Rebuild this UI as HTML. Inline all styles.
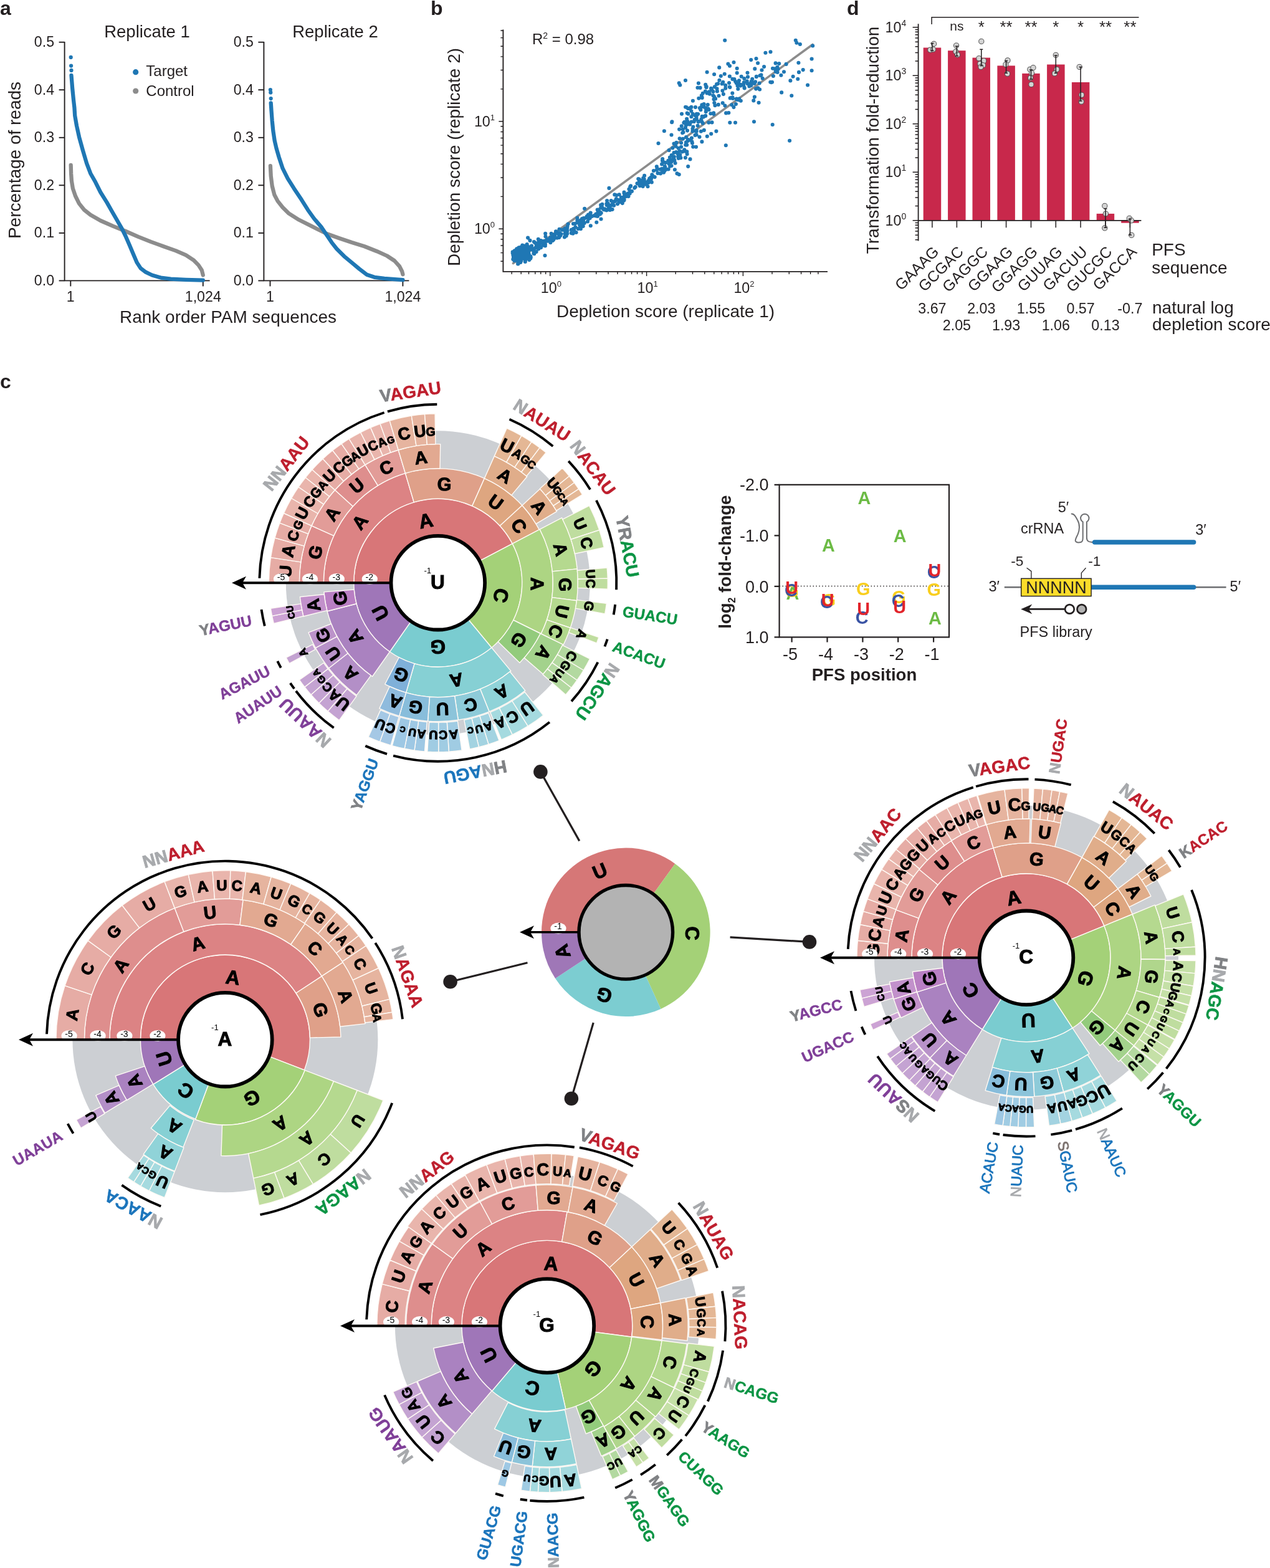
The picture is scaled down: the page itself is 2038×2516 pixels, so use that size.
<!DOCTYPE html>
<html lang="en"><head><meta charset="utf-8"><title>Figure</title>
<style>
html,body{margin:0;padding:0;background:#fff;}
body{width:2038px;height:2516px;overflow:hidden;}
svg{display:block;font-family:'Liberation Sans', sans-serif;}
</style></head><body>
<svg width="2038" height="2516" viewBox="0 0 2038 2516" fill="#231f20">

<g id="panel-a">
<text x="0.0" y="23.5" font-size="32" font-weight="bold">a</text>
<path d="M103.6 67.0V450.4H336.6" fill="none" stroke="#231f20" stroke-width="1.9"/>
<line x1="94.6" y1="450.4" x2="103.6" y2="450.4" stroke="#231f20" stroke-width="1.9"/>
<text x="87.1" y="457.9" font-size="23.2" text-anchor="end">0.0</text>
<line x1="94.6" y1="373.9" x2="103.6" y2="373.9" stroke="#231f20" stroke-width="1.9"/>
<text x="87.1" y="381.4" font-size="23.2" text-anchor="end">0.1</text>
<line x1="94.6" y1="297.3" x2="103.6" y2="297.3" stroke="#231f20" stroke-width="1.9"/>
<text x="87.1" y="304.8" font-size="23.2" text-anchor="end">0.2</text>
<line x1="94.6" y1="220.8" x2="103.6" y2="220.8" stroke="#231f20" stroke-width="1.9"/>
<text x="87.1" y="228.3" font-size="23.2" text-anchor="end">0.3</text>
<line x1="94.6" y1="144.2" x2="103.6" y2="144.2" stroke="#231f20" stroke-width="1.9"/>
<text x="87.1" y="151.7" font-size="23.2" text-anchor="end">0.4</text>
<line x1="94.6" y1="67.7" x2="103.6" y2="67.7" stroke="#231f20" stroke-width="1.9"/>
<text x="87.1" y="75.2" font-size="23.2" text-anchor="end">0.5</text>
<line x1="113.3" y1="450.4" x2="113.3" y2="459.4" stroke="#231f20" stroke-width="1.9"/>
<text x="113.3" y="483.9" font-size="23.2" text-anchor="middle">1</text>
<line x1="325.8" y1="450.4" x2="325.8" y2="459.4" stroke="#231f20" stroke-width="1.9"/>
<text x="325.8" y="483.9" font-size="23.2" text-anchor="middle">1,024</text>
<text x="236.0" y="59.5" font-size="27.5" text-anchor="middle">Replicate 1</text>
<path d="M423.4 67.0V450.4H656.4" fill="none" stroke="#231f20" stroke-width="1.9"/>
<line x1="414.4" y1="450.4" x2="423.4" y2="450.4" stroke="#231f20" stroke-width="1.9"/>
<text x="406.9" y="457.9" font-size="23.2" text-anchor="end">0.0</text>
<line x1="414.4" y1="373.9" x2="423.4" y2="373.9" stroke="#231f20" stroke-width="1.9"/>
<text x="406.9" y="381.4" font-size="23.2" text-anchor="end">0.1</text>
<line x1="414.4" y1="297.3" x2="423.4" y2="297.3" stroke="#231f20" stroke-width="1.9"/>
<text x="406.9" y="304.8" font-size="23.2" text-anchor="end">0.2</text>
<line x1="414.4" y1="220.8" x2="423.4" y2="220.8" stroke="#231f20" stroke-width="1.9"/>
<text x="406.9" y="228.3" font-size="23.2" text-anchor="end">0.3</text>
<line x1="414.4" y1="144.2" x2="423.4" y2="144.2" stroke="#231f20" stroke-width="1.9"/>
<text x="406.9" y="151.7" font-size="23.2" text-anchor="end">0.4</text>
<line x1="414.4" y1="67.7" x2="423.4" y2="67.7" stroke="#231f20" stroke-width="1.9"/>
<text x="406.9" y="75.2" font-size="23.2" text-anchor="end">0.5</text>
<line x1="433.5" y1="450.4" x2="433.5" y2="459.4" stroke="#231f20" stroke-width="1.9"/>
<text x="433.5" y="483.9" font-size="23.2" text-anchor="middle">1</text>
<line x1="646.4" y1="450.4" x2="646.4" y2="459.4" stroke="#231f20" stroke-width="1.9"/>
<text x="646.4" y="483.9" font-size="23.2" text-anchor="middle">1,024</text>
<text x="538.0" y="59.5" font-size="27.5" text-anchor="middle">Replicate 2</text>
<text x="366.0" y="518.0" font-size="28" text-anchor="middle">Rank order PAM sequences</text>
<text font-size="28" text-anchor="middle" transform="translate(32.5 257.0) rotate(-90.0)">Percentage of reads</text>
<path d="M113.7 264.9L114.1 278.2L114.9 290.3L116.9 302.4L121.0 314.5L127.0 326.6L135.1 336.7L145.2 344.8L161.3 354.0L181.5 362.9L201.6 371.0L221.8 379.8L241.9 387.9L262.1 395.2L282.3 402.4L298.4 409.3L310.5 417.3L318.5 425.4L323.8 433.5L325.8 441.5" fill="none" stroke="#8c8c8c" stroke-width="6.3" stroke-linecap="round" stroke-linejoin="round"/>
<path d="M114.5 121.0L116.1 141.1L118.1 161.3L119.4 172.6L120.2 185.5L123.0 201.6L127.0 219.8L133.1 241.9L139.1 262.1L145.2 278.2L153.2 292.3L161.3 308.5L171.4 324.6L179.4 338.7L187.5 352.8L195.6 366.9L201.6 379.0L207.7 393.1L213.7 407.3L219.8 421.4L225.8 430.6L233.9 436.7L244.0 441.5L258.1 445.6L274.2 447.6L298.4 448.8L325.8 449.6" fill="none" stroke="#1f77b4" stroke-width="6.3" stroke-linecap="round" stroke-linejoin="round"/>
<path d="M433.9 266.1L434.7 282.3L436.7 298.4L440.3 312.5L445.6 322.6L453.6 332.7L463.7 342.7L479.8 352.8L500.0 362.9L524.2 375.0L544.4 382.3L564.5 389.1L584.7 395.2L604.8 403.2L621.0 410.5L633.1 418.5L641.1 427.4L645.2 435.5L646.4 440.3" fill="none" stroke="#8c8c8c" stroke-width="6.3" stroke-linecap="round" stroke-linejoin="round"/>
<path d="M434.7 165.3L435.5 177.4L436.7 193.5L438.3 209.7L440.7 225.8L443.5 237.9L447.6 252.0L453.6 270.2L461.7 286.3L471.8 302.4L483.9 320.6L494.0 336.7L504.0 350.8L516.1 364.9L524.2 377.0L532.3 389.1L540.3 399.2L552.4 411.3L564.5 421.4L576.6 431.5L588.7 440.7L600.8 444.8L616.9 446.8L646.4 449.2" fill="none" stroke="#1f77b4" stroke-width="6.3" stroke-linecap="round" stroke-linejoin="round"/>
<circle cx="113.7" cy="91.9" r="3.1" fill="#1f77b4"/>
<circle cx="114.1" cy="105.6" r="3.1" fill="#1f77b4"/>
<circle cx="114.5" cy="112.9" r="3.1" fill="#1f77b4"/>
<circle cx="433.9" cy="144.0" r="3.1" fill="#1f77b4"/>
<circle cx="434.3" cy="148.4" r="3.1" fill="#1f77b4"/>
<circle cx="434.7" cy="158.1" r="3.1" fill="#1f77b4"/>
<circle cx="217.7" cy="115.7" r="4.6" fill="#1f77b4"/>
<circle cx="217.7" cy="146.0" r="4.6" fill="#8c8c8c"/>
<text x="234.3" y="122.2" font-size="24">Target</text>
<text x="234.3" y="153.6" font-size="24">Control</text>
</g>
<g id="panel-b">
<text x="691.0" y="23.5" font-size="32" font-weight="bold">b</text>
<path d="M807.4 47.6V435.9H1328" fill="none" stroke="#231f20" stroke-width="1.9"/>
<path d="M821.2 435.9v4M836.2 435.9v4M807.4 419.2h-4M848.5 435.9v4M807.4 405.6h-4M858.8 435.9v4M807.4 394.0h-4M867.8 435.9v4M807.4 384.0h-4M875.7 435.9v4M807.4 375.2h-4M882.8 435.9v7M807.4 367.3h-7M929.4 435.9v4M807.4 315.4h-4M956.7 435.9v4M807.4 285.0h-4M976.0 435.9v4M807.4 263.4h-4M991.0 435.9v4M807.4 246.7h-4M1003.3 435.9v4M807.4 233.1h-4M1013.6 435.9v4M807.4 221.5h-4M1022.6 435.9v4M807.4 211.5h-4M1030.5 435.9v4M807.4 202.7h-4M1037.6 435.9v7M807.4 194.8h-7M1084.2 435.9v4M807.4 142.9h-4M1111.5 435.9v4M807.4 112.5h-4M1130.8 435.9v4M807.4 90.9h-4M1145.8 435.9v4M807.4 74.2h-4M1158.1 435.9v4M807.4 60.6h-4M1168.4 435.9v4M807.4 49.0h-4M1177.4 435.9v4M1185.3 435.9v4M1192.4 435.9v7M1239.0 435.9v4M1266.3 435.9v4M1285.6 435.9v4M1300.6 435.9v4M1312.9 435.9v4" fill="none" stroke="#231f20" stroke-width="1.4"/>
<text x="867.8" y="470.4" font-size="23.3">10<tspan font-size="13" dy="-10">0</tspan></text>
<text x="1022.6" y="470.4" font-size="23.3">10<tspan font-size="13" dy="-10">1</tspan></text>
<text x="1177.4" y="470.4" font-size="23.3">10<tspan font-size="13" dy="-10">2</tspan></text>
<text x="760.9" y="375.3" font-size="23.3">10<tspan font-size="13" dy="-10">0</tspan></text>
<text x="760.9" y="202.8" font-size="23.3">10<tspan font-size="13" dy="-10">1</tspan></text>
<text x="1068.0" y="509.0" font-size="28" text-anchor="middle">Depletion score (replicate 1)</text>
<text font-size="28" text-anchor="middle" transform="translate(738.0 252.0) rotate(-90.0)">Depletion score (replicate 2)</text>
<text x="854" y="70.5" font-size="24">R<tspan font-size="14" dy="-9">2</tspan><tspan dy="9"> = 0.98</tspan></text>
<line x1="823.5" y1="422.5" x2="1304.0" y2="71.5" stroke="#8c8c8c" stroke-width="3.6" stroke-linecap="round"/>
<path d="M822.7 404.3h0M826.3 406.3h0M823.4 409.2h0M837.3 411.2h0M825.4 418.2h0M831.4 423.5h0M830.5 408.4h0M824.4 414.4h0M827.7 413.6h0M826.1 403.6h0M827.3 409.0h0M830.4 406.2h0M843.5 416.1h0M833.2 407.3h0M833.8 417.6h0M830.1 415.1h0M836.0 407.3h0M829.1 417.6h0M835.4 405.2h0M831.5 411.5h0M826.4 408.0h0M836.4 410.7h0M831.5 419.2h0M823.9 411.0h0M826.3 414.2h0M836.0 412.3h0M830.7 409.4h0M834.8 403.0h0M825.3 406.9h0M843.0 418.0h0M830.0 411.3h0M829.1 411.8h0M824.0 413.0h0M830.7 406.2h0M831.4 400.8h0M836.6 408.4h0M835.5 409.9h0M823.3 416.1h0M831.6 421.2h0M831.0 408.3h0M827.1 417.6h0M835.7 406.8h0M832.3 408.9h0M836.0 411.7h0M832.4 415.3h0M829.4 415.5h0M826.7 413.7h0M828.2 415.3h0M834.7 412.3h0M840.2 414.7h0M831.0 407.8h0M831.2 421.7h0M833.7 410.3h0M827.4 403.0h0M829.9 414.1h0M827.5 412.5h0M829.2 408.8h0M834.1 401.8h0M836.8 411.9h0M835.5 413.6h0M830.4 404.9h0M837.1 414.6h0M839.1 413.8h0M827.2 413.2h0M830.2 412.9h0M838.5 414.5h0M833.5 410.2h0M823.3 406.2h0M830.4 416.2h0M834.3 409.7h0M831.9 406.0h0M834.8 403.0h0M824.2 407.2h0M837.1 411.7h0M831.8 408.9h0M831.3 417.1h0M835.4 412.9h0M825.5 411.1h0M825.5 408.6h0M831.1 406.1h0M835.0 405.0h0M825.7 416.1h0M830.0 406.4h0M836.1 410.9h0M836.3 418.4h0M828.7 413.8h0M828.7 403.9h0M831.8 416.3h0M835.7 409.8h0M830.2 417.7h0M835.5 409.9h0M826.2 412.4h0M830.7 411.5h0M835.0 410.5h0M834.6 407.5h0M823.3 407.4h0M822.7 406.2h0M837.2 413.7h0M836.3 409.9h0M829.0 405.3h0M831.1 423.4h0M829.2 399.2h0M831.8 420.0h0M832.6 415.3h0M830.0 412.6h0M825.3 416.0h0M836.9 409.5h0M836.0 409.7h0M827.1 412.0h0M836.0 414.7h0M838.7 409.7h0M832.3 407.4h0M825.8 402.2h0M831.7 408.0h0M836.0 411.1h0M838.6 413.8h0M834.6 410.6h0M830.0 410.5h0M832.2 402.3h0M829.8 404.2h0M837.5 413.8h0M835.3 420.9h0M826.9 411.2h0M829.6 417.3h0M830.6 409.6h0M833.3 412.3h0M836.3 411.5h0M825.6 413.3h0M827.7 411.5h0M837.6 411.9h0M830.8 413.3h0M829.0 408.0h0M833.1 411.7h0M828.3 407.8h0M827.5 402.7h0M824.7 415.2h0M835.3 405.0h0M843.5 406.7h0M837.8 409.4h0M834.0 408.5h0M830.4 400.2h0M824.8 409.3h0M828.7 415.0h0M837.1 409.9h0M829.2 412.7h0M833.9 409.7h0M829.9 418.2h0M829.0 409.2h0M831.5 413.6h0M837.5 409.0h0M839.3 412.6h0M846.8 398.8h0M841.1 396.7h0M831.9 404.9h0M835.7 396.6h0M843.2 405.1h0M848.6 415.1h0M842.1 400.6h0M843.2 396.5h0M847.0 413.8h0M841.7 413.7h0M845.8 405.2h0M848.8 408.4h0M844.8 403.6h0M848.5 406.7h0M844.9 409.1h0M842.5 400.7h0M846.2 399.5h0M841.3 397.3h0M845.0 412.4h0M841.1 406.0h0M831.7 400.7h0M839.4 403.7h0M838.7 403.6h0M841.0 411.7h0M845.6 410.9h0M844.0 395.9h0M832.3 399.4h0M837.9 409.7h0M845.7 406.3h0M851.3 414.7h0M838.2 397.2h0M842.9 401.7h0M845.6 400.5h0M842.2 409.1h0M841.8 410.6h0M843.0 412.6h0M842.8 420.0h0M838.6 411.7h0M844.2 408.1h0M845.7 412.3h0M846.5 414.2h0M848.4 408.2h0M843.1 404.4h0M846.5 407.3h0M843.6 398.7h0M841.7 394.5h0M849.3 417.1h0M846.9 402.3h0M846.3 404.3h0M843.2 402.4h0M839.5 397.7h0M848.1 403.3h0M851.5 411.3h0M839.3 410.4h0M840.5 402.7h0M844.7 405.6h0M841.1 396.0h0M839.7 400.8h0M837.4 406.0h0M842.9 412.8h0M843.5 404.1h0M844.9 402.4h0M832.6 397.2h0M835.9 396.6h0M847.0 396.5h0M837.9 408.0h0M834.1 400.8h0M846.9 398.7h0M840.8 407.1h0M838.8 402.1h0M846.1 401.7h0M839.0 404.7h0M834.9 405.3h0M851.8 413.0h0M841.4 406.4h0M838.3 393.5h0M849.7 400.9h0M840.9 400.5h0M844.7 406.0h0M863.8 383.8h0M867.3 396.1h0M870.9 389.8h0M858.3 389.2h0M868.0 386.1h0M845.7 392.0h0M856.4 406.5h0M874.9 394.4h0M850.2 400.3h0M859.0 398.0h0M860.5 395.9h0M860.6 404.1h0M857.0 388.1h0M867.5 396.6h0M864.3 388.2h0M868.0 397.2h0M869.3 386.9h0M865.6 394.6h0M864.2 399.4h0M873.2 386.7h0M853.1 394.5h0M875.0 392.1h0M847.1 395.6h0M857.0 403.5h0M863.8 395.0h0M853.8 400.5h0M852.1 397.9h0M856.9 399.2h0M852.1 399.8h0M861.9 397.3h0M857.3 407.3h0M850.5 385.9h0M861.7 395.0h0M871.3 391.5h0M860.1 390.9h0M871.4 387.7h0M847.4 395.8h0M865.7 391.0h0M855.7 400.8h0M856.1 402.6h0M885.5 385.5h0M886.7 385.9h0M872.6 393.7h0M889.0 382.9h0M888.3 384.6h0M883.4 389.3h0M888.9 376.6h0M880.8 386.3h0M889.6 380.7h0M887.0 385.9h0M878.8 384.8h0M875.5 379.6h0M878.2 385.0h0M875.2 374.7h0M886.5 380.5h0M878.0 385.1h0M882.4 382.7h0M888.9 380.5h0M884.5 380.9h0M883.1 381.6h0M877.9 384.1h0M875.1 387.3h0M884.6 374.8h0M878.7 386.7h0M897.2 381.1h0M910.4 370.3h0M910.1 366.5h0M896.8 376.6h0M905.9 380.4h0M897.6 367.8h0M908.8 371.1h0M898.1 373.9h0M893.6 372.7h0M906.6 366.5h0M890.7 376.4h0M909.1 372.7h0M900.6 375.5h0M909.8 373.1h0M910.6 363.5h0M906.7 375.0h0M911.6 359.5h0M916.8 368.8h0M906.8 370.7h0M892.0 371.2h0M899.2 378.2h0M908.7 378.4h0M894.0 381.7h0M902.2 368.9h0M916.8 374.1h0M910.2 374.9h0M923.4 364.6h0M930.0 359.9h0M930.3 359.3h0M924.6 373.0h0M933.8 353.5h0M934.0 351.0h0M937.8 357.9h0M930.2 361.3h0M933.2 359.6h0M920.0 359.0h0M935.7 363.0h0M921.3 369.3h0M926.4 353.8h0M930.6 358.4h0M931.9 367.2h0M936.6 350.1h0M931.0 363.0h0M926.4 349.7h0M927.8 367.1h0M936.1 354.4h0M936.1 352.8h0M920.2 367.1h0M928.3 357.7h0M931.7 353.5h0M923.0 358.7h0M919.4 374.8h0M956.9 346.6h0M962.9 340.4h0M954.6 346.1h0M962.9 343.8h0M964.7 341.8h0M948.1 347.2h0M961.1 342.2h0M948.4 346.5h0M943.0 355.5h0M957.3 356.8h0M953.9 345.8h0M962.9 341.7h0M959.9 336.7h0M947.8 362.2h0M943.9 348.4h0M962.6 341.5h0M958.7 336.6h0M959.7 340.0h0M959.0 347.0h0M944.8 351.1h0M958.9 342.5h0M941.8 347.1h0M944.0 344.6h0M956.3 343.6h0M960.0 338.2h0M964.5 351.5h0M947.7 341.5h0M939.8 349.7h0M946.7 349.9h0M946.6 349.3h0M945.7 346.2h0M962.2 340.6h0M950.1 346.9h0M960.6 336.5h0M973.8 329.2h0M977.3 331.7h0M975.2 336.3h0M976.7 334.0h0M985.1 329.8h0M966.4 327.7h0M980.9 329.4h0M977.7 331.5h0M978.8 336.9h0M974.1 322.0h0M968.5 336.1h0M973.4 327.1h0M969.5 335.5h0M980.7 322.1h0M982.8 327.5h0M973.3 337.4h0M975.8 326.9h0M982.6 336.1h0M968.7 335.2h0M978.9 334.2h0M964.2 333.4h0M969.4 336.5h0M970.5 335.4h0M964.1 329.1h0M968.6 336.1h0M966.4 333.0h0M995.5 320.9h0M1003.4 315.5h0M992.9 321.0h0M986.3 312.4h0M993.7 312.3h0M1001.2 321.7h0M1001.7 320.6h0M1000.5 321.5h0M1001.5 310.3h0M1001.5 308.6h0M990.5 320.6h0M998.9 319.4h0M988.8 319.0h0M998.8 326.1h0M1005.4 315.0h0M985.5 323.8h0M993.5 324.4h0M989.4 313.3h0M1001.6 315.2h0M991.0 327.3h0M996.8 316.7h0M987.2 322.2h0M1008.5 315.1h0M1019.7 300.1h0M1013.9 306.9h0M1007.9 310.3h0M1009.4 303.6h0M1006.7 311.2h0M1018.3 301.6h0M1011.2 307.1h0M1011.2 299.8h0M1010.8 307.8h0M1010.7 310.6h0M1012.1 298.3h0M1025.6 294.8h0M1026.8 298.3h0M1039.5 299.3h0M1027.7 294.7h0M1031.8 292.3h0M1031.8 290.9h0M1032.4 296.3h0M1036.7 294.7h0M1031.6 297.9h0M1035.5 295.6h0M1032.2 285.8h0M1024.8 294.1h0M1025.8 295.9h0M1030.0 289.8h0M1030.8 294.4h0M1031.7 299.1h0M1027.7 294.5h0M1025.7 287.6h0M1024.3 287.1h0M1033.7 287.5h0M1030.9 290.7h0M1039.1 293.1h0M1041.3 290.8h0M1034.0 290.6h0M1042.7 289.3h0M1027.0 295.0h0M1022.5 294.3h0M1025.8 289.8h0M1030.4 289.8h0M1040.3 293.3h0M1031.3 297.5h0M1033.1 290.3h0M1040.5 290.0h0M1032.3 286.7h0M1033.0 291.1h0M1035.2 292.1h0M1050.7 284.1h0M1044.9 287.3h0M1042.2 286.6h0M1048.7 283.4h0M1045.8 292.4h0M1044.1 285.8h0M1054.5 270.4h0M1044.3 284.7h0M1045.1 285.9h0M1053.8 272.7h0M1048.9 274.0h0M1059.9 278.4h0M1055.5 277.9h0M1034.1 281.9h0M1065.0 276.8h0M1046.3 280.2h0M1077.2 260.1h0M1073.4 262.8h0M1059.4 271.7h0M1062.4 270.9h0M1065.3 260.4h0M1065.6 273.5h0M1062.1 263.4h0M1077.5 266.0h0M1063.2 255.1h0M1064.4 271.4h0M1077.2 256.9h0M1062.5 271.0h0M1075.1 266.8h0M1067.3 268.2h0M1066.9 267.1h0M1063.5 275.8h0M1065.1 272.6h0M1082.3 257.8h0M1063.0 257.7h0M1072.6 271.5h0M1067.8 261.1h0M1082.9 272.2h0M1069.3 271.7h0M1066.0 272.9h0M1066.4 274.3h0M1072.3 257.8h0M1066.5 272.3h0M1053.8 267.2h0M1087.5 246.6h0M1092.5 253.2h0M1107.5 255.4h0M1081.1 251.3h0M1099.9 253.1h0M1077.6 249.1h0M1088.2 251.3h0M1085.1 244.1h0M1090.7 242.4h0M1081.0 253.2h0M1079.4 237.5h0M1082.3 256.9h0M1081.8 251.5h0M1081.5 245.0h0M1088.8 254.0h0M1088.6 237.7h0M1083.6 261.8h0M1095.0 243.5h0M1091.3 248.6h0M1092.2 253.4h0M1073.6 241.1h0M1074.9 252.6h0M1103.5 226.3h0M1110.4 227.3h0M1093.1 229.2h0M1095.8 222.7h0M1090.6 222.3h0M1084.5 234.7h0M1112.2 235.6h0M1085.4 228.9h0M1109.9 221.6h0M1101.1 220.1h0M1110.9 229.6h0M1126.4 227.4h0M1101.0 228.4h0M1117.0 235.8h0M1065.9 210.2h0M1102.6 247.3h0M1098.3 240.2h0M1102.2 232.6h0M1093.1 235.8h0M1100.2 232.6h0M1099.7 242.7h0M1077.5 216.5h0M1107.2 224.6h0M1102.3 243.4h0M1103.7 223.9h0M1081.5 230.6h0M1112.3 203.6h0M1117.8 190.8h0M1109.5 195.5h0M1107.1 199.6h0M1100.0 204.7h0M1090.1 207.6h0M1117.6 216.2h0M1111.5 206.7h0M1102.1 190.8h0M1122.5 219.8h0M1103.3 194.9h0M1117.6 209.1h0M1111.4 210.6h0M1078.1 196.2h0M1103.0 209.6h0M1104.1 197.3h0M1115.5 216.9h0M1117.7 210.8h0M1098.4 195.7h0M1095.2 213.3h0M1116.4 210.5h0M1104.5 199.3h0M1124.9 210.7h0M1095.8 207.6h0M1119.7 201.7h0M1129.8 208.9h0M1096.5 212.3h0M1103.5 198.4h0M1113.8 195.1h0M1097.4 197.0h0M1100.7 200.9h0M1141.2 214.7h0M1094.0 182.7h0M1093.7 202.3h0M1102.7 181.6h0M1133.1 176.8h0M1111.8 182.9h0M1117.9 182.9h0M1104.4 182.7h0M1125.8 171.3h0M1124.4 176.3h0M1142.5 196.4h0M1129.4 171.6h0M1104.0 174.1h0M1115.4 191.7h0M1132.0 185.9h0M1126.4 195.5h0M1117.6 186.9h0M1126.7 186.9h0M1107.3 173.3h0M1145.4 183.1h0M1127.9 197.7h0M1100.1 171.8h0M1126.4 168.4h0M1120.6 195.6h0M1132.8 179.2h0M1120.5 194.9h0M1111.9 161.7h0M1109.4 187.2h0M1137.3 196.8h0M1101.3 172.0h0M1140.4 182.2h0M1129.1 187.6h0M1115.6 185.3h0M1107.1 173.9h0M1107.3 174.5h0M1114.7 192.1h0M1109.4 171.9h0M1125.3 191.6h0M1109.3 178.3h0M1122.8 173.2h0M1120.1 183.1h0M1132.2 185.9h0M1116.0 172.1h0M1134.5 149.4h0M1123.6 140.9h0M1136.2 174.2h0M1135.8 168.0h0M1142.2 144.1h0M1169.3 181.0h0M1144.4 147.1h0M1148.1 158.4h0M1129.5 168.3h0M1120.9 133.6h0M1165.1 181.4h0M1144.4 153.2h0M1133.7 139.0h0M1153.5 153.7h0M1132.2 135.7h0M1127.8 149.8h0M1126.7 156.9h0M1145.2 181.3h0M1138.8 150.8h0M1125.8 153.4h0M1146.3 165.0h0M1119.5 140.7h0M1137.5 176.1h0M1121.3 157.8h0M1152.8 167.9h0M1133.1 139.4h0M1129.6 167.1h0M1145.5 159.3h0M1126.3 155.5h0M1131.9 146.6h0M1141.1 141.9h0M1147.4 169.3h0M1146.0 155.1h0M1137.9 147.4h0M1132.7 173.4h0M1133.5 140.2h0M1177.4 172.1h0M1158.6 134.5h0M1175.3 149.6h0M1182.2 159.6h0M1160.2 131.8h0M1163.4 169.6h0M1181.9 158.5h0M1160.9 151.1h0M1176.0 158.0h0M1174.3 168.2h0M1162.7 118.7h0M1170.0 133.1h0M1170.7 139.6h0M1146.8 139.4h0M1159.4 145.5h0M1164.2 141.7h0M1146.1 119.3h0M1159.7 165.3h0M1156.8 122.0h0M1154.4 128.8h0M1171.4 140.1h0M1170.9 122.5h0M1152.1 134.3h0M1175.5 156.2h0M1164.2 136.9h0M1188.8 161.8h0M1180.9 167.0h0M1150.5 142.2h0M1175.5 126.9h0M1150.9 146.4h0M1134.6 115.8h0M1172.5 157.0h0M1171.7 157.4h0M1150.1 135.1h0M1194.4 140.6h0M1186.0 129.3h0M1177.5 100.0h0M1194.7 141.4h0M1178.4 127.0h0M1209.3 161.4h0M1199.5 134.3h0M1182.7 117.0h0M1182.7 109.7h0M1168.4 102.5h0M1186.2 158.6h0M1202.6 134.5h0M1194.3 126.1h0M1188.7 135.9h0M1184.7 160.2h0M1202.4 138.4h0M1185.3 134.1h0M1198.7 130.2h0M1189.7 122.8h0M1193.2 136.4h0M1184.3 142.7h0M1188.3 137.6h0M1180.0 130.5h0M1193.8 132.2h0M1183.5 137.6h0M1181.6 133.3h0M1221.5 120.4h0M1223.7 125.7h0M1216.4 141.2h0M1217.6 164.7h0M1219.1 143.5h0M1222.5 112.5h0M1213.8 123.3h0M1216.1 101.3h0M1199.5 116.8h0M1205.4 137.1h0M1210.9 155.6h0M1226.1 107.1h0M1200.0 123.4h0M1213.1 142.6h0M1219.6 121.3h0M1213.8 122.7h0M1210.6 133.9h0M1207.2 126.8h0M1212.1 131.3h0M1211.3 110.4h0M1213.5 94.0h0M1205.7 130.9h0M1206.8 131.8h0M1218.6 133.5h0M1244.7 113.6h0M1250.2 102.1h0M1248.6 111.0h0M1253.4 120.8h0M1247.6 116.0h0M1237.8 132.3h0M1236.3 131.8h0M1244.6 101.4h0M1240.9 122.0h0M1239.0 131.7h0M1243.5 110.3h0M1244.9 115.0h0M1247.5 107.8h0M1240.0 109.7h0M1288.7 112.1h0M1282.0 115.9h0M1272.6 122.8h0M1258.0 115.3h0M1280.3 126.7h0M1268.4 129.4h0M1261.6 102.9h0M1281.4 100.7h0M1163.2 64.8h0M1276.8 64.8h0M1278.4 68.7h0M1283.9 71.0h0M1304.2 73.5h0M1228.4 84.8h0M1236.5 83.2h0M1302.6 94.5h0M1302.6 113.2h0M1296.1 136.5h0M1267.1 225.8h0M1164.8 233.2h0M1239.7 200.0h0M1210.0 195.2h0M1180.0 196.8h0M1171.3 196.8h0M977.4 301.9h0M938.1 334.8h0M874.5 410.0h0M847.1 381.6h0M1056.5 230.0h0M1089.7 133.2h0M1100.0 129.0h0M1091.3 136.5h0M1205.2 96.1h0M1154.2 108.4h0M1171.0 105.8h0M1270.3 153.5h0M1254.2 148.4h0M1104.2 267.1h0M1086.5 278.4h0M1089.7 280.0h0M1078.4 195.2h0M1149.4 210.6h0M1134.8 218.7h0" fill="none" stroke="#1f77b4" stroke-width="6.1" stroke-linecap="round"/>
</g>
<g id="panel-d">
<text x="1359.0" y="23.5" font-size="32" font-weight="bold">d</text>
<rect x="1481.7" y="76.5" width="28.5" height="277.3" fill="#c8284b"/>
<rect x="1521.1" y="81.2" width="28.5" height="272.6" fill="#c8284b"/>
<rect x="1560.5" y="92.6" width="28.5" height="261.3" fill="#c8284b"/>
<rect x="1600.4" y="105.4" width="28.5" height="248.4" fill="#c8284b"/>
<rect x="1640.2" y="117.9" width="28.5" height="235.9" fill="#c8284b"/>
<rect x="1680.1" y="103.5" width="28.5" height="250.3" fill="#c8284b"/>
<rect x="1719.9" y="132.0" width="28.5" height="221.8" fill="#c8284b"/>
<rect x="1759.7" y="342.9" width="28.5" height="10.9" fill="#c8284b"/>
<rect x="1799.2" y="353.8" width="28.5" height="3.9" fill="#c8284b"/>
<line x1="1473.6" y1="38.3" x2="1473.6" y2="386.6" stroke="#231f20" stroke-width="1.8"/>
<line x1="1473.6" y1="353.8" x2="1831.4" y2="353.8" stroke="#231f20" stroke-width="1.8"/>
<path d="M1473.6 384.7h-5M1473.6 377.2h-5M1473.6 371.0h-5M1473.6 365.8h-5M1473.6 361.3h-5M1473.6 357.4h-5M1473.6 353.8h-9M1473.6 330.5h-5M1473.6 316.9h-5M1473.6 307.2h-5M1473.6 299.7h-5M1473.6 293.5h-5M1473.6 288.3h-5M1473.6 283.8h-5M1473.6 279.9h-5M1473.6 276.3h-9M1473.6 253.0h-5M1473.6 239.4h-5M1473.6 229.7h-5M1473.6 222.2h-5M1473.6 216.0h-5M1473.6 210.8h-5M1473.6 206.3h-5M1473.6 202.4h-5M1473.6 198.8h-9M1473.6 175.5h-5M1473.6 161.9h-5M1473.6 152.2h-5M1473.6 144.7h-5M1473.6 138.5h-5M1473.6 133.3h-5M1473.6 128.8h-5M1473.6 124.9h-5M1473.6 121.3h-9M1473.6 98.0h-5M1473.6 84.4h-5M1473.6 74.7h-5M1473.6 67.2h-5M1473.6 61.0h-5M1473.6 55.8h-5M1473.6 51.3h-5M1473.6 47.4h-5M1473.6 43.8h-9M1495.9 353.8v11.5M1535.4 353.8v11.5M1574.8 353.8v11.5M1614.6 353.8v11.5M1654.5 353.8v11.5M1694.3 353.8v11.5M1734.1 353.8v11.5M1774.0 353.8v11.5M1813.4 353.8v11.5" fill="none" stroke="#231f20" stroke-width="1.5"/>
<text x="1420.5" y="361.8" font-size="23.3">10<tspan font-size="14" dy="-10">0</tspan></text>
<text x="1420.5" y="284.3" font-size="23.3">10<tspan font-size="14" dy="-10">1</tspan></text>
<text x="1420.5" y="206.8" font-size="23.3">10<tspan font-size="14" dy="-10">2</tspan></text>
<text x="1420.5" y="129.3" font-size="23.3">10<tspan font-size="14" dy="-10">3</tspan></text>
<text x="1420.5" y="51.8" font-size="23.3">10<tspan font-size="14" dy="-10">4</tspan></text>
<circle cx="1492.8" cy="80.1" r="4.1" fill="#d4d4d4" stroke="#4d4d4d" stroke-width="1"/>
<circle cx="1498.6" cy="70.3" r="4.1" fill="#d4d4d4" stroke="#4d4d4d" stroke-width="1"/>
<circle cx="1497.5" cy="79.3" r="4.1" fill="#d4d4d4" stroke="#4d4d4d" stroke-width="1"/>
<path d="M1495.9 69.5V81.2M1493.4 69.5h5M1493.4 81.2h5" fill="none" stroke="#231f20" stroke-width="1.5"/>
<circle cx="1534.6" cy="73.0" r="4.1" fill="#d4d4d4" stroke="#4d4d4d" stroke-width="1"/>
<circle cx="1533.8" cy="82.8" r="4.1" fill="#d4d4d4" stroke="#4d4d4d" stroke-width="1"/>
<circle cx="1536.5" cy="87.9" r="4.1" fill="#d4d4d4" stroke="#4d4d4d" stroke-width="1"/>
<path d="M1535.4 74.2V89.8M1532.9 74.2h5M1532.9 89.8h5" fill="none" stroke="#231f20" stroke-width="1.5"/>
<circle cx="1574.8" cy="66.4" r="4.1" fill="#d4d4d4" stroke="#4d4d4d" stroke-width="1"/>
<circle cx="1570.9" cy="93.7" r="4.1" fill="#d4d4d4" stroke="#4d4d4d" stroke-width="1"/>
<circle cx="1578.7" cy="97.6" r="4.1" fill="#d4d4d4" stroke="#4d4d4d" stroke-width="1"/>
<circle cx="1572.8" cy="102.3" r="4.1" fill="#d4d4d4" stroke="#4d4d4d" stroke-width="1"/>
<circle cx="1577.5" cy="104.7" r="4.1" fill="#d4d4d4" stroke="#4d4d4d" stroke-width="1"/>
<circle cx="1574.0" cy="107.4" r="4.1" fill="#d4d4d4" stroke="#4d4d4d" stroke-width="1"/>
<path d="M1574.8 79.3V105.4M1572.3 79.3h5M1572.3 105.4h5" fill="none" stroke="#231f20" stroke-width="1.5"/>
<circle cx="1617.0" cy="96.9" r="4.1" fill="#d4d4d4" stroke="#4d4d4d" stroke-width="1"/>
<circle cx="1613.9" cy="103.5" r="4.1" fill="#d4d4d4" stroke="#4d4d4d" stroke-width="1"/>
<circle cx="1616.6" cy="118.3" r="4.1" fill="#d4d4d4" stroke="#4d4d4d" stroke-width="1"/>
<path d="M1614.6 97.6V117.2M1612.1 97.6h5M1612.1 117.2h5" fill="none" stroke="#231f20" stroke-width="1.5"/>
<circle cx="1652.9" cy="111.3" r="4.1" fill="#d4d4d4" stroke="#4d4d4d" stroke-width="1"/>
<circle cx="1658.0" cy="108.6" r="4.1" fill="#d4d4d4" stroke="#4d4d4d" stroke-width="1"/>
<circle cx="1655.6" cy="117.2" r="4.1" fill="#d4d4d4" stroke="#4d4d4d" stroke-width="1"/>
<circle cx="1653.7" cy="125.0" r="4.1" fill="#d4d4d4" stroke="#4d4d4d" stroke-width="1"/>
<circle cx="1654.9" cy="135.5" r="4.1" fill="#d4d4d4" stroke="#4d4d4d" stroke-width="1"/>
<path d="M1654.5 112.1V126.9M1652.0 112.1h5M1652.0 126.9h5" fill="none" stroke="#231f20" stroke-width="1.5"/>
<circle cx="1694.3" cy="88.3" r="4.1" fill="#d4d4d4" stroke="#4d4d4d" stroke-width="1"/>
<circle cx="1695.9" cy="111.3" r="4.1" fill="#d4d4d4" stroke="#4d4d4d" stroke-width="1"/>
<circle cx="1692.4" cy="117.9" r="4.1" fill="#d4d4d4" stroke="#4d4d4d" stroke-width="1"/>
<path d="M1694.3 89.0V117.2M1691.8 89.0h5M1691.8 117.2h5" fill="none" stroke="#231f20" stroke-width="1.5"/>
<circle cx="1732.2" cy="107.4" r="4.1" fill="#d4d4d4" stroke="#4d4d4d" stroke-width="1"/>
<circle cx="1735.7" cy="152.3" r="4.1" fill="#d4d4d4" stroke="#4d4d4d" stroke-width="1"/>
<circle cx="1735.3" cy="163.2" r="4.1" fill="#d4d4d4" stroke="#4d4d4d" stroke-width="1"/>
<path d="M1734.1 107.4V162.1M1731.6 107.4h5M1731.6 162.1h5" fill="none" stroke="#231f20" stroke-width="1.5"/>
<circle cx="1772.8" cy="330.4" r="4.1" fill="#d4d4d4" stroke="#4d4d4d" stroke-width="1"/>
<circle cx="1774.4" cy="342.9" r="4.1" fill="#d4d4d4" stroke="#4d4d4d" stroke-width="1"/>
<circle cx="1772.8" cy="365.9" r="4.1" fill="#d4d4d4" stroke="#4d4d4d" stroke-width="1"/>
<path d="M1774.0 335.1V365.2M1771.5 335.1h5M1771.5 365.2h5" fill="none" stroke="#231f20" stroke-width="1.5"/>
<circle cx="1812.3" cy="350.3" r="4.1" fill="#d4d4d4" stroke="#4d4d4d" stroke-width="1"/>
<circle cx="1815.4" cy="353.8" r="4.1" fill="#d4d4d4" stroke="#4d4d4d" stroke-width="1"/>
<circle cx="1815.8" cy="377.3" r="4.1" fill="#d4d4d4" stroke="#4d4d4d" stroke-width="1"/>
<path d="M1813.4 351.5V376.9M1810.9 351.5h5M1810.9 376.9h5" fill="none" stroke="#231f20" stroke-width="1.5"/>
<path d="M1495.1 39.1V27.7H1827.5" fill="none" stroke="#231f20" stroke-width="1.5"/>
<text x="1535.4" y="49.2" font-size="21" text-anchor="middle">ns</text>
<text x="1574.8" y="51.9" font-size="26" text-anchor="middle">*</text>
<text x="1614.6" y="51.9" font-size="26" text-anchor="middle">**</text>
<text x="1654.5" y="51.9" font-size="26" text-anchor="middle">**</text>
<text x="1694.3" y="51.9" font-size="26" text-anchor="middle">*</text>
<text x="1734.1" y="51.9" font-size="26" text-anchor="middle">*</text>
<text x="1774.0" y="51.9" font-size="26" text-anchor="middle">**</text>
<text x="1813.4" y="51.9" font-size="26" text-anchor="middle">**</text>
<text font-size="24.6" text-anchor="end" transform="translate(1508.0 405.4) rotate(-45.0)">GAAAG</text>
<text font-size="24.6" text-anchor="end" transform="translate(1547.5 405.4) rotate(-45.0)">GCGAC</text>
<text font-size="24.6" text-anchor="end" transform="translate(1586.9 405.4) rotate(-45.0)">GAGGC</text>
<text font-size="24.6" text-anchor="end" transform="translate(1626.7 405.4) rotate(-45.0)">GGAAG</text>
<text font-size="24.6" text-anchor="end" transform="translate(1666.6 405.4) rotate(-45.0)">GGAGG</text>
<text font-size="24.6" text-anchor="end" transform="translate(1706.4 405.4) rotate(-45.0)">GUUAG</text>
<text font-size="24.6" text-anchor="end" transform="translate(1746.3 405.4) rotate(-45.0)">GACUU</text>
<text font-size="24.6" text-anchor="end" transform="translate(1786.1 405.4) rotate(-45.0)">GUCGC</text>
<text font-size="24.6" text-anchor="end" transform="translate(1825.5 405.4) rotate(-45.0)">GACCA</text>
<text x="1848.2" y="410.1" font-size="28">PFS</text>
<text x="1848.2" y="439.4" font-size="28">sequence</text>
<text x="1849.0" y="503.0" font-size="28">natural log</text>
<text x="1849.0" y="530.0" font-size="28">depletion score</text>
<text x="1495.9" y="503.0" font-size="23.3" text-anchor="middle">3.67</text>
<text x="1535.4" y="530.0" font-size="23.3" text-anchor="middle">2.05</text>
<text x="1574.8" y="503.0" font-size="23.3" text-anchor="middle">2.03</text>
<text x="1614.6" y="530.0" font-size="23.3" text-anchor="middle">1.93</text>
<text x="1654.5" y="503.0" font-size="23.3" text-anchor="middle">1.55</text>
<text x="1694.3" y="530.0" font-size="23.3" text-anchor="middle">1.06</text>
<text x="1734.1" y="503.0" font-size="23.3" text-anchor="middle">0.57</text>
<text x="1774.0" y="530.0" font-size="23.3" text-anchor="middle">0.13</text>
<text x="1813.4" y="503.0" font-size="23.3" text-anchor="middle">-0.7</text>
<text font-size="28" text-anchor="middle" transform="translate(1409.5 225.0) rotate(-90.0)">Transformation fold-reduction</text>
</g>
<g id="panel-inset">
<line x1="1250.6" y1="940.6" x2="1523.0" y2="940.6" stroke="#231f20" stroke-width="1.5" stroke-dasharray="1.5 3.4"/>
<text x="1271.9" y="962.3" font-size="28.8" text-anchor="middle" font-weight="bold" fill="#6cbb45">A</text>
<text x="1270.6" y="957.5" font-size="28.8" text-anchor="middle" font-weight="bold" fill="#f9ce1d">G</text>
<text x="1269.4" y="956.8" font-size="28.8" text-anchor="middle" font-weight="bold" fill="#3953a4">C</text>
<text x="1270.6" y="952.6" font-size="28.8" text-anchor="middle" font-weight="bold" fill="#e2242b">U</text>
<text x="1329.4" y="884.9" font-size="28.8" text-anchor="middle" font-weight="bold" fill="#6cbb45">A</text>
<text x="1329.9" y="972.7" font-size="28.8" text-anchor="middle" font-weight="bold" fill="#f9ce1d">G</text>
<text x="1326.3" y="975.6" font-size="28.8" text-anchor="middle" font-weight="bold" fill="#3953a4">C</text>
<text x="1328.2" y="972.7" font-size="28.8" text-anchor="middle" font-weight="bold" fill="#e2242b">U</text>
<text x="1386.8" y="808.7" font-size="28.8" text-anchor="middle" font-weight="bold" fill="#6cbb45">A</text>
<text x="1385.1" y="955.1" font-size="28.8" text-anchor="middle" font-weight="bold" fill="#f9ce1d">G</text>
<text x="1383.1" y="1001.0" font-size="28.8" text-anchor="middle" font-weight="bold" fill="#3953a4">C</text>
<text x="1385.6" y="986.5" font-size="28.8" text-anchor="middle" font-weight="bold" fill="#e2242b">U</text>
<text x="1444.1" y="870.4" font-size="28.8" text-anchor="middle" font-weight="bold" fill="#6cbb45">A</text>
<text x="1442.4" y="968.4" font-size="28.8" text-anchor="middle" font-weight="bold" fill="#f9ce1d">G</text>
<text x="1441.2" y="974.4" font-size="28.8" text-anchor="middle" font-weight="bold" fill="#3953a4">C</text>
<text x="1443.6" y="984.1" font-size="28.8" text-anchor="middle" font-weight="bold" fill="#e2242b">U</text>
<text x="1500.5" y="1002.2" font-size="28.8" text-anchor="middle" font-weight="bold" fill="#6cbb45">A</text>
<text x="1498.8" y="956.3" font-size="28.8" text-anchor="middle" font-weight="bold" fill="#f9ce1d">G</text>
<text x="1498.1" y="928.4" font-size="28.8" text-anchor="middle" font-weight="bold" fill="#3953a4">C</text>
<text x="1499.8" y="924.8" font-size="28.8" text-anchor="middle" font-weight="bold" fill="#e2242b">U</text>
<rect x="1250.6" y="777.8" width="272.4" height="244.6" fill="none" stroke="#231f20" stroke-width="2.2"/>
<text x="1233.6" y="787.4" font-size="27" text-anchor="end">-2.0</text>
<text x="1233.6" y="869.0" font-size="27" text-anchor="end">-1.0</text>
<text x="1233.6" y="950.5" font-size="27" text-anchor="end">0.0</text>
<text x="1233.6" y="1032.0" font-size="27" text-anchor="end">1.0</text>
<text x="1268.1" y="1058.5" font-size="27" text-anchor="middle">-5</text>
<text x="1325.0" y="1058.5" font-size="27" text-anchor="middle">-4</text>
<text x="1381.9" y="1058.5" font-size="27" text-anchor="middle">-3</text>
<text x="1438.7" y="1058.5" font-size="27" text-anchor="middle">-2</text>
<text x="1495.6" y="1058.5" font-size="27" text-anchor="middle">-1</text>
<path d="M1250.6 777.8h-8M1250.6 859.4h-8M1250.6 940.9h-8M1250.6 1022.4h-8M1270.6 1022.4v8M1327.5 1022.4v8M1384.4 1022.4v8M1441.2 1022.4v8M1498.1 1022.4v8" fill="none" stroke="#231f20" stroke-width="2.2"/>
<text x="1387.0" y="1092.3" font-size="27.6" text-anchor="middle" font-weight="bold">PFS position</text>
<text transform="translate(1172.7 901.7) rotate(-90)" font-size="27.6" font-weight="bold" text-anchor="middle">log<tspan font-size="16" dy="7">2</tspan><tspan dy="-7"> fold-change</tspan></text>
</g>
<g id="panel-schem">
<path d="M1719.6 824.5C1725.0 824.5 1726.4 830.4 1729.1 834.5C1733.1 841.2 1732.6 850.7 1729.6 857.4C1727.7 861.4 1725.0 865.5 1725.8 868.2C1726.9 870.9 1731.8 870.9 1735.0 869.8C1737.1 869.0 1737.7 866.8 1737.7 862.8V837.4A6.7 6.7 0 1 1 1743.9 837.4V862.8C1743.9 868.2 1746.6 870.1 1756.0 870.1" fill="none" stroke="#6d6e71" stroke-width="2" stroke-linecap="round" stroke-linejoin="round"/>
<line x1="1756.6" y1="870.1" x2="1915.6" y2="870.1" stroke="#1f77b4" stroke-width="7.5" stroke-linecap="round"/>
<text x="1697.8" y="821.8" font-size="23.5">5′</text>
<text x="1918.3" y="858.2" font-size="23.5">3′</text>
<text x="1637.9" y="855.5" font-size="23.5">crRNA</text>
<line x1="1611.8" y1="942.3" x2="1967.6" y2="942.3" stroke="#6d6e71" stroke-width="2.4"/>
<line x1="1752.2" y1="942.3" x2="1915.6" y2="942.3" stroke="#1f77b4" stroke-width="7.5" stroke-linecap="round"/>
<rect x="1638.7" y="928.3" width="112.4" height="28.3" fill="#fcdc2a" stroke="#231f20" stroke-width="1.4"/>
<text x="1695.1" y="951.8" font-size="27" text-anchor="middle">NNNNN</text>
<text x="1586.4" y="949.1" font-size="23.5">3′</text>
<text x="1973.6" y="949.1" font-size="23.5">5′</text>
<text x="1622.3" y="908.1" font-size="22.7">-5</text>
<text x="1746.3" y="908.1" font-size="22.7">-1</text>
<path d="M1647.6 911.3L1654.9 916.7V928.3M1742.5 911.3L1735.3 919.4V928.3" fill="none" stroke="#231f20" stroke-width="1.3"/>
<line x1="1650.9" y1="977.4" x2="1708.8" y2="977.4" stroke="#231f20" stroke-width="2.7"/>
<path d="M1638.2 977.4L1656.3 969.5L1650.9 977.4L1656.3 985.2Z" fill="#231f20"/>
<circle cx="1716.4" cy="977.4" r="7.3" fill="#fff" stroke="#231f20" stroke-width="2.7"/>
<circle cx="1735.8" cy="977.4" r="7.3" fill="#b3b3b3" stroke="#231f20" stroke-width="2.7"/>
<text x="1636.6" y="1022.4" font-size="23.5">PFS library</text>
</g>
<text x="0.0" y="622.7" font-size="32" font-weight="bold">c</text>
<g id="connectors">
<line x1="867.4" y1="1238.4" x2="929.8" y2="1349.4" stroke="#231f20" stroke-width="3.2"/>
<circle cx="867.4" cy="1238.4" r="11.3" fill="#231f20"/>
<line x1="1299.0" y1="1511.4" x2="1171.6" y2="1503.8" stroke="#231f20" stroke-width="3.2"/>
<circle cx="1299.0" cy="1511.4" r="11.3" fill="#231f20"/>
<line x1="722.6" y1="1575.2" x2="846.5" y2="1544.8" stroke="#231f20" stroke-width="3.2"/>
<circle cx="722.6" cy="1575.2" r="11.3" fill="#231f20"/>
<line x1="916.9" y1="1762.7" x2="952.2" y2="1641.0" stroke="#231f20" stroke-width="3.2"/>
<circle cx="916.9" cy="1762.7" r="11.3" fill="#231f20"/>
</g>
<g id="sun-m">
<path d="M934.3 1495.8L869.0 1495.8A135.3 135.3 0 0 1 1083.3 1385.9L1045.1 1439.0A70.0 70.0 0 0 0 934.3 1495.8Z" fill="#d67777"/>
<path d="M1045.1 1439.0L1083.3 1385.9A135.3 135.3 0 0 1 1060.4 1618.9L1033.3 1559.5A70.0 70.0 0 0 0 1045.1 1439.0Z" fill="#a4d177"/>
<path d="M1033.3 1559.5L1060.4 1618.9A135.3 135.3 0 0 1 891.1 1569.9L945.7 1534.1A70.0 70.0 0 0 0 1033.3 1559.5Z" fill="#7ccdd1"/>
<path d="M945.7 1534.1L891.1 1569.9A135.3 135.3 0 0 1 869.0 1495.8L934.3 1495.8A70.0 70.0 0 0 0 945.7 1534.1Z" fill="#9f77b7"/>
<g font-weight="bold" text-anchor="middle" fill="#000" stroke="#000" stroke-width="1.0" stroke-linejoin="round">
<text transform="translate(962.5 1397.3) rotate(-23.0)" y="11.1" font-size="31">U</text>
<text transform="translate(1111.3 1497.7) rotate(91.0)" y="11.1" font-size="31">C</text>
<text transform="translate(969.5 1597.0) rotate(199.0)" y="11.1" font-size="31">G</text>
<text transform="translate(902.0 1527.1) rotate(253.0)" y="11.1" font-size="31">A</text>
</g>
<ellipse cx="896.0" cy="1489.5" rx="12.6" ry="9" fill="#fff"/>
<text x="895.5" y="1491.2" font-size="14" text-anchor="middle" fill="#000">-1</text>
<path d="M929.3 1495.8H848.0" stroke="#000" stroke-width="3.4" fill="none"/>
<path d="M834.0 1495.8l23 -10.5l-6 10.5l6 10.5z" fill="#000"/>
<circle cx="1004.3" cy="1495.8" r="75.3" fill="#b3b3b3" stroke="#000" stroke-width="5.4"/>
</g>
<g id="sun-u">
<circle cx="702.8" cy="935.2" r="244" fill="#cccfd3"/>
<path d="M627.5 935.2L567.8 935.2A135.0 135.0 0 0 1 822.3 872.4L769.5 900.2A75.3 75.3 0 0 0 627.5 935.2Z" fill="#d87678" stroke="#fffaf5" stroke-width="1.4" stroke-linejoin="round"/>
<path d="M769.5 900.2L822.3 872.4A135.0 135.0 0 0 1 788.9 1039.2L750.8 993.2A75.3 75.3 0 0 0 769.5 900.2Z" fill="#a4d178" stroke="#fffaf5" stroke-width="1.4" stroke-linejoin="round"/>
<path d="M750.8 993.2L788.9 1039.2A135.0 135.0 0 0 1 625.4 1045.8L659.6 996.9A75.3 75.3 0 0 0 750.8 993.2Z" fill="#7accd0" stroke="#fffaf5" stroke-width="1.4" stroke-linejoin="round"/>
<path d="M659.6 996.9L625.4 1045.8A135.0 135.0 0 0 1 567.8 935.2L627.5 935.2A75.3 75.3 0 0 0 659.6 996.9Z" fill="#9f76b8" stroke="#fffaf5" stroke-width="1.4" stroke-linejoin="round"/>
<path d="M567.8 935.2L519.3 935.2A183.5 183.5 0 0 1 650.4 759.3L664.2 805.8A135.0 135.0 0 0 0 567.8 935.2Z" fill="#dc8384" stroke="#fffaf5" stroke-width="1.4" stroke-linejoin="round"/>
<path d="M664.2 805.8L650.4 759.3A183.5 183.5 0 0 1 777.4 767.6L757.7 811.9A135.0 135.0 0 0 0 664.2 805.8Z" fill="#dfa089" stroke="#fffaf5" stroke-width="1.4" stroke-linejoin="round"/>
<path d="M757.7 811.9L777.4 767.6A183.5 183.5 0 0 1 837.9 811.0L802.2 843.8A135.0 135.0 0 0 0 757.7 811.9Z" fill="#dea680" stroke="#fffaf5" stroke-width="1.4" stroke-linejoin="round"/>
<path d="M802.2 843.8L837.9 811.0A183.5 183.5 0 0 1 865.3 849.9L822.3 872.4A135.0 135.0 0 0 0 802.2 843.8Z" fill="#dea680" stroke="#fffaf5" stroke-width="1.4" stroke-linejoin="round"/>
<path d="M519.3 935.2L480.3 935.2A222.5 222.5 0 0 1 500.0 843.6L535.6 859.7A183.5 183.5 0 0 0 519.3 935.2Z" fill="#de8e8d" stroke="#fffaf5" stroke-width="1.4" stroke-linejoin="round"/>
<path d="M535.6 859.7L500.0 843.6A222.5 222.5 0 0 1 537.5 786.3L566.4 812.4A183.5 183.5 0 0 0 535.6 859.7Z" fill="#e29c98" stroke="#fffaf5" stroke-width="1.4" stroke-linejoin="round"/>
<path d="M566.4 812.4L537.5 786.3A222.5 222.5 0 0 1 585.9 745.9L606.4 779.1A183.5 183.5 0 0 0 566.4 812.4Z" fill="#de8e8d" stroke="#fffaf5" stroke-width="1.4" stroke-linejoin="round"/>
<path d="M606.4 779.1L585.9 745.9A222.5 222.5 0 0 1 639.2 722.0L650.4 759.3A183.5 183.5 0 0 0 606.4 779.1Z" fill="#e29c98" stroke="#fffaf5" stroke-width="1.4" stroke-linejoin="round"/>
<path d="M650.4 759.3L639.2 722.0A222.5 222.5 0 0 1 706.7 712.7L706.0 751.7A183.5 183.5 0 0 0 650.4 759.3Z" fill="#e2a991" stroke="#fffaf5" stroke-width="1.4" stroke-linejoin="round"/>
<path d="M777.4 767.6L793.3 731.9A222.5 222.5 0 0 1 845.8 764.8L820.8 794.6A183.5 183.5 0 0 0 777.4 767.6Z" fill="#e0ad8a" stroke="#fffaf5" stroke-width="1.4" stroke-linejoin="round"/>
<path d="M837.9 811.0L866.6 784.6A222.5 222.5 0 0 1 893.5 820.6L860.1 840.7A183.5 183.5 0 0 0 837.9 811.0Z" fill="#e0ad8a" stroke="#fffaf5" stroke-width="1.4" stroke-linejoin="round"/>
<path d="M480.3 935.2L431.3 935.2A271.5 271.5 0 0 1 434.4 894.6L482.8 901.9A222.5 222.5 0 0 0 480.3 935.2Z" fill="#e6aca5" stroke="#fffaf5" stroke-width="1.4" stroke-linejoin="round"/>
<path d="M482.8 901.9L434.4 894.6A271.5 271.5 0 0 1 441.0 863.1L488.3 876.1A222.5 222.5 0 0 0 482.8 901.9Z" fill="#e6aca5" stroke="#fffaf5" stroke-width="1.4" stroke-linejoin="round"/>
<path d="M488.3 876.1L441.0 863.1A271.5 271.5 0 0 1 448.8 839.2L494.7 856.6A222.5 222.5 0 0 0 488.3 876.1Z" fill="#e6aca5" stroke="#fffaf5" stroke-width="1.4" stroke-linejoin="round"/>
<path d="M494.7 856.6L448.8 839.2A271.5 271.5 0 0 1 455.4 823.5L500.0 843.6A222.5 222.5 0 0 0 494.7 856.6Z" fill="#e6aca5" stroke="#fffaf5" stroke-width="1.4" stroke-linejoin="round"/>
<path d="M500.0 843.6L455.4 823.5A271.5 271.5 0 0 1 467.7 799.5L510.1 824.0A222.5 222.5 0 0 0 500.0 843.6Z" fill="#e9b5ac" stroke="#fffaf5" stroke-width="1.4" stroke-linejoin="round"/>
<path d="M510.1 824.0L467.7 799.5A271.5 271.5 0 0 1 479.0 781.4L519.4 809.2A222.5 222.5 0 0 0 510.1 824.0Z" fill="#e9b5ac" stroke="#fffaf5" stroke-width="1.4" stroke-linejoin="round"/>
<path d="M519.4 809.2L479.0 781.4A271.5 271.5 0 0 1 490.3 766.2L528.7 796.7A222.5 222.5 0 0 0 519.4 809.2Z" fill="#e9b5ac" stroke="#fffaf5" stroke-width="1.4" stroke-linejoin="round"/>
<path d="M528.7 796.7L490.3 766.2A271.5 271.5 0 0 1 501.0 753.5L537.5 786.3A222.5 222.5 0 0 0 528.7 796.7Z" fill="#e9b5ac" stroke="#fffaf5" stroke-width="1.4" stroke-linejoin="round"/>
<path d="M537.5 786.3L501.0 753.5A271.5 271.5 0 0 1 518.1 736.2L551.4 772.1A222.5 222.5 0 0 0 537.5 786.3Z" fill="#e6aca5" stroke="#fffaf5" stroke-width="1.4" stroke-linejoin="round"/>
<path d="M551.4 772.1L518.1 736.2A271.5 271.5 0 0 1 533.7 722.8L564.2 761.1A222.5 222.5 0 0 0 551.4 772.1Z" fill="#e6aca5" stroke="#fffaf5" stroke-width="1.4" stroke-linejoin="round"/>
<path d="M564.2 761.1L533.7 722.8A271.5 271.5 0 0 1 548.0 712.2L575.9 752.4A222.5 222.5 0 0 0 564.2 761.1Z" fill="#e6aca5" stroke="#fffaf5" stroke-width="1.4" stroke-linejoin="round"/>
<path d="M575.9 752.4L548.0 712.2A271.5 271.5 0 0 1 560.1 704.2L585.9 745.9A222.5 222.5 0 0 0 575.9 752.4Z" fill="#e6aca5" stroke="#fffaf5" stroke-width="1.4" stroke-linejoin="round"/>
<path d="M585.9 745.9L560.1 704.2A271.5 271.5 0 0 1 578.6 693.8L601.0 737.4A222.5 222.5 0 0 0 585.9 745.9Z" fill="#e9b5ac" stroke="#fffaf5" stroke-width="1.4" stroke-linejoin="round"/>
<path d="M601.0 737.4L578.6 693.8A271.5 271.5 0 0 1 594.7 686.1L614.2 731.1A222.5 222.5 0 0 0 601.0 737.4Z" fill="#e9b5ac" stroke="#fffaf5" stroke-width="1.4" stroke-linejoin="round"/>
<path d="M614.2 731.1L594.7 686.1A271.5 271.5 0 0 1 610.0 680.0L626.8 726.1A222.5 222.5 0 0 0 614.2 731.1Z" fill="#e9b5ac" stroke="#fffaf5" stroke-width="1.4" stroke-linejoin="round"/>
<path d="M626.8 726.1L610.0 680.0A271.5 271.5 0 0 1 625.2 675.0L639.2 722.0A222.5 222.5 0 0 0 626.8 726.1Z" fill="#e9b5ac" stroke="#fffaf5" stroke-width="1.4" stroke-linejoin="round"/>
<path d="M639.2 722.0L625.2 675.0A271.5 271.5 0 0 1 660.3 667.0L668.0 715.4A222.5 222.5 0 0 0 639.2 722.0Z" fill="#e6b49f" stroke="#fffaf5" stroke-width="1.4" stroke-linejoin="round"/>
<path d="M668.0 715.4L660.3 667.0A271.5 271.5 0 0 1 681.5 664.5L685.3 713.4A222.5 222.5 0 0 0 668.0 715.4Z" fill="#e6b49f" stroke="#fffaf5" stroke-width="1.4" stroke-linejoin="round"/>
<path d="M685.3 713.4L681.5 664.5A271.5 271.5 0 0 1 698.1 663.7L698.9 712.7A222.5 222.5 0 0 0 685.3 713.4Z" fill="#e6b49f" stroke="#fffaf5" stroke-width="1.4" stroke-linejoin="round"/>
<path d="M793.3 731.9L813.2 687.2A271.5 271.5 0 0 1 836.9 699.1L812.7 741.7A222.5 222.5 0 0 0 793.3 731.9Z" fill="#e4b795" stroke="#fffaf5" stroke-width="1.4" stroke-linejoin="round"/>
<path d="M812.7 741.7L836.9 699.1A271.5 271.5 0 0 1 853.0 709.1L825.9 749.9A222.5 222.5 0 0 0 812.7 741.7Z" fill="#e4b795" stroke="#fffaf5" stroke-width="1.4" stroke-linejoin="round"/>
<path d="M825.9 749.9L853.0 709.1A271.5 271.5 0 0 1 866.2 718.4L836.7 757.5A222.5 222.5 0 0 0 825.9 749.9Z" fill="#e4b795" stroke="#fffaf5" stroke-width="1.4" stroke-linejoin="round"/>
<path d="M836.7 757.5L866.2 718.4A271.5 271.5 0 0 1 876.2 726.3L844.9 764.0A222.5 222.5 0 0 0 836.7 757.5Z" fill="#e4b795" stroke="#fffaf5" stroke-width="1.4" stroke-linejoin="round"/>
<path d="M866.3 784.3L902.3 751.1A271.5 271.5 0 0 1 913.5 764.0L875.5 794.9A222.5 222.5 0 0 0 866.3 784.3Z" fill="#e4b795" stroke="#fffaf5" stroke-width="1.4" stroke-linejoin="round"/>
<path d="M875.5 794.9L913.5 764.0A271.5 271.5 0 0 1 921.6 774.5L882.1 803.5A222.5 222.5 0 0 0 875.5 794.9Z" fill="#e4b795" stroke="#fffaf5" stroke-width="1.4" stroke-linejoin="round"/>
<path d="M882.1 803.5L921.6 774.5A271.5 271.5 0 0 1 928.7 784.6L887.9 811.7A222.5 222.5 0 0 0 882.1 803.5Z" fill="#e4b795" stroke="#fffaf5" stroke-width="1.4" stroke-linejoin="round"/>
<path d="M887.9 811.7L928.7 784.6A271.5 271.5 0 0 1 934.5 793.7L892.7 819.3A222.5 222.5 0 0 0 887.9 811.7Z" fill="#e4b795" stroke="#fffaf5" stroke-width="1.4" stroke-linejoin="round"/>
<path d="M822.3 872.4L866.2 849.4A184.5 184.5 0 0 1 868.2 1016.9L823.8 995.0A135.0 135.0 0 0 0 822.3 872.4Z" fill="#add583" stroke="#fffaf5" stroke-width="1.4" stroke-linejoin="round"/>
<path d="M823.8 995.0L867.3 1016.5A183.5 183.5 0 0 1 833.9 1063.6L799.3 1029.7A135.0 135.0 0 0 0 823.8 995.0Z" fill="#93cb7c" stroke="#fffaf5" stroke-width="1.4" stroke-linejoin="round"/>
<path d="M866.2 849.4L901.6 830.8A224.5 224.5 0 0 1 926.2 912.9L886.4 916.9A184.5 184.5 0 0 0 866.2 849.4Z" fill="#b5d98f" stroke="#fffaf5" stroke-width="1.4" stroke-linejoin="round"/>
<path d="M886.4 916.9L926.2 912.9A224.5 224.5 0 0 1 925.5 963.7L885.8 958.6A184.5 184.5 0 0 0 886.4 916.9Z" fill="#b0d68c" stroke="#fffaf5" stroke-width="1.4" stroke-linejoin="round"/>
<path d="M885.8 958.6L925.5 963.7A224.5 224.5 0 0 1 915.3 1007.5L877.5 994.7A184.5 184.5 0 0 0 885.8 958.6Z" fill="#b5d98f" stroke="#fffaf5" stroke-width="1.4" stroke-linejoin="round"/>
<path d="M877.5 994.7L915.3 1007.5A224.5 224.5 0 0 1 904.1 1034.7L868.2 1016.9A184.5 184.5 0 0 0 877.5 994.7Z" fill="#b0d68c" stroke="#fffaf5" stroke-width="1.4" stroke-linejoin="round"/>
<path d="M867.3 1016.5L903.2 1034.2A223.5 223.5 0 0 1 871.5 1081.8L841.3 1055.6A183.5 183.5 0 0 0 867.3 1016.5Z" fill="#a3d28c" stroke="#fffaf5" stroke-width="1.4" stroke-linejoin="round"/>
<path d="M902.8 833.3L945.6 811.5A272.5 272.5 0 0 1 961.8 850.5L916.2 865.5A224.5 224.5 0 0 0 902.8 833.3Z" fill="#bfdd9f" stroke="#fffaf5" stroke-width="1.4" stroke-linejoin="round"/>
<path d="M916.2 865.5L961.8 850.5A272.5 272.5 0 0 1 969.3 878.5L922.4 888.5A224.5 224.5 0 0 0 916.2 865.5Z" fill="#bfdd9f" stroke="#fffaf5" stroke-width="1.4" stroke-linejoin="round"/>
<path d="M926.4 915.2L974.2 911.0A272.5 272.5 0 0 1 975.2 928.1L927.2 929.3A224.5 224.5 0 0 0 926.4 915.2Z" fill="#bfdd9f" stroke="#fffaf5" stroke-width="1.4" stroke-linejoin="round"/>
<path d="M927.2 929.3L975.2 928.1A272.5 272.5 0 0 1 975.1 945.2L927.1 943.4A224.5 224.5 0 0 0 927.2 929.3Z" fill="#bfdd9f" stroke="#fffaf5" stroke-width="1.4" stroke-linejoin="round"/>
<path d="M925.6 962.6L973.3 968.4A272.5 272.5 0 0 1 970.7 984.9L923.5 976.1A224.5 224.5 0 0 0 925.6 962.6Z" fill="#bfdd9f" stroke="#fffaf5" stroke-width="1.4" stroke-linejoin="round"/>
<path d="M915.4 1007.2L960.9 1022.6A272.5 272.5 0 0 1 957.5 1032.0L912.7 1014.9A224.5 224.5 0 0 0 915.4 1007.2Z" fill="#bfdd9f" stroke="#fffaf5" stroke-width="1.4" stroke-linejoin="round"/>
<path d="M902.6 1035.3L946.5 1057.2A272.5 272.5 0 0 1 936.4 1075.5L894.4 1050.3A223.5 223.5 0 0 0 902.6 1035.3Z" fill="#b3d9a0" stroke="#fffaf5" stroke-width="1.4" stroke-linejoin="round"/>
<path d="M894.4 1050.3L936.4 1075.5A272.5 272.5 0 0 1 926.0 1091.5L885.9 1063.4A223.5 223.5 0 0 0 894.4 1050.3Z" fill="#b3d9a0" stroke="#fffaf5" stroke-width="1.4" stroke-linejoin="round"/>
<path d="M885.9 1063.4L926.0 1091.5A272.5 272.5 0 0 1 916.9 1103.7L878.4 1073.4A223.5 223.5 0 0 0 885.9 1063.4Z" fill="#b3d9a0" stroke="#fffaf5" stroke-width="1.4" stroke-linejoin="round"/>
<path d="M878.4 1073.4L916.9 1103.7A272.5 272.5 0 0 1 907.8 1114.7L871.0 1082.4A223.5 223.5 0 0 0 878.4 1073.4Z" fill="#b3d9a0" stroke="#fffaf5" stroke-width="1.4" stroke-linejoin="round"/>
<path d="M788.9 1039.2L819.8 1076.6A183.5 183.5 0 0 1 651.6 1111.4L665.1 1064.8A135.0 135.0 0 0 0 788.9 1039.2Z" fill="#86d0d4" stroke="#fffaf5" stroke-width="1.4" stroke-linejoin="round"/>
<path d="M665.1 1064.8L651.6 1111.4A183.5 183.5 0 0 1 617.8 1097.8L640.3 1054.8A135.0 135.0 0 0 0 665.1 1064.8Z" fill="#7fb0d9" stroke="#fffaf5" stroke-width="1.4" stroke-linejoin="round"/>
<path d="M818.3 1077.8L842.8 1108.1A222.5 222.5 0 0 1 785.1 1141.9L770.6 1105.7A183.5 183.5 0 0 0 818.3 1077.8Z" fill="#90d3d8" stroke="#fffaf5" stroke-width="1.4" stroke-linejoin="round"/>
<path d="M770.6 1105.7L785.1 1141.9A222.5 222.5 0 0 1 735.3 1155.3L729.6 1116.7A183.5 183.5 0 0 0 770.6 1105.7Z" fill="#8ecbd9" stroke="#fffaf5" stroke-width="1.4" stroke-linejoin="round"/>
<path d="M729.6 1116.7L735.3 1155.3A222.5 222.5 0 0 1 686.5 1157.1L689.4 1118.2A183.5 183.5 0 0 0 729.6 1116.7Z" fill="#8cc4da" stroke="#fffaf5" stroke-width="1.4" stroke-linejoin="round"/>
<path d="M689.4 1118.2L686.5 1157.1A222.5 222.5 0 0 1 640.7 1148.9L651.6 1111.4A183.5 183.5 0 0 0 689.4 1118.2Z" fill="#88bddb" stroke="#fffaf5" stroke-width="1.4" stroke-linejoin="round"/>
<path d="M651.6 1111.4L640.7 1148.9A222.5 222.5 0 0 1 608.8 1136.9L625.2 1101.5A183.5 183.5 0 0 0 651.6 1111.4Z" fill="#8fbbdd" stroke="#fffaf5" stroke-width="1.4" stroke-linejoin="round"/>
<path d="M842.2 1110.5L871.8 1147.7A271.5 271.5 0 0 1 847.1 1165.2L821.8 1125.0A224.0 224.0 0 0 0 842.2 1110.5Z" fill="#a5dadf" stroke="#fffaf5" stroke-width="1.4" stroke-linejoin="round"/>
<path d="M821.8 1125.0L847.1 1165.2A271.5 271.5 0 0 1 822.2 1179.0L801.3 1136.4A224.0 224.0 0 0 0 821.8 1125.0Z" fill="#a5dadf" stroke="#fffaf5" stroke-width="1.4" stroke-linejoin="round"/>
<path d="M801.3 1136.4L822.2 1179.0A271.5 271.5 0 0 1 804.5 1186.9L786.7 1142.9A224.0 224.0 0 0 0 801.3 1136.4Z" fill="#a5dadf" stroke="#fffaf5" stroke-width="1.4" stroke-linejoin="round"/>
<path d="M783.8 1144.0L801.0 1188.3A271.5 271.5 0 0 1 784.0 1194.3L769.8 1148.9A224.0 224.0 0 0 0 783.8 1144.0Z" fill="#a3d3e1" stroke="#fffaf5" stroke-width="1.4" stroke-linejoin="round"/>
<path d="M769.8 1148.9L784.0 1194.3A271.5 271.5 0 0 1 768.5 1198.6L757.0 1152.5A224.0 224.0 0 0 0 769.8 1148.9Z" fill="#a3d3e1" stroke="#fffaf5" stroke-width="1.4" stroke-linejoin="round"/>
<path d="M757.0 1152.5L768.5 1198.6A271.5 271.5 0 0 1 753.7 1201.9L744.8 1155.2A224.0 224.0 0 0 0 757.0 1152.5Z" fill="#a3d3e1" stroke="#fffaf5" stroke-width="1.4" stroke-linejoin="round"/>
<path d="M734.4 1157.0L741.1 1204.0A271.5 271.5 0 0 1 720.3 1206.1L717.3 1158.7A224.0 224.0 0 0 0 734.4 1157.0Z" fill="#a0cce3" stroke="#fffaf5" stroke-width="1.4" stroke-linejoin="round"/>
<path d="M717.3 1158.7L720.3 1206.1A271.5 271.5 0 0 1 703.7 1206.7L703.6 1159.2A224.0 224.0 0 0 0 717.3 1158.7Z" fill="#a0cce3" stroke="#fffaf5" stroke-width="1.4" stroke-linejoin="round"/>
<path d="M703.6 1159.2L703.7 1206.7A271.5 271.5 0 0 1 685.8 1206.2L688.7 1158.8A224.0 224.0 0 0 0 703.6 1159.2Z" fill="#a0cce3" stroke="#fffaf5" stroke-width="1.4" stroke-linejoin="round"/>
<path d="M685.2 1158.5L681.5 1205.9A271.5 271.5 0 0 1 665.0 1204.1L671.6 1157.0A224.0 224.0 0 0 0 685.2 1158.5Z" fill="#9ec8e4" stroke="#fffaf5" stroke-width="1.4" stroke-linejoin="round"/>
<path d="M671.6 1157.0L665.0 1204.1A271.5 271.5 0 0 1 649.1 1201.3L658.5 1154.8A224.0 224.0 0 0 0 671.6 1157.0Z" fill="#9ec8e4" stroke="#fffaf5" stroke-width="1.4" stroke-linejoin="round"/>
<path d="M658.5 1154.8L649.1 1201.3A271.5 271.5 0 0 1 629.3 1196.6L642.2 1150.8A224.0 224.0 0 0 0 658.5 1154.8Z" fill="#9ec8e4" stroke="#fffaf5" stroke-width="1.4" stroke-linejoin="round"/>
<path d="M640.3 1150.3L627.1 1195.9A271.5 271.5 0 0 1 609.5 1190.2L625.8 1145.6A224.0 224.0 0 0 0 640.3 1150.3Z" fill="#a5c8e5" stroke="#fffaf5" stroke-width="1.4" stroke-linejoin="round"/>
<path d="M625.8 1145.6L609.5 1190.2A271.5 271.5 0 0 1 591.1 1182.6L610.6 1139.4A224.0 224.0 0 0 0 625.8 1145.6Z" fill="#a5c8e5" stroke="#fffaf5" stroke-width="1.4" stroke-linejoin="round"/>
<path d="M625.4 1045.8L597.5 1085.5A183.5 183.5 0 0 1 525.1 980.8L572.0 968.8A135.0 135.0 0 0 0 625.4 1045.8Z" fill="#aa82c0" stroke="#fffaf5" stroke-width="1.4" stroke-linejoin="round"/>
<path d="M572.0 968.8L525.1 980.8A183.5 183.5 0 0 1 519.9 949.9L568.2 946.0A135.0 135.0 0 0 0 572.0 968.8Z" fill="#b97fc3" stroke="#fffaf5" stroke-width="1.4" stroke-linejoin="round"/>
<path d="M595.2 1083.8L572.3 1115.4A222.5 222.5 0 0 1 527.5 1072.2L558.2 1048.2A183.5 183.5 0 0 0 595.2 1083.8Z" fill="#b38fc7" stroke="#fffaf5" stroke-width="1.4" stroke-linejoin="round"/>
<path d="M558.2 1048.2L527.5 1072.2A222.5 222.5 0 0 1 506.3 1039.7L540.8 1021.3A183.5 183.5 0 0 0 558.2 1048.2Z" fill="#b892c9" stroke="#fffaf5" stroke-width="1.4" stroke-linejoin="round"/>
<path d="M540.8 1021.3L506.3 1039.7A222.5 222.5 0 0 1 495.1 1014.9L531.5 1001.0A183.5 183.5 0 0 0 540.8 1021.3Z" fill="#bc93ca" stroke="#fffaf5" stroke-width="1.4" stroke-linejoin="round"/>
<path d="M524.8 979.6L486.9 989.0A222.5 222.5 0 0 1 481.4 957.7L520.2 953.7A183.5 183.5 0 0 0 524.8 979.6Z" fill="#c291cb" stroke="#fffaf5" stroke-width="1.4" stroke-linejoin="round"/>
<path d="M572.1 1117.1L544.4 1155.7A271.5 271.5 0 0 1 526.1 1141.3L557.0 1105.3A224.0 224.0 0 0 0 572.1 1117.1Z" fill="#c4a3d2" stroke="#fffaf5" stroke-width="1.4" stroke-linejoin="round"/>
<path d="M557.0 1105.3L526.1 1141.3A271.5 271.5 0 0 1 511.8 1128.2L545.2 1094.4A224.0 224.0 0 0 0 557.0 1105.3Z" fill="#c4a3d2" stroke="#fffaf5" stroke-width="1.4" stroke-linejoin="round"/>
<path d="M545.2 1094.4L511.8 1128.2A271.5 271.5 0 0 1 499.1 1114.7L534.8 1083.3A224.0 224.0 0 0 0 545.2 1094.4Z" fill="#c4a3d2" stroke="#fffaf5" stroke-width="1.4" stroke-linejoin="round"/>
<path d="M534.8 1083.3L499.1 1114.7A271.5 271.5 0 0 1 488.9 1102.4L526.3 1073.1A224.0 224.0 0 0 0 534.8 1083.3Z" fill="#c4a3d2" stroke="#fffaf5" stroke-width="1.4" stroke-linejoin="round"/>
<path d="M526.3 1073.1L488.9 1102.4A271.5 271.5 0 0 1 480.4 1090.9L519.3 1063.7A224.0 224.0 0 0 0 526.3 1073.1Z" fill="#c4a3d2" stroke="#fffaf5" stroke-width="1.4" stroke-linejoin="round"/>
<path d="M505.9 1042.1L464.2 1064.7A271.5 271.5 0 0 1 459.2 1055.1L501.8 1034.1A224.0 224.0 0 0 0 505.9 1042.1Z" fill="#c4a3d2" stroke="#fffaf5" stroke-width="1.4" stroke-linejoin="round"/>
<path d="M486.8 988.7L439.3 1000.4A271.5 271.5 0 0 1 436.6 988.4L484.6 978.8A222.5 222.5 0 0 0 486.8 988.7Z" fill="#cca3d4" stroke="#fffaf5" stroke-width="1.4" stroke-linejoin="round"/>
<path d="M484.6 978.8L436.6 988.4A271.5 271.5 0 0 1 434.4 976.3L482.9 968.9A222.5 222.5 0 0 0 484.6 978.8Z" fill="#cca3d4" stroke="#fffaf5" stroke-width="1.4" stroke-linejoin="round"/>
<g font-weight="bold" text-anchor="middle" fill="#000" stroke="#000" stroke-width="1.0" stroke-linejoin="round">
<text transform="translate(683.3 835.1) rotate(-11.0)" y="11.3" font-size="31.5">A</text>
<text transform="translate(804.3 955.6) rotate(101.4)" y="11.3" font-size="31.5">C</text>
<text transform="translate(702.8 1038.2) rotate(180.0)" y="11.3" font-size="31.5">G</text>
<text transform="translate(610.1 983.5) rotate(242.5)" y="11.3" font-size="31.5">U</text>
<text transform="translate(577.3 837.2) rotate(-52.0)" y="10.6" font-size="29.5">A</text>
<text transform="translate(713.1 776.3) rotate(3.7)" y="10.6" font-size="29.5">G</text>
<text transform="translate(795.7 805.9) rotate(35.7)" y="10.6" font-size="29.5">U</text>
<text transform="translate(833.0 843.5) rotate(54.9)" y="10.6" font-size="29.5">C</text>
<text transform="translate(505.8 886.1) rotate(-76.0)" y="10.2" font-size="28.5">G</text>
<text transform="translate(532.8 824.2) rotate(-56.9)" y="10.2" font-size="28.5">A</text>
<text transform="translate(572.7 779.4) rotate(-39.9)" y="10.2" font-size="28.5">U</text>
<text transform="translate(619.7 750.0) rotate(-24.2)" y="10.2" font-size="28.5">C</text>
<text transform="translate(675.2 734.1) rotate(-7.8)" y="10.2" font-size="28.5">A</text>
<text transform="translate(810.4 763.0) rotate(32.0)" y="10.2" font-size="28.5">A</text>
<text transform="translate(865.3 813.6) rotate(53.2)" y="10.2" font-size="28.5">A</text>
<text transform="translate(457.6 916.8) rotate(-85.7)" y="9.8" font-size="27.5">U</text>
<text transform="translate(462.3 884.1) rotate(-78.0)" y="9.8" font-size="27.5">A</text>
<text transform="translate(470.4 859.5) rotate(-72.0)" y="8.4" font-size="23.5">C</text>
<text transform="translate(478.4 842.3) rotate(-67.5)" y="6.8" font-size="19.1">G</text>
<text transform="translate(484.7 823.3) rotate(-62.9)" y="9.1" font-size="25.5">U</text>
<text transform="translate(496.1 804.8) rotate(-57.8)" y="8.4" font-size="23.5">C</text>
<text transform="translate(506.8 790.2) rotate(-53.5)" y="7.8" font-size="21.9">G</text>
<text transform="translate(517.5 778.3) rotate(-49.8)" y="6.8" font-size="19.1">A</text>
<text transform="translate(528.4 763.4) rotate(-45.4)" y="8.8" font-size="24.5">U</text>
<text transform="translate(543.5 749.9) rotate(-40.7)" y="8.4" font-size="23.5">C</text>
<text transform="translate(557.3 739.5) rotate(-36.6)" y="7.8" font-size="21.9">G</text>
<text transform="translate(569.6 731.9) rotate(-33.2)" y="7.0" font-size="19.6">A</text>
<text transform="translate(582.6 722.4) rotate(-29.5)" y="8.4" font-size="23.5">U</text>
<text transform="translate(598.4 714.8) rotate(-25.3)" y="7.8" font-size="21.9">C</text>
<text transform="translate(612.9 709.4) rotate(-21.7)" y="7.0" font-size="19.6">A</text>
<text transform="translate(627.0 705.9) rotate(-18.3)" y="5.5" font-size="15.5">G</text>
<text transform="translate(648.3 695.5) rotate(-12.8)" y="9.8" font-size="27.5">C</text>
<text transform="translate(673.9 691.4) rotate(-6.8)" y="9.5" font-size="26.5">U</text>
<text transform="translate(691.1 692.5) rotate(-2.8)" y="7.0" font-size="19.6">G</text>
<text transform="translate(813.8 715.4) rotate(26.8)" y="10.2" font-size="28.6">U</text>
<text transform="translate(830.4 727.8) rotate(31.6)" y="7.5" font-size="20.9">A</text>
<text transform="translate(843.0 737.2) rotate(35.3)" y="6.6" font-size="18.5">G</text>
<text transform="translate(853.1 745.2) rotate(38.3)" y="6.3" font-size="17.5">C</text>
<text transform="translate(887.2 775.4) rotate(49.1)" y="8.0" font-size="22.4">U</text>
<text transform="translate(894.5 787.0) rotate(52.3)" y="6.3" font-size="17.5">G</text>
<text transform="translate(900.7 796.7) rotate(55.0)" y="5.5" font-size="15.5">C</text>
<text transform="translate(906.1 805.4) rotate(57.4)" y="5.2" font-size="14.4">A</text>
<text transform="translate(862.5 936.9) rotate(90.6)" y="10.6" font-size="29.5">A</text>
<text transform="translate(832.7 1027.3) rotate(125.4)" y="10.6" font-size="29.5">G</text>
<text transform="translate(900.1 881.6) rotate(74.8)" y="10.2" font-size="28.5">A</text>
<text transform="translate(907.3 938.1) rotate(90.8)" y="10.2" font-size="28.5">G</text>
<text transform="translate(902.0 981.4) rotate(103.1)" y="10.2" font-size="28.5">U</text>
<text transform="translate(891.9 1013.1) rotate(112.4)" y="10.2" font-size="28.5">C</text>
<text transform="translate(872.2 1048.0) rotate(123.7)" y="10.2" font-size="28.5">A</text>
<text transform="translate(931.0 840.4) rotate(67.4)" y="9.1" font-size="25.5">U</text>
<text transform="translate(941.5 871.0) rotate(74.9)" y="9.1" font-size="25.5">C</text>
<text transform="translate(947.8 921.1) rotate(86.7)" y="7.4" font-size="20.6">U</text>
<text transform="translate(948.2 936.5) rotate(90.3)" y="7.4" font-size="20.6">C</text>
<text transform="translate(945.3 972.5) rotate(98.8)" y="7.4" font-size="20.6">G</text>
<text transform="translate(933.7 1018.1) rotate(109.8)" y="7.4" font-size="20.6">A</text>
<text transform="translate(917.2 1053.1) rotate(118.8)" y="7.7" font-size="21.4">C</text>
<text transform="translate(907.4 1068.1) rotate(123.0)" y="7.0" font-size="19.6">G</text>
<text transform="translate(898.1 1080.2) rotate(126.6)" y="6.3" font-size="17.5">U</text>
<text transform="translate(889.7 1090.4) rotate(129.7)" y="5.9" font-size="16.5">A</text>
<text transform="translate(732.6 1091.6) rotate(169.2)" y="10.6" font-size="29.5">A</text>
<text transform="translate(643.4 1083.0) rotate(201.9)" y="10.6" font-size="29.5">G</text>
<text transform="translate(805.4 1110.4) rotate(149.7)" y="10.2" font-size="28.5">A</text>
<text transform="translate(755.5 1131.2) rotate(165.0)" y="10.2" font-size="28.5">C</text>
<text transform="translate(710.2 1138.1) rotate(177.9)" y="10.2" font-size="28.5">U</text>
<text transform="translate(666.9 1135.0) rotate(190.2)" y="10.2" font-size="28.5">G</text>
<text transform="translate(634.0 1126.2) rotate(199.8)" y="10.2" font-size="28.5">A</text>
<text transform="translate(845.7 1137.1) rotate(144.7)" y="9.8" font-size="27.5">U</text>
<text transform="translate(822.7 1150.7) rotate(150.9)" y="9.1" font-size="25.5">C</text>
<text transform="translate(803.0 1159.8) rotate(155.9)" y="8.4" font-size="23.5">A</text>
<text transform="translate(783.6 1165.8) rotate(160.7)" y="6.8" font-size="19.1">A</text>
<text transform="translate(768.7 1169.7) rotate(164.3)" y="6.1" font-size="17.0">U</text>
<text transform="translate(754.9 1172.0) rotate(167.6)" y="5.0" font-size="13.9">C</text>
<text transform="translate(728.0 1178.8) rotate(174.1)" y="7.4" font-size="20.6">A</text>
<text transform="translate(711.1 1179.6) rotate(178.1)" y="7.0" font-size="19.6">C</text>
<text transform="translate(695.5 1179.6) rotate(181.7)" y="7.0" font-size="19.6">U</text>
<text transform="translate(676.2 1178.3) rotate(186.2)" y="7.0" font-size="19.6">A</text>
<text transform="translate(661.7 1175.5) rotate(189.7)" y="6.3" font-size="17.5">U</text>
<text transform="translate(646.1 1170.4) rotate(193.5)" y="4.4" font-size="12.4">C</text>
<text transform="translate(626.3 1168.5) rotate(198.1)" y="8.0" font-size="22.4">C</text>
<text transform="translate(610.0 1162.5) rotate(202.2)" y="8.0" font-size="22.4">U</text>
<text transform="translate(569.5 1022.4) rotate(236.8)" y="10.6" font-size="29.5">A</text>
<text transform="translate(545.5 960.1) rotate(261.0)" y="10.6" font-size="29.5">G</text>
<text transform="translate(561.9 1081.3) rotate(223.9)" y="10.2" font-size="28.5">A</text>
<text transform="translate(534.5 1048.7) rotate(236.0)" y="10.2" font-size="28.5">U</text>
<text transform="translate(518.2 1019.7) rotate(245.4)" y="10.2" font-size="28.5">G</text>
<text transform="translate(503.0 971.1) rotate(259.8)" y="10.2" font-size="28.5">A</text>
<text transform="translate(550.2 1129.4) rotate(218.1)" y="9.5" font-size="26.5">U</text>
<text transform="translate(536.2 1116.1) rotate(222.6)" y="8.4" font-size="23.5">A</text>
<text transform="translate(525.0 1103.0) rotate(226.6)" y="7.0" font-size="19.6">C</text>
<text transform="translate(515.7 1090.6) rotate(230.3)" y="5.7" font-size="16.0">G</text>
<text transform="translate(507.6 1079.6) rotate(233.5)" y="5.3" font-size="14.9">A</text>
<text transform="translate(486.3 1047.2) rotate(242.6)" y="6.3" font-size="17.5">A</text>
<text transform="translate(467.3 987.8) rotate(257.4)" y="5.3" font-size="14.9">C</text>
<text transform="translate(465.1 977.1) rotate(260.0)" y="5.3" font-size="14.9">U</text>
</g>
<path d="M416.4 927.7A286.5 286.5 0 0 1 616.6 662.0" fill="none" stroke="#000" stroke-width="3.9"/>
<path d="M621.9 660.4A286.5 286.5 0 0 1 701.3 648.7" fill="none" stroke="#000" stroke-width="3.9"/>
<path d="M817.5 672.7A286.5 286.5 0 0 1 887.3 716.1" fill="none" stroke="#000" stroke-width="3.9"/>
<path d="M912.3 739.8A286.5 286.5 0 0 1 947.1 785.5" fill="none" stroke="#000" stroke-width="3.9"/>
<path d="M956.9 802.9A286.5 286.5 0 0 1 989.1 946.2" fill="none" stroke="#000" stroke-width="3.9"/>
<path d="M987.2 970.1A286.5 286.5 0 0 1 984.7 986.4" fill="none" stroke="#000" stroke-width="3.9"/>
<path d="M974.7 1025.6A286.5 286.5 0 0 1 970.4 1037.4" fill="none" stroke="#000" stroke-width="3.9"/>
<path d="M959.4 1062.6A286.5 286.5 0 0 1 917.0 1125.4" fill="none" stroke="#000" stroke-width="3.9"/>
<path d="M881.9 1158.8A286.5 286.5 0 0 1 631.1 1212.6" fill="none" stroke="#000" stroke-width="3.9"/>
<path d="M621.0 1209.8A286.5 286.5 0 0 1 586.3 1196.9" fill="none" stroke="#000" stroke-width="3.9"/>
<path d="M535.6 1167.9A286.5 286.5 0 0 1 474.9 1108.8" fill="none" stroke="#000" stroke-width="3.9"/>
<path d="M472.2 1105.2A286.5 286.5 0 0 1 465.8 1096.2" fill="none" stroke="#000" stroke-width="3.9"/>
<path d="M450.8 1071.5A286.5 286.5 0 0 1 445.3 1060.8" fill="none" stroke="#000" stroke-width="3.9"/>
<path d="M424.8 1004.5A286.5 286.5 0 0 1 419.5 978.0" fill="none" stroke="#000" stroke-width="3.9"/>
<text transform="translate(467.0 749.7) rotate(-51.8)" font-size="28" font-weight="bold" text-anchor="middle" stroke-width="0.45"><tspan fill="#a7a9ac" stroke="#a7a9ac" stroke-width="0.9">N</tspan><tspan fill="#a7a9ac" stroke="#a7a9ac" stroke-width="0.9">N</tspan><tspan fill="#be1e2d" stroke="#be1e2d">AAU</tspan></text>
<text transform="translate(660.0 638.3) rotate(-8.2)" font-size="28" font-weight="bold" text-anchor="middle" stroke-width="0.45"><tspan fill="#808285" stroke="#808285" stroke-width="0.9">V</tspan><tspan fill="#be1e2d" stroke="#be1e2d">AGAU</tspan></text>
<text transform="translate(864.4 682.5) rotate(32.6)" font-size="28" font-weight="bold" text-anchor="middle" stroke-width="0.45"><tspan fill="#a7a9ac" stroke="#a7a9ac" stroke-width="0.9">N</tspan><tspan fill="#be1e2d" stroke="#be1e2d">AUAU</tspan></text>
<text transform="translate(943.6 756.3) rotate(53.4)" font-size="28" font-weight="bold" text-anchor="middle" stroke-width="0.45"><tspan fill="#a7a9ac" stroke="#a7a9ac" stroke-width="0.9">N</tspan><tspan fill="#be1e2d" stroke="#be1e2d">ACAU</tspan></text>
<text transform="translate(997.5 879.0) rotate(79.2)" font-size="28" font-weight="bold" text-anchor="middle" stroke-width="0.45"><tspan fill="#808285" stroke="#808285" stroke-width="0.9">Y</tspan><tspan fill="#808285" stroke="#808285" stroke-width="0.9">R</tspan><tspan fill="#0b9444" stroke="#0b9444">ACU</tspan></text>
<text transform="translate(950.6 1104.3) rotate(124.3)" font-size="28" font-weight="bold" text-anchor="middle" stroke-width="0.45"><tspan fill="#a7a9ac" stroke="#a7a9ac" stroke-width="0.9">N</tspan><tspan fill="#0b9444" stroke="#0b9444">AGCU</tspan></text>
<text transform="translate(760.6 1229.6) rotate(168.9)" font-size="28" font-weight="bold" text-anchor="middle" stroke-width="0.45"><tspan fill="#808285" stroke="#808285" stroke-width="0.9">H</tspan><tspan fill="#a7a9ac" stroke="#a7a9ac" stroke-width="0.9">N</tspan><tspan fill="#1b75bc" stroke="#1b75bc">AGU</tspan></text>
<text transform="translate(496.3 1152.8) rotate(223.5)" font-size="28" font-weight="bold" text-anchor="middle" stroke-width="0.45"><tspan fill="#a7a9ac" stroke="#a7a9ac" stroke-width="0.9">N</tspan><tspan fill="#7f3f98" stroke="#7f3f98">AAUU</tspan></text>
<text transform="translate(999.3 980.6) rotate(368.7)" y="8.7" font-size="24.2" font-weight="bold" text-anchor="start" stroke-width="0.45"><tspan fill="#0b9444" stroke="#0b9444">GUACU</tspan></text>
<text transform="translate(984.3 1036.0) rotate(379.7)" y="8.7" font-size="24.2" font-weight="bold" text-anchor="start" stroke-width="0.45"><tspan fill="#0b9444" stroke="#0b9444">ACACU</tspan></text>
<text transform="translate(599.9 1218.0) rotate(290.0)" y="8.7" font-size="24.2" font-weight="bold" text-anchor="end" stroke-width="0.45"><tspan fill="#808285" stroke="#808285" stroke-width="0.9">Y</tspan><tspan fill="#1b75bc" stroke="#1b75bc">AGGU</tspan></text>
<text transform="translate(449.9 1105.8) rotate(326.0)" y="8.7" font-size="24.2" font-weight="bold" text-anchor="end" stroke-width="0.45"><tspan fill="#7f3f98" stroke="#7f3f98">AUAUU</tspan></text>
<text transform="translate(431.5 1074.6) rotate(332.8)" y="8.7" font-size="24.2" font-weight="bold" text-anchor="end" stroke-width="0.45"><tspan fill="#7f3f98" stroke="#7f3f98">AGAUU</tspan></text>
<text transform="translate(403.7 995.0) rotate(348.7)" y="8.7" font-size="24.2" font-weight="bold" text-anchor="end" stroke-width="0.45"><tspan fill="#808285" stroke="#808285" stroke-width="0.9">Y</tspan><tspan fill="#7f3f98" stroke="#7f3f98">AGUU</tspan></text>
<ellipse cx="593.3" cy="928.9" rx="12.6" ry="9" fill="#fff"/>
<text x="592.8" y="930.6" font-size="14" text-anchor="middle" fill="#000">-2</text>
<ellipse cx="540.3" cy="928.9" rx="12.6" ry="9" fill="#fff"/>
<text x="539.8" y="930.6" font-size="14" text-anchor="middle" fill="#000">-3</text>
<ellipse cx="497.5" cy="928.9" rx="12.6" ry="9" fill="#fff"/>
<text x="497.0" y="930.6" font-size="14" text-anchor="middle" fill="#000">-4</text>
<ellipse cx="451.5" cy="928.9" rx="12.6" ry="9" fill="#fff"/>
<text x="451.0" y="930.6" font-size="14" text-anchor="middle" fill="#000">-5</text>
<path d="M627.5 935.2H386.0" stroke="#000" stroke-width="4" fill="none"/>
<path d="M372.0 935.2l23 -10.5l-6 10.5l6 10.5z" fill="#000"/>
<circle cx="702.8" cy="935.2" r="75.3" fill="#fff" stroke="#000" stroke-width="5.8"/>
<text x="702.3" y="944.8" font-size="31.5" font-weight="bold" text-anchor="middle" fill="#000" stroke="#000" stroke-width="1.0">U</text>
<text x="686.3" y="920.4" font-size="13" text-anchor="middle" fill="#000">-1</text>
</g>
<g id="sun-c">
<circle cx="1647.0" cy="1536.8" r="244" fill="#cccfd3"/>
<path d="M1571.7 1536.8L1512.0 1536.8A135.0 135.0 0 0 1 1771.9 1485.6L1716.7 1508.2A75.3 75.3 0 0 0 1571.7 1536.8Z" fill="#d87678" stroke="#fffaf5" stroke-width="1.4" stroke-linejoin="round"/>
<path d="M1716.7 1508.2L1771.9 1485.6A135.0 135.0 0 0 1 1721.1 1649.6L1688.3 1599.7A75.3 75.3 0 0 0 1716.7 1508.2Z" fill="#a4d178" stroke="#fffaf5" stroke-width="1.4" stroke-linejoin="round"/>
<path d="M1688.3 1599.7L1721.1 1649.6A135.0 135.0 0 0 1 1576.3 1651.8L1607.5 1600.9A75.3 75.3 0 0 0 1688.3 1599.7Z" fill="#7accd0" stroke="#fffaf5" stroke-width="1.4" stroke-linejoin="round"/>
<path d="M1607.5 1600.9L1576.3 1651.8A135.0 135.0 0 0 1 1512.0 1536.8L1571.7 1536.8A75.3 75.3 0 0 0 1607.5 1600.9Z" fill="#9f76b8" stroke="#fffaf5" stroke-width="1.4" stroke-linejoin="round"/>
<path d="M1512.0 1536.8L1463.0 1536.8A184.0 184.0 0 0 1 1594.1 1360.6L1608.2 1407.5A135.0 135.0 0 0 0 1512.0 1536.8Z" fill="#dc8384" stroke="#fffaf5" stroke-width="1.4" stroke-linejoin="round"/>
<path d="M1608.2 1407.5L1594.1 1360.6A184.0 184.0 0 0 1 1736.2 1375.9L1712.4 1418.7A135.0 135.0 0 0 0 1608.2 1407.5Z" fill="#dfa089" stroke="#fffaf5" stroke-width="1.4" stroke-linejoin="round"/>
<path d="M1712.4 1418.7L1736.2 1375.9A184.0 184.0 0 0 1 1794.1 1426.3L1755.0 1455.7A135.0 135.0 0 0 0 1712.4 1418.7Z" fill="#dea680" stroke="#fffaf5" stroke-width="1.4" stroke-linejoin="round"/>
<path d="M1755.0 1455.7L1794.1 1426.3A184.0 184.0 0 0 1 1817.2 1467.0L1771.9 1485.6A135.0 135.0 0 0 0 1755.0 1455.7Z" fill="#dea680" stroke="#fffaf5" stroke-width="1.4" stroke-linejoin="round"/>
<path d="M1463.0 1536.8L1424.0 1536.8A223.0 223.0 0 0 1 1437.7 1459.8L1474.3 1473.3A184.0 184.0 0 0 0 1463.0 1536.8Z" fill="#de8e8d" stroke="#fffaf5" stroke-width="1.4" stroke-linejoin="round"/>
<path d="M1474.3 1473.3L1437.7 1459.8A223.0 223.0 0 0 1 1474.9 1395.0L1505.0 1419.8A184.0 184.0 0 0 0 1474.3 1473.3Z" fill="#e29c98" stroke="#fffaf5" stroke-width="1.4" stroke-linejoin="round"/>
<path d="M1505.0 1419.8L1474.9 1395.0A223.0 223.0 0 0 1 1526.5 1349.1L1547.6 1382.0A184.0 184.0 0 0 0 1505.0 1419.8Z" fill="#de8e8d" stroke="#fffaf5" stroke-width="1.4" stroke-linejoin="round"/>
<path d="M1547.6 1382.0L1526.5 1349.1A223.0 223.0 0 0 1 1582.9 1323.2L1594.1 1360.6A184.0 184.0 0 0 0 1547.6 1382.0Z" fill="#e29c98" stroke="#fffaf5" stroke-width="1.4" stroke-linejoin="round"/>
<path d="M1594.1 1360.6L1582.9 1323.2A223.0 223.0 0 0 1 1653.2 1313.9L1652.1 1352.9A184.0 184.0 0 0 0 1594.1 1360.6Z" fill="#e2a991" stroke="#fffaf5" stroke-width="1.4" stroke-linejoin="round"/>
<path d="M1654.1 1352.9L1655.6 1314.0A223.0 223.0 0 0 1 1702.5 1320.8L1692.8 1358.6A184.0 184.0 0 0 0 1654.1 1352.9Z" fill="#e2a991" stroke="#fffaf5" stroke-width="1.4" stroke-linejoin="round"/>
<path d="M1736.2 1375.9L1755.1 1341.8A223.0 223.0 0 0 1 1807.4 1381.9L1779.4 1409.0A184.0 184.0 0 0 0 1736.2 1375.9Z" fill="#e0ad8a" stroke="#fffaf5" stroke-width="1.4" stroke-linejoin="round"/>
<path d="M1793.9 1426.1L1825.1 1402.6A223.0 223.0 0 0 1 1846.9 1438.0L1812.0 1455.3A184.0 184.0 0 0 0 1793.9 1426.1Z" fill="#e0ad8a" stroke="#fffaf5" stroke-width="1.4" stroke-linejoin="round"/>
<path d="M1424.0 1536.8L1375.0 1536.8A272.0 272.0 0 0 1 1376.4 1509.3L1425.1 1514.3A223.0 223.0 0 0 0 1424.0 1536.8Z" fill="#e6aca5" stroke="#fffaf5" stroke-width="1.4" stroke-linejoin="round"/>
<path d="M1425.1 1514.3L1376.4 1509.3A272.0 272.0 0 0 1 1380.3 1483.5L1428.3 1493.1A223.0 223.0 0 0 0 1425.1 1514.3Z" fill="#e6aca5" stroke="#fffaf5" stroke-width="1.4" stroke-linejoin="round"/>
<path d="M1428.3 1493.1L1380.3 1483.5A272.0 272.0 0 0 1 1385.4 1462.3L1432.5 1475.7A223.0 223.0 0 0 0 1428.3 1493.1Z" fill="#e6aca5" stroke="#fffaf5" stroke-width="1.4" stroke-linejoin="round"/>
<path d="M1432.5 1475.7L1385.4 1462.3A272.0 272.0 0 0 1 1391.9 1442.4L1437.9 1459.4A223.0 223.0 0 0 0 1432.5 1475.7Z" fill="#e6aca5" stroke="#fffaf5" stroke-width="1.4" stroke-linejoin="round"/>
<path d="M1437.9 1459.4L1391.9 1442.4A272.0 272.0 0 0 1 1402.3 1418.0L1446.4 1439.4A223.0 223.0 0 0 0 1437.9 1459.4Z" fill="#e9b5ac" stroke="#fffaf5" stroke-width="1.4" stroke-linejoin="round"/>
<path d="M1446.4 1439.4L1402.3 1418.0A272.0 272.0 0 0 1 1414.8 1395.1L1456.7 1420.6A223.0 223.0 0 0 0 1446.4 1439.4Z" fill="#e9b5ac" stroke="#fffaf5" stroke-width="1.4" stroke-linejoin="round"/>
<path d="M1456.7 1420.6L1414.8 1395.1A272.0 272.0 0 0 1 1426.1 1378.1L1465.9 1406.7A223.0 223.0 0 0 0 1456.7 1420.6Z" fill="#e9b5ac" stroke="#fffaf5" stroke-width="1.4" stroke-linejoin="round"/>
<path d="M1465.9 1406.7L1426.1 1378.1A272.0 272.0 0 0 1 1438.0 1362.7L1475.7 1394.1A223.0 223.0 0 0 0 1465.9 1406.7Z" fill="#e9b5ac" stroke="#fffaf5" stroke-width="1.4" stroke-linejoin="round"/>
<path d="M1475.7 1394.1L1438.0 1362.7A272.0 272.0 0 0 1 1453.3 1345.8L1488.2 1380.2A223.0 223.0 0 0 0 1475.7 1394.1Z" fill="#e6aca5" stroke="#fffaf5" stroke-width="1.4" stroke-linejoin="round"/>
<path d="M1488.2 1380.2L1453.3 1345.8A272.0 272.0 0 0 1 1471.8 1328.7L1503.4 1366.2A223.0 223.0 0 0 0 1488.2 1380.2Z" fill="#e6aca5" stroke="#fffaf5" stroke-width="1.4" stroke-linejoin="round"/>
<path d="M1503.4 1366.2L1471.8 1328.7A272.0 272.0 0 0 1 1486.7 1317.0L1515.6 1356.6A223.0 223.0 0 0 0 1503.4 1366.2Z" fill="#e6aca5" stroke="#fffaf5" stroke-width="1.4" stroke-linejoin="round"/>
<path d="M1515.6 1356.6L1486.7 1317.0A272.0 272.0 0 0 1 1500.9 1307.4L1527.2 1348.7A223.0 223.0 0 0 0 1515.6 1356.6Z" fill="#e6aca5" stroke="#fffaf5" stroke-width="1.4" stroke-linejoin="round"/>
<path d="M1527.2 1348.7L1500.9 1307.4A272.0 272.0 0 0 1 1519.7 1296.4L1542.7 1339.7A223.0 223.0 0 0 0 1527.2 1348.7Z" fill="#e9b5ac" stroke="#fffaf5" stroke-width="1.4" stroke-linejoin="round"/>
<path d="M1542.7 1339.7L1519.7 1296.4A272.0 272.0 0 0 1 1537.2 1287.9L1557.0 1332.8A223.0 223.0 0 0 0 1542.7 1339.7Z" fill="#e9b5ac" stroke="#fffaf5" stroke-width="1.4" stroke-linejoin="round"/>
<path d="M1557.0 1332.8L1537.2 1287.9A272.0 272.0 0 0 1 1553.5 1281.4L1570.4 1327.4A223.0 223.0 0 0 0 1557.0 1332.8Z" fill="#e9b5ac" stroke="#fffaf5" stroke-width="1.4" stroke-linejoin="round"/>
<path d="M1570.4 1327.4L1553.5 1281.4A272.0 272.0 0 0 1 1567.5 1276.7L1581.8 1323.5A223.0 223.0 0 0 0 1570.4 1327.4Z" fill="#e9b5ac" stroke="#fffaf5" stroke-width="1.4" stroke-linejoin="round"/>
<path d="M1582.9 1323.2L1568.8 1276.3A272.0 272.0 0 0 1 1612.0 1267.1L1618.3 1315.7A223.0 223.0 0 0 0 1582.9 1323.2Z" fill="#e6b49f" stroke="#fffaf5" stroke-width="1.4" stroke-linejoin="round"/>
<path d="M1618.3 1315.7L1612.0 1267.1A272.0 272.0 0 0 1 1639.9 1264.9L1641.2 1313.9A223.0 223.0 0 0 0 1618.3 1315.7Z" fill="#e6b49f" stroke="#fffaf5" stroke-width="1.4" stroke-linejoin="round"/>
<path d="M1641.2 1313.9L1639.9 1264.9A272.0 272.0 0 0 1 1651.7 1264.8L1650.9 1313.8A223.0 223.0 0 0 0 1641.2 1313.9Z" fill="#e6b49f" stroke="#fffaf5" stroke-width="1.4" stroke-linejoin="round"/>
<path d="M1656.7 1314.0L1658.9 1265.1A272.0 272.0 0 0 1 1673.5 1266.1L1668.8 1314.9A223.0 223.0 0 0 0 1656.7 1314.0Z" fill="#e6b49f" stroke="#fffaf5" stroke-width="1.4" stroke-linejoin="round"/>
<path d="M1668.8 1314.9L1673.5 1266.1A272.0 272.0 0 0 1 1688.1 1267.9L1680.7 1316.4A223.0 223.0 0 0 0 1668.8 1314.9Z" fill="#e6b49f" stroke="#fffaf5" stroke-width="1.4" stroke-linejoin="round"/>
<path d="M1680.7 1316.4L1688.1 1267.9A272.0 272.0 0 0 1 1700.8 1270.2L1691.1 1318.2A223.0 223.0 0 0 0 1680.7 1316.4Z" fill="#e6b49f" stroke="#fffaf5" stroke-width="1.4" stroke-linejoin="round"/>
<path d="M1691.1 1318.2L1700.8 1270.2A272.0 272.0 0 0 1 1713.7 1273.1L1701.7 1320.6A223.0 223.0 0 0 0 1691.1 1318.2Z" fill="#e6b49f" stroke="#fffaf5" stroke-width="1.4" stroke-linejoin="round"/>
<path d="M1755.8 1342.1L1779.7 1299.4A272.0 272.0 0 0 1 1800.3 1312.1L1772.7 1352.6A223.0 223.0 0 0 0 1755.8 1342.1Z" fill="#e4b795" stroke="#fffaf5" stroke-width="1.4" stroke-linejoin="round"/>
<path d="M1772.7 1352.6L1800.3 1312.1A272.0 272.0 0 0 1 1815.2 1323.0L1784.9 1361.6A223.0 223.0 0 0 0 1772.7 1352.6Z" fill="#e4b795" stroke="#fffaf5" stroke-width="1.4" stroke-linejoin="round"/>
<path d="M1784.9 1361.6L1815.2 1323.0A272.0 272.0 0 0 1 1829.7 1335.3L1796.8 1371.6A223.0 223.0 0 0 0 1784.9 1361.6Z" fill="#e4b795" stroke="#fffaf5" stroke-width="1.4" stroke-linejoin="round"/>
<path d="M1796.8 1371.6L1829.7 1335.3A272.0 272.0 0 0 1 1840.7 1345.8L1805.8 1380.2A223.0 223.0 0 0 0 1796.8 1371.6Z" fill="#e4b795" stroke="#fffaf5" stroke-width="1.4" stroke-linejoin="round"/>
<path d="M1825.1 1402.6L1864.2 1373.1A272.0 272.0 0 0 1 1872.8 1385.1L1832.1 1412.4A223.0 223.0 0 0 0 1825.1 1402.6Z" fill="#e4b795" stroke="#fffaf5" stroke-width="1.4" stroke-linejoin="round"/>
<path d="M1832.1 1412.4L1872.8 1385.1A272.0 272.0 0 0 1 1880.6 1397.5L1838.5 1422.6A223.0 223.0 0 0 0 1832.1 1412.4Z" fill="#e4b795" stroke="#fffaf5" stroke-width="1.4" stroke-linejoin="round"/>
<path d="M1771.9 1485.6L1817.2 1467.0A184.0 184.0 0 0 1 1789.4 1653.3L1751.5 1622.3A135.0 135.0 0 0 0 1771.9 1485.6Z" fill="#add583" stroke="#fffaf5" stroke-width="1.4" stroke-linejoin="round"/>
<path d="M1751.5 1622.3L1789.4 1653.3A184.0 184.0 0 0 1 1765.3 1677.8L1733.8 1640.2A135.0 135.0 0 0 0 1751.5 1622.3Z" fill="#93cb7c" stroke="#fffaf5" stroke-width="1.4" stroke-linejoin="round"/>
<path d="M1817.2 1467.0L1853.3 1452.2A223.0 223.0 0 0 1 1870.0 1539.5L1831.0 1539.0A184.0 184.0 0 0 0 1817.2 1467.0Z" fill="#b5d98f" stroke="#fffaf5" stroke-width="1.4" stroke-linejoin="round"/>
<path d="M1831.0 1539.0L1870.0 1539.5A223.0 223.0 0 0 1 1860.7 1600.5L1823.3 1589.4A184.0 184.0 0 0 0 1831.0 1539.0Z" fill="#b0d68c" stroke="#fffaf5" stroke-width="1.4" stroke-linejoin="round"/>
<path d="M1823.3 1589.4L1860.7 1600.5A223.0 223.0 0 0 1 1842.0 1644.9L1807.9 1626.0A184.0 184.0 0 0 0 1823.3 1589.4Z" fill="#b5d98f" stroke="#fffaf5" stroke-width="1.4" stroke-linejoin="round"/>
<path d="M1807.9 1626.0L1842.0 1644.9A223.0 223.0 0 0 1 1819.6 1678.0L1789.4 1653.3A184.0 184.0 0 0 0 1807.9 1626.0Z" fill="#b0d68c" stroke="#fffaf5" stroke-width="1.4" stroke-linejoin="round"/>
<path d="M1789.4 1653.3L1819.6 1678.0A223.0 223.0 0 0 1 1795.1 1703.6L1769.2 1674.4A184.0 184.0 0 0 0 1789.4 1653.3Z" fill="#a3d28c" stroke="#fffaf5" stroke-width="1.4" stroke-linejoin="round"/>
<path d="M1853.8 1453.3L1899.2 1434.9A272.0 272.0 0 0 1 1913.0 1479.8L1865.0 1490.1A223.0 223.0 0 0 0 1853.8 1453.3Z" fill="#bfdd9f" stroke="#fffaf5" stroke-width="1.4" stroke-linejoin="round"/>
<path d="M1865.0 1490.1L1913.0 1479.8A272.0 272.0 0 0 1 1918.4 1519.2L1869.5 1522.4A223.0 223.0 0 0 0 1865.0 1490.1Z" fill="#bfdd9f" stroke="#fffaf5" stroke-width="1.4" stroke-linejoin="round"/>
<path d="M1869.5 1522.4L1918.4 1519.2A272.0 272.0 0 0 1 1919.0 1533.0L1870.0 1533.7A223.0 223.0 0 0 0 1869.5 1522.4Z" fill="#bfdd9f" stroke="#fffaf5" stroke-width="1.4" stroke-linejoin="round"/>
<path d="M1870.0 1540.7L1919.0 1541.5A272.0 272.0 0 0 1 1917.8 1561.9L1869.0 1557.4A223.0 223.0 0 0 0 1870.0 1540.7Z" fill="#c5e0a7" stroke="#fffaf5" stroke-width="1.4" stroke-linejoin="round"/>
<path d="M1869.0 1557.4L1917.8 1561.9A272.0 272.0 0 0 1 1915.2 1582.2L1866.9 1574.0A223.0 223.0 0 0 0 1869.0 1557.4Z" fill="#c5e0a7" stroke="#fffaf5" stroke-width="1.4" stroke-linejoin="round"/>
<path d="M1866.9 1574.0L1915.2 1582.2A272.0 272.0 0 0 1 1912.0 1598.0L1864.3 1587.0A223.0 223.0 0 0 0 1866.9 1574.0Z" fill="#c5e0a7" stroke="#fffaf5" stroke-width="1.4" stroke-linejoin="round"/>
<path d="M1864.3 1587.0L1912.0 1598.0A272.0 272.0 0 0 1 1908.2 1612.7L1861.1 1599.0A223.0 223.0 0 0 0 1864.3 1587.0Z" fill="#c5e0a7" stroke="#fffaf5" stroke-width="1.4" stroke-linejoin="round"/>
<path d="M1860.9 1599.8L1907.9 1613.6A272.0 272.0 0 0 1 1903.6 1627.1L1857.3 1610.9A223.0 223.0 0 0 0 1860.9 1599.8Z" fill="#bfdd9f" stroke="#fffaf5" stroke-width="1.4" stroke-linejoin="round"/>
<path d="M1857.3 1610.9L1903.6 1627.1A272.0 272.0 0 0 1 1898.3 1640.9L1853.0 1622.1A223.0 223.0 0 0 0 1857.3 1610.9Z" fill="#bfdd9f" stroke="#fffaf5" stroke-width="1.4" stroke-linejoin="round"/>
<path d="M1853.0 1622.1L1898.3 1640.9A272.0 272.0 0 0 1 1892.3 1654.3L1848.1 1633.2A223.0 223.0 0 0 0 1853.0 1622.1Z" fill="#bfdd9f" stroke="#fffaf5" stroke-width="1.4" stroke-linejoin="round"/>
<path d="M1848.1 1633.2L1892.3 1654.3A272.0 272.0 0 0 1 1885.4 1667.8L1842.4 1644.2A223.0 223.0 0 0 0 1848.1 1633.2Z" fill="#bfdd9f" stroke="#fffaf5" stroke-width="1.4" stroke-linejoin="round"/>
<path d="M1842.0 1644.9L1884.9 1668.7A272.0 272.0 0 0 1 1876.5 1682.8L1835.1 1656.5A223.0 223.0 0 0 0 1842.0 1644.9Z" fill="#c5e0a7" stroke="#fffaf5" stroke-width="1.4" stroke-linejoin="round"/>
<path d="M1835.1 1656.5L1876.5 1682.8A272.0 272.0 0 0 1 1867.5 1696.0L1827.8 1667.4A223.0 223.0 0 0 0 1835.1 1656.5Z" fill="#c5e0a7" stroke="#fffaf5" stroke-width="1.4" stroke-linejoin="round"/>
<path d="M1827.8 1667.4L1867.5 1696.0A272.0 272.0 0 0 1 1857.8 1708.7L1819.8 1677.7A223.0 223.0 0 0 0 1827.8 1667.4Z" fill="#c5e0a7" stroke="#fffaf5" stroke-width="1.4" stroke-linejoin="round"/>
<path d="M1819.1 1678.6L1856.9 1709.8A272.0 272.0 0 0 1 1844.5 1723.9L1808.9 1690.2A223.0 223.0 0 0 0 1819.1 1678.6Z" fill="#b3d9a0" stroke="#fffaf5" stroke-width="1.4" stroke-linejoin="round"/>
<path d="M1808.9 1690.2L1844.5 1723.9A272.0 272.0 0 0 1 1831.1 1737.0L1797.9 1700.9A223.0 223.0 0 0 0 1808.9 1690.2Z" fill="#b3d9a0" stroke="#fffaf5" stroke-width="1.4" stroke-linejoin="round"/>
<path d="M1721.1 1649.6L1748.0 1690.6A184.0 184.0 0 0 1 1592.3 1712.5L1606.9 1665.7A135.0 135.0 0 0 0 1721.1 1649.6Z" fill="#86d0d4" stroke="#fffaf5" stroke-width="1.4" stroke-linejoin="round"/>
<path d="M1745.3 1692.3L1766.2 1725.3A223.0 223.0 0 0 1 1706.6 1751.7L1696.2 1714.1A184.0 184.0 0 0 0 1745.3 1692.3Z" fill="#90d3d8" stroke="#fffaf5" stroke-width="1.4" stroke-linejoin="round"/>
<path d="M1696.2 1714.1L1706.6 1751.7A223.0 223.0 0 0 1 1659.8 1759.4L1657.6 1720.5A184.0 184.0 0 0 0 1696.2 1714.1Z" fill="#8ecbd9" stroke="#fffaf5" stroke-width="1.4" stroke-linejoin="round"/>
<path d="M1657.6 1720.5L1659.8 1759.4A223.0 223.0 0 0 1 1615.2 1757.5L1620.8 1718.9A184.0 184.0 0 0 0 1657.6 1720.5Z" fill="#8cc4da" stroke="#fffaf5" stroke-width="1.4" stroke-linejoin="round"/>
<path d="M1620.8 1718.9L1615.2 1757.5A223.0 223.0 0 0 1 1581.1 1749.8L1592.6 1712.6A184.0 184.0 0 0 0 1620.8 1718.9Z" fill="#88bddb" stroke="#fffaf5" stroke-width="1.4" stroke-linejoin="round"/>
<path d="M1767.0 1726.6L1792.3 1766.7A272.0 272.0 0 0 1 1773.9 1777.4L1751.7 1735.4A224.5 224.5 0 0 0 1767.0 1726.6Z" fill="#a5dadf" stroke="#fffaf5" stroke-width="1.4" stroke-linejoin="round"/>
<path d="M1751.7 1735.4L1773.9 1777.4A272.0 272.0 0 0 1 1753.3 1787.2L1734.7 1743.5A224.5 224.5 0 0 0 1751.7 1735.4Z" fill="#a5dadf" stroke="#fffaf5" stroke-width="1.4" stroke-linejoin="round"/>
<path d="M1734.7 1743.5L1753.3 1787.2A272.0 272.0 0 0 1 1736.9 1793.5L1721.2 1748.7A224.5 224.5 0 0 0 1734.7 1743.5Z" fill="#a5dadf" stroke="#fffaf5" stroke-width="1.4" stroke-linejoin="round"/>
<path d="M1721.2 1748.7L1736.9 1793.5A272.0 272.0 0 0 1 1720.1 1798.8L1707.4 1753.0A224.5 224.5 0 0 0 1721.2 1748.7Z" fill="#a5dadf" stroke="#fffaf5" stroke-width="1.4" stroke-linejoin="round"/>
<path d="M1707.4 1753.0L1720.1 1798.8A272.0 272.0 0 0 1 1701.9 1803.2L1692.3 1756.7A224.5 224.5 0 0 0 1707.4 1753.0Z" fill="#a3d3e1" stroke="#fffaf5" stroke-width="1.4" stroke-linejoin="round"/>
<path d="M1692.3 1756.7L1701.9 1803.2A272.0 272.0 0 0 1 1683.4 1806.3L1677.1 1759.3A224.5 224.5 0 0 0 1692.3 1756.7Z" fill="#a3d3e1" stroke="#fffaf5" stroke-width="1.4" stroke-linejoin="round"/>
<path d="M1657.6 1761.1L1659.8 1808.5A272.0 272.0 0 0 1 1646.5 1808.8L1646.6 1761.3A224.5 224.5 0 0 0 1657.6 1761.1Z" fill="#a0cce3" stroke="#fffaf5" stroke-width="1.4" stroke-linejoin="round"/>
<path d="M1646.6 1761.3L1646.5 1808.8A272.0 272.0 0 0 1 1633.7 1808.5L1636.0 1761.0A224.5 224.5 0 0 0 1646.6 1761.3Z" fill="#a0cce3" stroke="#fffaf5" stroke-width="1.4" stroke-linejoin="round"/>
<path d="M1636.0 1761.0L1633.7 1808.5A272.0 272.0 0 0 1 1620.9 1807.5L1625.5 1760.3A224.5 224.5 0 0 0 1636.0 1761.0Z" fill="#a0cce3" stroke="#fffaf5" stroke-width="1.4" stroke-linejoin="round"/>
<path d="M1625.5 1760.3L1620.9 1807.5A272.0 272.0 0 0 1 1609.1 1806.2L1615.8 1759.1A224.5 224.5 0 0 0 1625.5 1760.3Z" fill="#a0cce3" stroke="#fffaf5" stroke-width="1.4" stroke-linejoin="round"/>
<path d="M1615.8 1759.1L1609.1 1806.2A272.0 272.0 0 0 1 1595.6 1803.9L1604.5 1757.2A224.5 224.5 0 0 0 1615.8 1759.1Z" fill="#9ec8e4" stroke="#fffaf5" stroke-width="1.4" stroke-linejoin="round"/>
<path d="M1576.3 1651.8L1550.6 1693.5A184.0 184.0 0 0 1 1471.4 1591.8L1518.2 1577.2A135.0 135.0 0 0 0 1576.3 1651.8Z" fill="#aa82c0" stroke="#fffaf5" stroke-width="1.4" stroke-linejoin="round"/>
<path d="M1518.2 1577.2L1471.4 1591.8A184.0 184.0 0 0 1 1464.4 1559.2L1513.0 1553.3A135.0 135.0 0 0 0 1518.2 1577.2Z" fill="#b97fc3" stroke="#fffaf5" stroke-width="1.4" stroke-linejoin="round"/>
<path d="M1550.6 1693.5L1530.2 1726.7A223.0 223.0 0 0 1 1492.4 1697.5L1519.4 1669.4A184.0 184.0 0 0 0 1550.6 1693.5Z" fill="#b38fc7" stroke="#fffaf5" stroke-width="1.4" stroke-linejoin="round"/>
<path d="M1519.4 1669.4L1492.4 1697.5A223.0 223.0 0 0 1 1463.2 1663.1L1495.4 1641.0A184.0 184.0 0 0 0 1519.4 1669.4Z" fill="#b892c9" stroke="#fffaf5" stroke-width="1.4" stroke-linejoin="round"/>
<path d="M1481.1 1616.3L1445.9 1633.2A223.0 223.0 0 0 1 1434.1 1603.1L1471.3 1591.5A184.0 184.0 0 0 0 1481.1 1616.3Z" fill="#c291cb" stroke="#fffaf5" stroke-width="1.4" stroke-linejoin="round"/>
<path d="M1471.3 1591.5L1434.1 1603.1A223.0 223.0 0 0 1 1427.4 1575.5L1465.8 1568.8A184.0 184.0 0 0 0 1471.3 1591.5Z" fill="#c291cb" stroke="#fffaf5" stroke-width="1.4" stroke-linejoin="round"/>
<path d="M1530.0 1727.8L1504.9 1768.7A272.0 272.0 0 0 1 1491.8 1760.2L1519.2 1720.8A224.0 224.0 0 0 0 1530.0 1727.8Z" fill="#c4a3d2" stroke="#fffaf5" stroke-width="1.4" stroke-linejoin="round"/>
<path d="M1519.2 1720.8L1491.8 1760.2A272.0 272.0 0 0 1 1480.4 1751.8L1509.8 1713.9A224.0 224.0 0 0 0 1519.2 1720.8Z" fill="#c4a3d2" stroke="#fffaf5" stroke-width="1.4" stroke-linejoin="round"/>
<path d="M1509.8 1713.9L1480.4 1751.8A272.0 272.0 0 0 1 1468.7 1742.2L1500.2 1706.0A224.0 224.0 0 0 0 1509.8 1713.9Z" fill="#c4a3d2" stroke="#fffaf5" stroke-width="1.4" stroke-linejoin="round"/>
<path d="M1500.2 1706.0L1468.7 1742.2A272.0 272.0 0 0 1 1459.3 1733.6L1492.4 1698.9A224.0 224.0 0 0 0 1500.2 1706.0Z" fill="#c4a3d2" stroke="#fffaf5" stroke-width="1.4" stroke-linejoin="round"/>
<path d="M1492.4 1698.9L1459.3 1733.6A272.0 272.0 0 0 1 1448.0 1722.2L1483.1 1689.5A224.0 224.0 0 0 0 1492.4 1698.9Z" fill="#c4a3d2" stroke="#fffaf5" stroke-width="1.4" stroke-linejoin="round"/>
<path d="M1483.1 1689.5L1448.0 1722.2A272.0 272.0 0 0 1 1438.0 1710.8L1474.8 1680.1A224.0 224.0 0 0 0 1483.1 1689.5Z" fill="#c4a3d2" stroke="#fffaf5" stroke-width="1.4" stroke-linejoin="round"/>
<path d="M1474.8 1680.1L1438.0 1710.8A272.0 272.0 0 0 1 1428.6 1698.9L1467.1 1670.3A224.0 224.0 0 0 0 1474.8 1680.1Z" fill="#c4a3d2" stroke="#fffaf5" stroke-width="1.4" stroke-linejoin="round"/>
<path d="M1467.1 1670.3L1428.6 1698.9A272.0 272.0 0 0 1 1422.8 1690.9L1462.4 1663.7A224.0 224.0 0 0 0 1467.1 1670.3Z" fill="#c4a3d2" stroke="#fffaf5" stroke-width="1.4" stroke-linejoin="round"/>
<path d="M1444.3 1632.2L1400.9 1652.6A272.0 272.0 0 0 1 1396.6 1643.1L1440.8 1624.3A224.0 224.0 0 0 0 1444.3 1632.2Z" fill="#cca3d4" stroke="#fffaf5" stroke-width="1.4" stroke-linejoin="round"/>
<path d="M1433.5 1601.3L1386.6 1615.4A272.0 272.0 0 0 1 1382.9 1601.9L1430.5 1590.2A223.0 223.0 0 0 0 1433.5 1601.3Z" fill="#cca3d4" stroke="#fffaf5" stroke-width="1.4" stroke-linejoin="round"/>
<path d="M1430.5 1590.2L1382.9 1601.9A272.0 272.0 0 0 1 1379.9 1588.2L1428.0 1579.0A223.0 223.0 0 0 0 1430.5 1590.2Z" fill="#cca3d4" stroke="#fffaf5" stroke-width="1.4" stroke-linejoin="round"/>
<g font-weight="bold" text-anchor="middle" fill="#000" stroke="#000" stroke-width="1.0" stroke-linejoin="round">
<text transform="translate(1626.4 1440.0) rotate(-12.0)" y="11.3" font-size="31.5">A</text>
<text transform="translate(1742.3 1570.3) rotate(109.4)" y="11.3" font-size="31.5">G</text>
<text transform="translate(1650.2 1637.8) rotate(178.2)" y="11.3" font-size="31.5">U</text>
<text transform="translate(1557.3 1589.4) rotate(239.6)" y="11.3" font-size="31.5">C</text>
<text transform="translate(1521.3 1438.6) rotate(-52.0)" y="10.6" font-size="29.5">A</text>
<text transform="translate(1663.4 1378.1) rotate(5.9)" y="10.6" font-size="29.5">G</text>
<text transform="translate(1751.7 1416.5) rotate(41.1)" y="10.6" font-size="29.5">U</text>
<text transform="translate(1785.7 1458.0) rotate(60.4)" y="10.6" font-size="29.5">C</text>
<text transform="translate(1446.7 1501.1) rotate(-79.9)" y="10.2" font-size="28.5">A</text>
<text transform="translate(1470.5 1435.5) rotate(-60.1)" y="10.2" font-size="28.5">G</text>
<text transform="translate(1511.9 1384.6) rotate(-41.6)" y="10.2" font-size="28.5">U</text>
<text transform="translate(1562.0 1351.9) rotate(-24.7)" y="10.2" font-size="28.5">C</text>
<text transform="translate(1620.3 1335.1) rotate(-7.6)" y="10.2" font-size="28.5">A</text>
<text transform="translate(1676.4 1335.4) rotate(8.3)" y="10.2" font-size="28.5">U</text>
<text transform="translate(1770.9 1375.4) rotate(37.5)" y="10.2" font-size="28.5">A</text>
<text transform="translate(1820.2 1430.0) rotate(58.3)" y="10.2" font-size="28.5">A</text>
<text transform="translate(1401.0 1524.3) rotate(-87.1)" y="9.8" font-size="27.5">G</text>
<text transform="translate(1403.4 1500.2) rotate(-81.5)" y="9.8" font-size="27.5">C</text>
<text transform="translate(1409.0 1479.2) rotate(-76.4)" y="8.4" font-size="23.5">A</text>
<text transform="translate(1414.9 1460.9) rotate(-71.9)" y="7.7" font-size="21.4">U</text>
<text transform="translate(1420.7 1440.3) rotate(-66.9)" y="9.5" font-size="26.5">U</text>
<text transform="translate(1431.4 1419.0) rotate(-61.4)" y="9.1" font-size="25.5">C</text>
<text transform="translate(1442.9 1401.4) rotate(-56.5)" y="8.4" font-size="23.5">A</text>
<text transform="translate(1453.3 1386.9) rotate(-52.2)" y="8.4" font-size="23.5">G</text>
<text transform="translate(1465.3 1372.0) rotate(-47.8)" y="8.8" font-size="24.5">G</text>
<text transform="translate(1480.5 1356.7) rotate(-42.8)" y="8.8" font-size="24.5">U</text>
<text transform="translate(1496.5 1344.8) rotate(-38.1)" y="7.5" font-size="20.9">A</text>
<text transform="translate(1510.0 1335.9) rotate(-34.3)" y="6.7" font-size="18.7">C</text>
<text transform="translate(1523.8 1325.1) rotate(-30.2)" y="8.4" font-size="23.5">C</text>
<text transform="translate(1540.4 1316.7) rotate(-25.8)" y="8.0" font-size="22.4">U</text>
<text transform="translate(1555.7 1310.1) rotate(-21.9)" y="7.9" font-size="22.0">A</text>
<text transform="translate(1569.6 1306.2) rotate(-18.5)" y="6.7" font-size="18.7">G</text>
<text transform="translate(1595.5 1295.5) rotate(-12.1)" y="10.2" font-size="28.6">U</text>
<text transform="translate(1627.9 1290.8) rotate(-4.5)" y="10.2" font-size="28.6">C</text>
<text transform="translate(1645.9 1293.2) rotate(-0.2)" y="7.1" font-size="19.8">G</text>
<text transform="translate(1664.1 1294.6) rotate(4.0)" y="6.3" font-size="17.6">U</text>
<text transform="translate(1677.2 1295.9) rotate(7.1)" y="6.3" font-size="17.6">G</text>
<text transform="translate(1689.4 1297.7) rotate(10.0)" y="6.3" font-size="17.6">A</text>
<text transform="translate(1700.8 1300.0) rotate(12.8)" y="6.3" font-size="17.6">C</text>
<text transform="translate(1776.1 1328.2) rotate(31.8)" y="8.8" font-size="24.5">U</text>
<text transform="translate(1791.5 1339.7) rotate(36.2)" y="7.9" font-size="22.0">G</text>
<text transform="translate(1804.5 1350.4) rotate(40.2)" y="7.5" font-size="20.9">C</text>
<text transform="translate(1815.6 1361.0) rotate(43.8)" y="7.1" font-size="19.8">A</text>
<text transform="translate(1845.1 1395.7) rotate(54.6)" y="6.7" font-size="18.7">U</text>
<text transform="translate(1852.1 1406.9) rotate(57.6)" y="6.3" font-size="17.6">G</text>
<text transform="translate(1804.6 1561.2) rotate(98.8)" y="10.6" font-size="29.5">A</text>
<text transform="translate(1760.5 1648.9) rotate(134.7)" y="10.6" font-size="29.5">G</text>
<text transform="translate(1847.8 1503.9) rotate(80.7)" y="10.2" font-size="28.5">A</text>
<text transform="translate(1848.2 1567.4) rotate(98.6)" y="10.2" font-size="28.5">G</text>
<text transform="translate(1834.6 1615.7) rotate(112.8)" y="10.2" font-size="28.5">C</text>
<text transform="translate(1815.4 1651.0) rotate(124.2)" y="10.2" font-size="28.5">U</text>
<text transform="translate(1793.8 1677.8) rotate(133.9)" y="10.2" font-size="28.5">A</text>
<text transform="translate(1882.2 1464.7) rotate(72.9)" y="9.5" font-size="26.5">U</text>
<text transform="translate(1890.7 1503.0) rotate(82.1)" y="9.5" font-size="26.5">C</text>
<text transform="translate(1888.8 1527.3) rotate(87.8)" y="5.5" font-size="15.4">A</text>
<text transform="translate(1891.0 1550.2) rotate(93.1)" y="7.9" font-size="22.0">A</text>
<text transform="translate(1888.9 1568.4) rotate(97.4)" y="7.5" font-size="20.9">C</text>
<text transform="translate(1886.3 1584.6) rotate(101.3)" y="7.5" font-size="20.9">U</text>
<text transform="translate(1882.3 1598.1) rotate(104.6)" y="6.7" font-size="18.7">G</text>
<text transform="translate(1877.7 1611.3) rotate(107.9)" y="5.9" font-size="16.5">A</text>
<text transform="translate(1871.9 1622.9) rotate(110.9)" y="4.3" font-size="12.1">C</text>
<text transform="translate(1867.6 1635.3) rotate(114.1)" y="5.1" font-size="14.3">G</text>
<text transform="translate(1862.3 1647.4) rotate(117.2)" y="5.5" font-size="15.4">U</text>
<text transform="translate(1855.0 1660.5) rotate(120.7)" y="5.5" font-size="15.4">C</text>
<text transform="translate(1847.3 1672.7) rotate(124.2)" y="5.5" font-size="15.4">U</text>
<text transform="translate(1839.0 1684.2) rotate(127.5)" y="5.5" font-size="15.4">A</text>
<text transform="translate(1829.2 1697.9) rotate(131.5)" y="6.7" font-size="18.7">C</text>
<text transform="translate(1817.7 1710.0) rotate(135.4)" y="6.7" font-size="18.7">U</text>
<text transform="translate(1665.1 1695.3) rotate(173.5)" y="10.6" font-size="29.5">A</text>
<text transform="translate(1723.2 1725.5) rotate(158.0)" y="10.2" font-size="28.5">A</text>
<text transform="translate(1680.2 1737.6) rotate(170.6)" y="10.2" font-size="28.5">G</text>
<text transform="translate(1638.3 1740.1) rotate(182.4)" y="10.2" font-size="28.5">U</text>
<text transform="translate(1602.3 1735.3) rotate(192.7)" y="10.2" font-size="28.5">C</text>
<text transform="translate(1771.1 1751.3) rotate(149.9)" y="9.8" font-size="27.5">U</text>
<text transform="translate(1753.0 1760.0) rotate(154.6)" y="9.1" font-size="25.5">C</text>
<text transform="translate(1735.9 1766.6) rotate(158.9)" y="8.4" font-size="23.5">G</text>
<text transform="translate(1720.7 1771.2) rotate(162.6)" y="7.7" font-size="21.4">A</text>
<text transform="translate(1704.9 1775.5) rotate(166.4)" y="7.7" font-size="21.4">U</text>
<text transform="translate(1688.3 1779.0) rotate(170.3)" y="7.7" font-size="21.4">A</text>
<text transform="translate(1652.5 1780.3) rotate(178.7)" y="5.5" font-size="15.4">U</text>
<text transform="translate(1640.8 1780.2) rotate(181.5)" y="5.5" font-size="15.4">G</text>
<text transform="translate(1629.4 1779.7) rotate(184.1)" y="5.5" font-size="15.4">A</text>
<text transform="translate(1618.4 1778.6) rotate(186.8)" y="5.5" font-size="15.4">C</text>
<text transform="translate(1607.0 1777.0) rotate(189.4)" y="5.5" font-size="15.4">A</text>
<text transform="translate(1521.0 1634.6) rotate(232.2)" y="10.6" font-size="29.5">A</text>
<text transform="translate(1491.1 1570.5) rotate(257.8)" y="10.6" font-size="29.5">G</text>
<text transform="translate(1524.8 1699.5) rotate(216.9)" y="10.2" font-size="28.5">A</text>
<text transform="translate(1491.8 1668.4) rotate(229.7)" y="10.2" font-size="28.5">U</text>
<text transform="translate(1457.6 1611.2) rotate(248.5)" y="10.2" font-size="28.5">G</text>
<text transform="translate(1449.5 1586.0) rotate(256.0)" y="10.2" font-size="28.5">A</text>
<text transform="translate(1513.1 1741.9) rotate(213.1)" y="7.5" font-size="20.9">C</text>
<text transform="translate(1503.0 1733.0) rotate(216.3)" y="5.9" font-size="16.5">U</text>
<text transform="translate(1492.6 1725.0) rotate(219.4)" y="5.9" font-size="16.5">G</text>
<text transform="translate(1483.4 1716.5) rotate(222.3)" y="5.5" font-size="15.4">A</text>
<text transform="translate(1474.1 1707.6) rotate(225.3)" y="5.5" font-size="15.4">G</text>
<text transform="translate(1464.6 1697.4) rotate(228.6)" y="5.5" font-size="15.4">U</text>
<text transform="translate(1456.0 1687.0) rotate(231.8)" y="5.5" font-size="15.4">A</text>
<text transform="translate(1449.6 1677.8) rotate(234.5)" y="5.1" font-size="14.3">C</text>
<text transform="translate(1424.5 1636.4) rotate(245.9)" y="6.3" font-size="17.6">U</text>
<text transform="translate(1413.6 1600.8) rotate(254.7)" y="5.5" font-size="15.4">C</text>
<text transform="translate(1410.6 1588.7) rotate(257.6)" y="5.5" font-size="15.4">U</text>
</g>
<path d="M1360.8 1522.8A286.5 286.5 0 0 1 1561.8 1263.3" fill="none" stroke="#000" stroke-width="3.9"/>
<path d="M1566.1 1262.0A286.5 286.5 0 0 1 1650.5 1250.3" fill="none" stroke="#000" stroke-width="3.9"/>
<path d="M1660.5 1250.6A286.5 286.5 0 0 1 1718.7 1259.4" fill="none" stroke="#000" stroke-width="3.9"/>
<path d="M1785.9 1286.2A286.5 286.5 0 0 1 1852.7 1337.4" fill="none" stroke="#000" stroke-width="3.9"/>
<path d="M1875.5 1364.0A286.5 286.5 0 0 1 1894.1 1391.8" fill="none" stroke="#000" stroke-width="3.9"/>
<path d="M1912.1 1428.1A286.5 286.5 0 0 1 1871.5 1714.8" fill="none" stroke="#000" stroke-width="3.9"/>
<path d="M1866.5 1721.0A286.5 286.5 0 0 1 1841.3 1747.4" fill="none" stroke="#000" stroke-width="3.9"/>
<path d="M1800.9 1778.4A286.5 286.5 0 0 1 1726.0 1812.2" fill="none" stroke="#000" stroke-width="3.9"/>
<path d="M1720.2 1813.8A286.5 286.5 0 0 1 1686.4 1820.6" fill="none" stroke="#000" stroke-width="3.9"/>
<path d="M1500.3 1782.9A286.5 286.5 0 0 1 1408.1 1694.9" fill="none" stroke="#000" stroke-width="3.9"/>
<path d="M1388.4 1660.1A286.5 286.5 0 0 1 1382.7 1647.4" fill="none" stroke="#000" stroke-width="3.9"/>
<path d="M1373.5 1622.0A286.5 286.5 0 0 1 1365.5 1590.0" fill="none" stroke="#000" stroke-width="3.9"/>
<path d="M1661.5 1823.1A286.7 286.7 0 0 1 1609.6 1821.0" fill="none" stroke="#000" stroke-width="3.9"/>
<path d="M1604.1 1820.3A286.7 286.7 0 0 1 1593.3 1818.4" fill="none" stroke="#000" stroke-width="3.9"/>
<text transform="translate(1415.8 1345.6) rotate(-50.4)" font-size="28" font-weight="bold" text-anchor="middle" stroke-width="0.45"><tspan fill="#a7a9ac" stroke="#a7a9ac" stroke-width="0.9">N</tspan><tspan fill="#a7a9ac" stroke="#a7a9ac" stroke-width="0.9">N</tspan><tspan fill="#be1e2d" stroke="#be1e2d">AAC</tspan></text>
<text transform="translate(1605.2 1239.7) rotate(-8.0)" font-size="28" font-weight="bold" text-anchor="middle" stroke-width="0.45"><tspan fill="#808285" stroke="#808285" stroke-width="0.9">V</tspan><tspan fill="#be1e2d" stroke="#be1e2d">AGAC</tspan></text>
<text transform="translate(1833.8 1302.0) rotate(38.5)" font-size="28" font-weight="bold" text-anchor="middle" stroke-width="0.45"><tspan fill="#a7a9ac" stroke="#a7a9ac" stroke-width="0.9">N</tspan><tspan fill="#be1e2d" stroke="#be1e2d">AUAC</tspan></text>
<text transform="translate(1943.1 1584.8) rotate(99.2)" font-size="28" font-weight="bold" text-anchor="middle" stroke-width="0.45"><tspan fill="#808285" stroke="#808285" stroke-width="0.9">H</tspan><tspan fill="#a7a9ac" stroke="#a7a9ac" stroke-width="0.9">N</tspan><tspan fill="#0b9444" stroke="#0b9444">AGC</tspan></text>
<text transform="translate(1440.5 1754.4) rotate(223.5)" font-size="28" font-weight="bold" text-anchor="middle" stroke-width="0.45"><tspan fill="#a7a9ac" stroke="#a7a9ac" stroke-width="0.9">N</tspan><tspan fill="#808285" stroke="#808285" stroke-width="0.9">S</tspan><tspan fill="#7f3f98" stroke="#7f3f98">AUU</tspan></text>
<text transform="translate(1691.2 1241.1) rotate(278.5)" y="8.7" font-size="24.2" font-weight="bold" text-anchor="start" stroke-width="0.45"><tspan fill="#a7a9ac" stroke="#a7a9ac" stroke-width="0.9">N</tspan><tspan fill="#be1e2d" stroke="#be1e2d">UGAC</tspan></text>
<text transform="translate(1894.6 1371.0) rotate(326.2)" y="8.7" font-size="24.2" font-weight="bold" text-anchor="start" stroke-width="0.45"><tspan fill="#808285" stroke="#808285" stroke-width="0.9">K</tspan><tspan fill="#be1e2d" stroke="#be1e2d">ACAC</tspan></text>
<text transform="translate(1861.4 1743.8) rotate(404.0)" y="8.7" font-size="24.2" font-weight="bold" text-anchor="start" stroke-width="0.45"><tspan fill="#808285" stroke="#808285" stroke-width="0.9">Y</tspan><tspan fill="#0b9444" stroke="#0b9444">AGGU</tspan></text>
<text transform="translate(1767.6 1811.5) rotate(426.3)" y="8.4" font-size="23.6" font-weight="normal" text-anchor="start" stroke-width="0.85"><tspan fill="#a7a9ac" stroke="#a7a9ac" stroke-width="0.85">N</tspan><tspan fill="#1b75bc" stroke="#1b75bc">AAUC</tspan></text>
<text transform="translate(1705.3 1831.1) rotate(438.8)" y="8.4" font-size="23.6" font-weight="normal" text-anchor="start" stroke-width="0.85"><tspan fill="#7d7370" stroke="#7d7370" stroke-width="0.85">S</tspan><tspan fill="#1b75bc" stroke="#1b75bc">GAUC</tspan></text>
<text transform="translate(1633.4 1837.0) rotate(272.6)" y="8.4" font-size="23.6" font-weight="normal" text-anchor="end" stroke-width="0.85"><tspan fill="#a7a9ac" stroke="#a7a9ac" stroke-width="0.85">N</tspan><tspan fill="#1b75bc" stroke="#1b75bc">UAUC</tspan></text>
<text transform="translate(1593.8 1832.6) rotate(280.2)" y="8.4" font-size="23.6" font-weight="normal" text-anchor="end" stroke-width="0.85"><tspan fill="#1b75bc" stroke="#1b75bc">ACAUC</tspan></text>
<text transform="translate(1368.6 1661.3) rotate(335.9)" y="8.7" font-size="24.2" font-weight="bold" text-anchor="end" stroke-width="0.45"><tspan fill="#7f3f98" stroke="#7f3f98">UGACC</tspan></text>
<text transform="translate(1351.1 1610.6) rotate(346.0)" y="8.7" font-size="24.2" font-weight="bold" text-anchor="end" stroke-width="0.45"><tspan fill="#808285" stroke="#808285" stroke-width="0.9">Y</tspan><tspan fill="#7f3f98" stroke="#7f3f98">AGCC</tspan></text>
<ellipse cx="1537.5" cy="1530.5" rx="12.6" ry="9" fill="#fff"/>
<text x="1537.0" y="1532.2" font-size="14" text-anchor="middle" fill="#000">-2</text>
<ellipse cx="1484.5" cy="1530.5" rx="12.6" ry="9" fill="#fff"/>
<text x="1484.0" y="1532.2" font-size="14" text-anchor="middle" fill="#000">-3</text>
<ellipse cx="1441.7" cy="1530.5" rx="12.6" ry="9" fill="#fff"/>
<text x="1441.2" y="1532.2" font-size="14" text-anchor="middle" fill="#000">-4</text>
<ellipse cx="1395.7" cy="1530.5" rx="12.6" ry="9" fill="#fff"/>
<text x="1395.2" y="1532.2" font-size="14" text-anchor="middle" fill="#000">-5</text>
<path d="M1571.7 1536.8H1330.0" stroke="#000" stroke-width="4" fill="none"/>
<path d="M1316.0 1536.8l23 -10.5l-6 10.5l6 10.5z" fill="#000"/>
<circle cx="1647.0" cy="1536.8" r="75.3" fill="#fff" stroke="#000" stroke-width="5.8"/>
<text x="1646.5" y="1546.4" font-size="31.5" font-weight="bold" text-anchor="middle" fill="#000" stroke="#000" stroke-width="1.0">C</text>
<text x="1630.5" y="1522.0" font-size="13" text-anchor="middle" fill="#000">-1</text>
</g>
<g id="sun-a">
<circle cx="361.4" cy="1668.2" r="245" fill="#cccfd3"/>
<path d="M286.1 1668.2L225.4 1668.2A136.0 136.0 0 1 1 488.4 1716.9L431.7 1695.2A75.3 75.3 0 1 0 286.1 1668.2Z" fill="#d87678" stroke="#fffaf5" stroke-width="1.4" stroke-linejoin="round"/>
<path d="M431.7 1695.2L489.3 1717.3A137.0 137.0 0 0 1 313.4 1796.5L335.0 1738.7A75.3 75.3 0 0 0 431.7 1695.2Z" fill="#a4d178" stroke="#fffaf5" stroke-width="1.4" stroke-linejoin="round"/>
<path d="M335.0 1738.7L313.8 1795.6A136.0 136.0 0 0 1 245.8 1739.9L297.4 1707.9A75.3 75.3 0 0 0 335.0 1738.7Z" fill="#7accd0" stroke="#fffaf5" stroke-width="1.4" stroke-linejoin="round"/>
<path d="M297.4 1707.9L245.8 1739.9A136.0 136.0 0 0 1 225.4 1668.2L286.1 1668.2A75.3 75.3 0 0 0 297.4 1707.9Z" fill="#9f76b8" stroke="#fffaf5" stroke-width="1.4" stroke-linejoin="round"/>
<path d="M225.4 1668.2L175.9 1668.2A185.5 185.5 0 0 1 516.4 1566.4L475.1 1593.5A136.0 136.0 0 0 0 225.4 1668.2Z" fill="#dc8384" stroke="#fffaf5" stroke-width="1.4" stroke-linejoin="round"/>
<path d="M475.1 1593.5L516.4 1566.4A185.5 185.5 0 0 1 546.9 1664.0L497.4 1665.1A136.0 136.0 0 0 0 475.1 1593.5Z" fill="#dfa089" stroke="#fffaf5" stroke-width="1.4" stroke-linejoin="round"/>
<path d="M175.9 1668.2L135.4 1668.2A226.0 226.0 0 0 1 280.4 1457.2L294.9 1495.0A185.5 185.5 0 0 0 175.9 1668.2Z" fill="#de8e8d" stroke="#fffaf5" stroke-width="1.4" stroke-linejoin="round"/>
<path d="M294.9 1495.0L280.4 1457.2A226.0 226.0 0 0 1 390.1 1444.0L385.0 1484.2A185.5 185.5 0 0 0 294.9 1495.0Z" fill="#e29c98" stroke="#fffaf5" stroke-width="1.4" stroke-linejoin="round"/>
<path d="M385.0 1484.2L390.1 1444.0A226.0 226.0 0 0 1 489.7 1482.2L466.7 1515.5A185.5 185.5 0 0 0 385.0 1484.2Z" fill="#e2a991" stroke="#fffaf5" stroke-width="1.4" stroke-linejoin="round"/>
<path d="M466.7 1515.5L489.7 1482.2A226.0 226.0 0 0 1 550.3 1544.1L516.4 1566.4A185.5 185.5 0 0 0 466.7 1515.5Z" fill="#e2a991" stroke="#fffaf5" stroke-width="1.4" stroke-linejoin="round"/>
<path d="M516.4 1566.4L550.3 1544.1A226.0 226.0 0 0 1 585.9 1642.6L545.7 1647.2A185.5 185.5 0 0 0 516.4 1566.4Z" fill="#e2a991" stroke="#fffaf5" stroke-width="1.4" stroke-linejoin="round"/>
<path d="M135.4 1668.2L89.9 1668.2A271.5 271.5 0 0 1 104.1 1581.6L147.2 1596.1A226.0 226.0 0 0 0 135.4 1668.2Z" fill="#e6aca5" stroke="#fffaf5" stroke-width="1.4" stroke-linejoin="round"/>
<path d="M147.2 1596.1L104.1 1581.6A271.5 271.5 0 0 1 141.2 1509.4L178.1 1536.0A226.0 226.0 0 0 0 147.2 1596.1Z" fill="#e6aca5" stroke="#fffaf5" stroke-width="1.4" stroke-linejoin="round"/>
<path d="M178.1 1536.0L141.2 1509.4A271.5 271.5 0 0 1 196.1 1452.8L223.8 1488.9A226.0 226.0 0 0 0 178.1 1536.0Z" fill="#e6aca5" stroke="#fffaf5" stroke-width="1.4" stroke-linejoin="round"/>
<path d="M223.8 1488.9L196.1 1452.8A271.5 271.5 0 0 1 264.1 1414.7L280.4 1457.2A226.0 226.0 0 0 0 223.8 1488.9Z" fill="#e6aca5" stroke="#fffaf5" stroke-width="1.4" stroke-linejoin="round"/>
<path d="M280.4 1457.2L264.1 1414.7A271.5 271.5 0 0 1 302.2 1403.2L312.1 1447.6A226.0 226.0 0 0 0 280.4 1457.2Z" fill="#e9b5ac" stroke="#fffaf5" stroke-width="1.4" stroke-linejoin="round"/>
<path d="M312.1 1447.6L302.2 1403.2A271.5 271.5 0 0 1 341.0 1397.5L344.5 1442.8A226.0 226.0 0 0 0 312.1 1447.6Z" fill="#e9b5ac" stroke="#fffaf5" stroke-width="1.4" stroke-linejoin="round"/>
<path d="M344.5 1442.8L341.0 1397.5A271.5 271.5 0 0 1 369.9 1396.8L368.5 1442.3A226.0 226.0 0 0 0 344.5 1442.8Z" fill="#e9b5ac" stroke="#fffaf5" stroke-width="1.4" stroke-linejoin="round"/>
<path d="M368.5 1442.3L369.9 1396.8A271.5 271.5 0 0 1 394.5 1398.7L388.9 1443.9A226.0 226.0 0 0 0 368.5 1442.3Z" fill="#e9b5ac" stroke="#fffaf5" stroke-width="1.4" stroke-linejoin="round"/>
<path d="M388.9 1443.9L394.5 1398.7A271.5 271.5 0 0 1 435.3 1407.0L422.9 1450.7A226.0 226.0 0 0 0 388.9 1443.9Z" fill="#e6b49f" stroke="#fffaf5" stroke-width="1.4" stroke-linejoin="round"/>
<path d="M422.9 1450.7L435.3 1407.0A271.5 271.5 0 0 1 466.6 1417.9L449.0 1459.9A226.0 226.0 0 0 0 422.9 1450.7Z" fill="#e6b49f" stroke="#fffaf5" stroke-width="1.4" stroke-linejoin="round"/>
<path d="M449.0 1459.9L466.6 1417.9A271.5 271.5 0 0 1 497.1 1433.1L474.4 1472.5A226.0 226.0 0 0 0 449.0 1459.9Z" fill="#e6b49f" stroke="#fffaf5" stroke-width="1.4" stroke-linejoin="round"/>
<path d="M474.4 1472.5L497.1 1433.1A271.5 271.5 0 0 1 514.4 1443.9L488.8 1481.5A226.0 226.0 0 0 0 474.4 1472.5Z" fill="#e6b49f" stroke="#fffaf5" stroke-width="1.4" stroke-linejoin="round"/>
<path d="M488.8 1481.5L514.4 1443.9A271.5 271.5 0 0 1 540.2 1463.9L510.3 1498.2A226.0 226.0 0 0 0 488.8 1481.5Z" fill="#e6b49f" stroke="#fffaf5" stroke-width="1.4" stroke-linejoin="round"/>
<path d="M510.3 1498.2L540.2 1463.9A271.5 271.5 0 0 1 560.0 1483.0L526.7 1514.1A226.0 226.0 0 0 0 510.3 1498.2Z" fill="#e6b49f" stroke="#fffaf5" stroke-width="1.4" stroke-linejoin="round"/>
<path d="M526.7 1514.1L560.0 1483.0A271.5 271.5 0 0 1 575.6 1501.4L539.7 1529.4A226.0 226.0 0 0 0 526.7 1514.1Z" fill="#e6b49f" stroke="#fffaf5" stroke-width="1.4" stroke-linejoin="round"/>
<path d="M539.7 1529.4L575.6 1501.4A271.5 271.5 0 0 1 587.3 1517.6L549.4 1542.8A226.0 226.0 0 0 0 539.7 1529.4Z" fill="#e6b49f" stroke="#fffaf5" stroke-width="1.4" stroke-linejoin="round"/>
<path d="M549.4 1542.8L587.3 1517.6A271.5 271.5 0 0 1 607.5 1553.5L566.2 1572.7A226.0 226.0 0 0 0 549.4 1542.8Z" fill="#e6b49f" stroke="#fffaf5" stroke-width="1.4" stroke-linejoin="round"/>
<path d="M566.2 1572.7L607.5 1553.5A271.5 271.5 0 0 1 625.1 1603.4L580.9 1614.3A226.0 226.0 0 0 0 566.2 1572.7Z" fill="#e6b49f" stroke="#fffaf5" stroke-width="1.4" stroke-linejoin="round"/>
<path d="M580.9 1614.3L625.1 1603.4A271.5 271.5 0 0 1 629.3 1624.3L584.4 1631.7A226.0 226.0 0 0 0 580.9 1614.3Z" fill="#e6b49f" stroke="#fffaf5" stroke-width="1.4" stroke-linejoin="round"/>
<path d="M584.4 1631.7L629.3 1624.3A271.5 271.5 0 0 1 630.9 1635.6L585.8 1641.0A226.0 226.0 0 0 0 584.4 1631.7Z" fill="#e6b49f" stroke="#fffaf5" stroke-width="1.4" stroke-linejoin="round"/>
<path d="M489.3 1717.3L535.5 1735.0A186.5 186.5 0 0 1 354.9 1854.6L356.6 1805.1A137.0 137.0 0 0 0 489.3 1717.3Z" fill="#add583" stroke="#fffaf5" stroke-width="1.4" stroke-linejoin="round"/>
<path d="M535.5 1735.0L573.3 1749.5A227.0 227.0 0 0 1 406.7 1890.6L398.6 1851.0A186.5 186.5 0 0 0 535.5 1735.0Z" fill="#b5d98f" stroke="#fffaf5" stroke-width="1.4" stroke-linejoin="round"/>
<path d="M573.3 1749.5L614.9 1765.5A271.5 271.5 0 0 1 563.2 1849.9L530.1 1820.1A227.0 227.0 0 0 0 573.3 1749.5Z" fill="#bfdd9f" stroke="#fffaf5" stroke-width="1.4" stroke-linejoin="round"/>
<path d="M530.1 1820.1L563.2 1849.9A271.5 271.5 0 0 1 502.4 1900.2L479.3 1862.2A227.0 227.0 0 0 0 530.1 1820.1Z" fill="#bfdd9f" stroke="#fffaf5" stroke-width="1.4" stroke-linejoin="round"/>
<path d="M479.3 1862.2L502.4 1900.2A271.5 271.5 0 0 1 456.0 1922.7L440.5 1881.0A227.0 227.0 0 0 0 479.3 1862.2Z" fill="#bfdd9f" stroke="#fffaf5" stroke-width="1.4" stroke-linejoin="round"/>
<path d="M440.5 1881.0L456.0 1922.7A271.5 271.5 0 0 1 415.5 1934.2L406.7 1890.6A227.0 227.0 0 0 0 440.5 1881.0Z" fill="#bfdd9f" stroke="#fffaf5" stroke-width="1.4" stroke-linejoin="round"/>
<path d="M311.3 1796.8L294.0 1841.0A185.5 185.5 0 0 1 242.2 1810.3L272.7 1773.9A138.0 138.0 0 0 0 311.3 1796.8Z" fill="#86d0d4" stroke="#fffaf5" stroke-width="1.4" stroke-linejoin="round"/>
<path d="M294.9 1841.4L280.4 1879.2A226.0 226.0 0 0 1 230.2 1852.2L253.7 1819.2A185.5 185.5 0 0 0 294.9 1841.4Z" fill="#90d3d8" stroke="#fffaf5" stroke-width="1.4" stroke-linejoin="round"/>
<path d="M280.1 1880.1L264.1 1921.7A271.5 271.5 0 0 1 239.4 1910.8L259.4 1871.0A227.0 227.0 0 0 0 280.1 1880.1Z" fill="#a5dadf" stroke="#fffaf5" stroke-width="1.4" stroke-linejoin="round"/>
<path d="M259.4 1871.0L239.4 1910.8A271.5 271.5 0 0 1 225.6 1903.3L247.9 1864.8A227.0 227.0 0 0 0 259.4 1871.0Z" fill="#a5dadf" stroke="#fffaf5" stroke-width="1.4" stroke-linejoin="round"/>
<path d="M247.9 1864.8L225.6 1903.3A271.5 271.5 0 0 1 214.7 1896.7L238.8 1859.2A227.0 227.0 0 0 0 247.9 1864.8Z" fill="#a5dadf" stroke="#fffaf5" stroke-width="1.4" stroke-linejoin="round"/>
<path d="M238.8 1859.2L214.7 1896.7A271.5 271.5 0 0 1 204.9 1890.1L230.5 1853.7A227.0 227.0 0 0 0 238.8 1859.2Z" fill="#a5dadf" stroke="#fffaf5" stroke-width="1.4" stroke-linejoin="round"/>
<path d="M245.6 1739.5L203.4 1765.4A185.5 185.5 0 0 1 185.3 1726.4L232.3 1710.9A136.0 136.0 0 0 0 245.6 1739.5Z" fill="#aa82c0" stroke="#fffaf5" stroke-width="1.4" stroke-linejoin="round"/>
<path d="M203.1 1764.8L168.5 1785.9A226.0 226.0 0 0 1 153.8 1757.6L191.0 1741.6A185.5 185.5 0 0 0 203.1 1764.8Z" fill="#b38fc7" stroke="#fffaf5" stroke-width="1.4" stroke-linejoin="round"/>
<path d="M167.9 1786.8L129.9 1810.1A271.5 271.5 0 0 1 122.4 1796.9L161.5 1775.8A227.0 227.0 0 0 0 167.9 1786.8Z" fill="#c4a3d2" stroke="#fffaf5" stroke-width="1.4" stroke-linejoin="round"/>
<g font-weight="bold" text-anchor="middle" fill="#000" stroke="#000" stroke-width="1.0" stroke-linejoin="round">
<text transform="translate(373.7 1568.0) rotate(7.0)" y="11.3" font-size="31.5">A</text>
<text transform="translate(404.5 1762.4) rotate(155.4)" y="11.3" font-size="31.5">G</text>
<text transform="translate(297.8 1750.5) rotate(217.7)" y="11.3" font-size="31.5">C</text>
<text transform="translate(263.1 1698.8) rotate(252.7)" y="11.3" font-size="31.5">U</text>
<text transform="translate(317.4 1513.6) rotate(-15.9)" y="10.6" font-size="29.5">A</text>
<text transform="translate(514.9 1620.4) rotate(72.7)" y="10.6" font-size="29.5">G</text>
<text transform="translate(193.7 1549.0) rotate(-54.6)" y="10.2" font-size="28.5">A</text>
<text transform="translate(336.9 1463.9) rotate(-6.8)" y="10.2" font-size="28.5">U</text>
<text transform="translate(435.0 1476.1) rotate(20.9)" y="10.2" font-size="28.5">G</text>
<text transform="translate(505.6 1521.4) rotate(44.5)" y="10.2" font-size="28.5">C</text>
<text transform="translate(554.9 1598.2) rotate(70.1)" y="10.2" font-size="28.5">A</text>
<text transform="translate(115.7 1628.0) rotate(-80.7)" y="9.5" font-size="26.5">A</text>
<text transform="translate(139.9 1554.4) rotate(-62.8)" y="9.5" font-size="26.5">C</text>
<text transform="translate(182.7 1494.8) rotate(-45.9)" y="9.5" font-size="26.5">G</text>
<text transform="translate(239.7 1451.0) rotate(-29.2)" y="9.5" font-size="26.5">U</text>
<text transform="translate(289.6 1430.4) rotate(-16.8)" y="8.9" font-size="25.0">G</text>
<text transform="translate(324.9 1422.4) rotate(-8.4)" y="8.9" font-size="25.0">A</text>
<text transform="translate(356.0 1420.2) rotate(-1.2)" y="8.6" font-size="24.0">U</text>
<text transform="translate(380.4 1420.8) rotate(4.4)" y="8.6" font-size="24.0">C</text>
<text transform="translate(410.5 1424.7) rotate(11.4)" y="8.9" font-size="25.0">A</text>
<text transform="translate(443.5 1433.7) rotate(19.3)" y="8.9" font-size="25.0">U</text>
<text transform="translate(471.9 1445.7) rotate(26.4)" y="8.9" font-size="25.0">G</text>
<text transform="translate(492.9 1458.9) rotate(32.2)" y="7.7" font-size="21.4">C</text>
<text transform="translate(513.2 1472.2) rotate(37.8)" y="8.4" font-size="23.5">G</text>
<text transform="translate(533.9 1490.2) rotate(44.1)" y="8.4" font-size="23.5">U</text>
<text transform="translate(549.6 1507.7) rotate(49.6)" y="7.8" font-size="21.9">A</text>
<text transform="translate(561.2 1524.1) rotate(54.2)" y="6.9" font-size="19.2">C</text>
<text transform="translate(578.0 1546.4) rotate(60.7)" y="8.9" font-size="25.0">C</text>
<text transform="translate(595.7 1585.7) rotate(70.6)" y="8.9" font-size="25.0">U</text>
<text transform="translate(604.3 1618.6) rotate(78.4)" y="8.4" font-size="23.5">G</text>
<text transform="translate(605.1 1633.5) rotate(81.9)" y="6.7" font-size="18.7">A</text>
<text transform="translate(450.2 1803.4) rotate(146.7)" y="10.6" font-size="29.5">A</text>
<text transform="translate(492.9 1827.7) rotate(140.5)" y="10.2" font-size="28.5">A</text>
<text transform="translate(574.4 1798.7) rotate(121.5)" y="9.3" font-size="26.0">U</text>
<text transform="translate(520.8 1860.5) rotate(140.3)" y="9.3" font-size="26.0">C</text>
<text transform="translate(470.3 1893.0) rotate(154.1)" y="9.3" font-size="26.0">A</text>
<text transform="translate(430.0 1908.4) rotate(164.1)" y="9.3" font-size="26.0">G</text>
<text transform="translate(279.5 1807.7) rotate(210.4)" y="10.6" font-size="29.5">A</text>
<text transform="translate(265.1 1850.0) rotate(207.9)" y="10.2" font-size="28.5">A</text>
<text transform="translate(260.5 1896.5) rotate(203.9)" y="9.1" font-size="25.5">U</text>
<text transform="translate(244.4 1885.1) rotate(208.4)" y="5.9" font-size="16.5">G</text>
<text transform="translate(233.4 1878.3) rotate(211.4)" y="5.5" font-size="15.4">C</text>
<text transform="translate(224.2 1871.9) rotate(213.9)" y="5.1" font-size="14.3">A</text>
<text transform="translate(215.4 1735.4) rotate(245.3)" y="10.6" font-size="29.5">A</text>
<text transform="translate(178.7 1762.9) rotate(242.6)" y="10.2" font-size="28.5">A</text>
<text transform="translate(146.3 1791.9) rotate(240.1)" y="7.7" font-size="21.4">U</text>
</g>
<path d="M75.0 1659.2A286.5 286.5 0 0 1 597.5 1505.9" fill="none" stroke="#000" stroke-width="3.9"/>
<path d="M602.2 1513.0A286.5 286.5 0 0 1 646.0 1635.3" fill="none" stroke="#000" stroke-width="3.9"/>
<path d="M629.2 1769.9A286.5 286.5 0 0 1 417.5 1949.1" fill="none" stroke="#000" stroke-width="3.9"/>
<path d="M258.3 1935.5A286.5 286.5 0 0 1 195.4 1901.7" fill="none" stroke="#000" stroke-width="3.9"/>
<path d="M117.6 1818.7A286.5 286.5 0 0 1 108.7 1803.1" fill="none" stroke="#000" stroke-width="3.9"/>
<text transform="translate(280.7 1379.3) rotate(-15.6)" font-size="28" font-weight="bold" text-anchor="middle" stroke-width="0.45"><tspan fill="#a7a9ac" stroke="#a7a9ac" stroke-width="0.9">N</tspan><tspan fill="#a7a9ac" stroke="#a7a9ac" stroke-width="0.9">N</tspan><tspan fill="#be1e2d" stroke="#be1e2d">AAA</tspan></text>
<text transform="translate(644.9 1570.0) rotate(70.9)" font-size="28" font-weight="bold" text-anchor="middle" stroke-width="0.45"><tspan fill="#a7a9ac" stroke="#a7a9ac" stroke-width="0.9">N</tspan><tspan fill="#be1e2d" stroke="#be1e2d">AGAA</tspan></text>
<text transform="translate(544.9 1905.6) rotate(142.3)" font-size="28" font-weight="bold" text-anchor="middle" stroke-width="0.45"><tspan fill="#a7a9ac" stroke="#a7a9ac" stroke-width="0.9">N</tspan><tspan fill="#0b9444" stroke="#0b9444">AAGA</tspan></text>
<text transform="translate(218.3 1931.8) rotate(208.5)" font-size="28" font-weight="bold" text-anchor="middle" stroke-width="0.45"><tspan fill="#a7a9ac" stroke="#a7a9ac" stroke-width="0.9">N</tspan><tspan fill="#1b75bc" stroke="#1b75bc">AACA</tspan></text>
<text transform="translate(98.1 1820.2) rotate(330.0)" y="8.7" font-size="24.2" font-weight="bold" text-anchor="end" stroke-width="0.45"><tspan fill="#7f3f98" stroke="#7f3f98">UAAUA</tspan></text>
<ellipse cx="252.9" cy="1661.9" rx="12.6" ry="9" fill="#fff"/>
<text x="252.4" y="1663.6" font-size="14" text-anchor="middle" fill="#000">-2</text>
<ellipse cx="199.9" cy="1661.9" rx="12.6" ry="9" fill="#fff"/>
<text x="199.4" y="1663.6" font-size="14" text-anchor="middle" fill="#000">-3</text>
<ellipse cx="157.1" cy="1661.9" rx="12.6" ry="9" fill="#fff"/>
<text x="156.6" y="1663.6" font-size="14" text-anchor="middle" fill="#000">-4</text>
<ellipse cx="111.1" cy="1661.9" rx="12.6" ry="9" fill="#fff"/>
<text x="110.6" y="1663.6" font-size="14" text-anchor="middle" fill="#000">-5</text>
<path d="M286.1 1668.2H44.0" stroke="#000" stroke-width="4" fill="none"/>
<path d="M30.0 1668.2l23 -10.5l-6 10.5l6 10.5z" fill="#000"/>
<circle cx="361.4" cy="1668.2" r="75.3" fill="#fff" stroke="#000" stroke-width="5.8"/>
<text x="360.9" y="1677.8" font-size="31.5" font-weight="bold" text-anchor="middle" fill="#000" stroke="#000" stroke-width="1.0">A</text>
<text x="344.9" y="1653.4" font-size="13" text-anchor="middle" fill="#000">-1</text>
</g>
<g id="sun-g">
<circle cx="877.9" cy="2127.4" r="244" fill="#cccfd3"/>
<path d="M802.6 2127.4L740.9 2127.4A137.0 137.0 0 1 1 1013.7 2145.3L952.6 2137.2A75.3 75.3 0 1 0 802.6 2127.4Z" fill="#d87678" stroke="#fffaf5" stroke-width="1.4" stroke-linejoin="round"/>
<path d="M952.6 2137.2L1013.7 2145.3A137.0 137.0 0 0 1 907.8 2261.1L894.3 2200.9A75.3 75.3 0 0 0 952.6 2137.2Z" fill="#a4d178" stroke="#fffaf5" stroke-width="1.4" stroke-linejoin="round"/>
<path d="M894.3 2200.9L907.8 2261.1A137.0 137.0 0 0 1 789.5 2232.0L829.3 2184.9A75.3 75.3 0 0 0 894.3 2200.9Z" fill="#7accd0" stroke="#fffaf5" stroke-width="1.4" stroke-linejoin="round"/>
<path d="M829.3 2184.9L789.5 2232.0A137.0 137.0 0 0 1 740.9 2127.4L802.6 2127.4A75.3 75.3 0 0 0 829.3 2184.9Z" fill="#9f76b8" stroke="#fffaf5" stroke-width="1.4" stroke-linejoin="round"/>
<path d="M740.9 2127.4L692.2 2127.4A185.7 185.7 0 0 1 910.1 1944.5L901.7 1992.5A137.0 137.0 0 0 0 740.9 2127.4Z" fill="#dc8384" stroke="#fffaf5" stroke-width="1.4" stroke-linejoin="round"/>
<path d="M901.7 1992.5L910.1 1944.5A185.7 185.7 0 0 1 1013.7 2000.8L978.1 2034.0A137.0 137.0 0 0 0 901.7 1992.5Z" fill="#dfa089" stroke="#fffaf5" stroke-width="1.4" stroke-linejoin="round"/>
<path d="M978.1 2034.0L1013.7 2000.8A185.7 185.7 0 0 1 1059.9 2090.7L1012.2 2100.3A137.0 137.0 0 0 0 978.1 2034.0Z" fill="#dea680" stroke="#fffaf5" stroke-width="1.4" stroke-linejoin="round"/>
<path d="M1012.2 2100.3L1059.9 2090.7A185.7 185.7 0 0 1 1062.2 2150.0L1013.9 2144.1A137.0 137.0 0 0 0 1012.2 2100.3Z" fill="#dea680" stroke="#fffaf5" stroke-width="1.4" stroke-linejoin="round"/>
<path d="M692.2 2127.4L651.6 2127.4A226.3 226.3 0 0 1 693.7 1996.0L726.7 2019.6A185.7 185.7 0 0 0 692.2 2127.4Z" fill="#de8e8d" stroke="#fffaf5" stroke-width="1.4" stroke-linejoin="round"/>
<path d="M726.7 2019.6L693.7 1996.0A226.3 226.3 0 0 1 770.3 1928.3L789.6 1964.0A185.7 185.7 0 0 0 726.7 2019.6Z" fill="#e29c98" stroke="#fffaf5" stroke-width="1.4" stroke-linejoin="round"/>
<path d="M789.6 1964.0L770.3 1928.3A226.3 226.3 0 0 1 860.1 1901.8L863.3 1942.3A185.7 185.7 0 0 0 789.6 1964.0Z" fill="#e29c98" stroke="#fffaf5" stroke-width="1.4" stroke-linejoin="round"/>
<path d="M863.3 1942.3L860.1 1901.8A226.3 226.3 0 0 1 919.1 1904.9L911.7 1944.8A185.7 185.7 0 0 0 863.3 1942.3Z" fill="#e2a991" stroke="#fffaf5" stroke-width="1.4" stroke-linejoin="round"/>
<path d="M911.7 1944.8L919.1 1904.9A226.3 226.3 0 0 1 990.4 1931.0L970.2 1966.3A185.7 185.7 0 0 0 911.7 1944.8Z" fill="#e2a991" stroke="#fffaf5" stroke-width="1.4" stroke-linejoin="round"/>
<path d="M1013.7 2000.8L1043.4 1973.1A226.3 226.3 0 0 1 1092.1 2054.5L1053.7 2067.6A185.7 185.7 0 0 0 1013.7 2000.8Z" fill="#e0ad8a" stroke="#fffaf5" stroke-width="1.4" stroke-linejoin="round"/>
<path d="M1059.9 2090.7L1099.7 2082.7A226.3 226.3 0 0 1 1103.0 2151.1L1062.6 2146.8A185.7 185.7 0 0 0 1059.9 2090.7Z" fill="#e0ad8a" stroke="#fffaf5" stroke-width="1.4" stroke-linejoin="round"/>
<path d="M650.1 2127.4L604.8 2127.4A273.1 273.1 0 0 1 613.2 2060.4L657.1 2071.5A227.8 227.8 0 0 0 650.1 2127.4Z" fill="#e6aca5" stroke="#fffaf5" stroke-width="1.4" stroke-linejoin="round"/>
<path d="M657.1 2071.5L613.2 2060.4A273.1 273.1 0 0 1 626.0 2022.0L667.7 2039.5A227.8 227.8 0 0 0 657.1 2071.5Z" fill="#e6aca5" stroke="#fffaf5" stroke-width="1.4" stroke-linejoin="round"/>
<path d="M667.7 2039.5L626.0 2022.0A273.1 273.1 0 0 1 640.9 1991.7L680.2 2014.2A227.8 227.8 0 0 0 667.7 2039.5Z" fill="#e6aca5" stroke="#fffaf5" stroke-width="1.4" stroke-linejoin="round"/>
<path d="M680.2 2014.2L640.9 1991.7A273.1 273.1 0 0 1 655.6 1968.8L692.4 1995.1A227.8 227.8 0 0 0 680.2 2014.2Z" fill="#e6aca5" stroke="#fffaf5" stroke-width="1.4" stroke-linejoin="round"/>
<path d="M692.4 1995.1L654.0 1967.7A275.1 275.1 0 0 1 676.7 1939.8L711.3 1972.0A227.8 227.8 0 0 0 692.4 1995.1Z" fill="#e9b5ac" stroke="#fffaf5" stroke-width="1.4" stroke-linejoin="round"/>
<path d="M711.3 1972.0L676.7 1939.8A275.1 275.1 0 0 1 699.6 1917.9L730.3 1953.9A227.8 227.8 0 0 0 711.3 1972.0Z" fill="#e9b5ac" stroke="#fffaf5" stroke-width="1.4" stroke-linejoin="round"/>
<path d="M730.3 1953.9L699.6 1917.9A275.1 275.1 0 0 1 724.1 1899.4L750.5 1938.5A227.8 227.8 0 0 0 730.3 1953.9Z" fill="#e9b5ac" stroke="#fffaf5" stroke-width="1.4" stroke-linejoin="round"/>
<path d="M750.5 1938.5L724.1 1899.4A275.1 275.1 0 0 1 746.6 1885.7L769.2 1927.2A227.8 227.8 0 0 0 750.5 1938.5Z" fill="#e9b5ac" stroke="#fffaf5" stroke-width="1.4" stroke-linejoin="round"/>
<path d="M769.2 1927.2L746.2 1884.8A276.0 276.0 0 0 1 780.8 1869.0L797.8 1914.2A227.8 227.8 0 0 0 769.2 1927.2Z" fill="#e9b5ac" stroke="#fffaf5" stroke-width="1.4" stroke-linejoin="round"/>
<path d="M797.8 1914.2L780.8 1869.0A276.0 276.0 0 0 1 810.2 1859.8L822.0 1906.6A227.8 227.8 0 0 0 797.8 1914.2Z" fill="#e9b5ac" stroke="#fffaf5" stroke-width="1.4" stroke-linejoin="round"/>
<path d="M822.0 1906.6L810.2 1859.8A276.0 276.0 0 0 1 834.7 1854.8L842.3 1902.4A227.8 227.8 0 0 0 822.0 1906.6Z" fill="#e9b5ac" stroke="#fffaf5" stroke-width="1.4" stroke-linejoin="round"/>
<path d="M842.3 1902.4L834.7 1854.8A276.0 276.0 0 0 1 856.2 1852.2L860.0 1900.3A227.8 227.8 0 0 0 842.3 1902.4Z" fill="#e9b5ac" stroke="#fffaf5" stroke-width="1.4" stroke-linejoin="round"/>
<path d="M860.0 1900.3L856.2 1852.1A276.2 276.2 0 0 1 885.1 1851.3L883.9 1899.7A227.8 227.8 0 0 0 860.0 1900.3Z" fill="#e6b49f" stroke="#fffaf5" stroke-width="1.4" stroke-linejoin="round"/>
<path d="M883.9 1899.7L885.1 1851.3A276.2 276.2 0 0 1 907.7 1852.8L902.5 1900.9A227.8 227.8 0 0 0 883.9 1899.7Z" fill="#e6b49f" stroke="#fffaf5" stroke-width="1.4" stroke-linejoin="round"/>
<path d="M902.5 1900.9L907.7 1852.8A276.2 276.2 0 0 1 921.1 1854.6L913.5 1902.4A227.8 227.8 0 0 0 902.5 1900.9Z" fill="#e6b49f" stroke="#fffaf5" stroke-width="1.4" stroke-linejoin="round"/>
<path d="M918.6 1903.3L927.2 1855.9A275.9 275.9 0 0 1 962.3 1864.7L947.5 1910.5A227.8 227.8 0 0 0 918.6 1903.3Z" fill="#e6b49f" stroke="#fffaf5" stroke-width="1.4" stroke-linejoin="round"/>
<path d="M947.5 1910.5L962.3 1864.7A275.9 275.9 0 0 1 991.5 1875.9L971.6 1919.8A227.8 227.8 0 0 0 947.5 1910.5Z" fill="#e6b49f" stroke="#fffaf5" stroke-width="1.4" stroke-linejoin="round"/>
<path d="M971.6 1919.8L991.5 1875.9A275.9 275.9 0 0 1 1007.9 1884.0L985.2 1926.5A227.8 227.8 0 0 0 971.6 1919.8Z" fill="#e6b49f" stroke="#fffaf5" stroke-width="1.4" stroke-linejoin="round"/>
<path d="M1044.5 1972.0L1078.3 1940.5A274.0 274.0 0 0 1 1103.2 1971.4L1065.2 1997.7A227.8 227.8 0 0 0 1044.5 1972.0Z" fill="#e4b795" stroke="#fffaf5" stroke-width="1.4" stroke-linejoin="round"/>
<path d="M1065.2 1997.7L1103.2 1971.4A274.0 274.0 0 0 1 1118.9 1997.1L1078.3 2019.1A227.8 227.8 0 0 0 1065.2 1997.7Z" fill="#e4b795" stroke="#fffaf5" stroke-width="1.4" stroke-linejoin="round"/>
<path d="M1078.3 2019.1L1118.9 1997.1A274.0 274.0 0 0 1 1130.1 2020.3L1087.6 2038.4A227.8 227.8 0 0 0 1078.3 2019.1Z" fill="#e4b795" stroke="#fffaf5" stroke-width="1.4" stroke-linejoin="round"/>
<path d="M1087.6 2038.4L1130.1 2020.3A274.0 274.0 0 0 1 1137.4 2039.5L1093.7 2054.4A227.8 227.8 0 0 0 1087.6 2038.4Z" fill="#e4b795" stroke="#fffaf5" stroke-width="1.4" stroke-linejoin="round"/>
<path d="M1101.3 2082.8L1144.6 2074.1A272.0 272.0 0 0 1 1148.1 2096.3L1104.2 2101.3A227.8 227.8 0 0 0 1101.3 2082.8Z" fill="#e4b795" stroke="#fffaf5" stroke-width="1.4" stroke-linejoin="round"/>
<path d="M1104.2 2101.3L1148.1 2096.3A272.0 272.0 0 0 1 1149.6 2114.4L1105.4 2116.5A227.8 227.8 0 0 0 1104.2 2101.3Z" fill="#e4b795" stroke="#fffaf5" stroke-width="1.4" stroke-linejoin="round"/>
<path d="M1105.4 2116.5L1149.6 2114.4A272.0 272.0 0 0 1 1149.9 2129.7L1105.7 2129.3A227.8 227.8 0 0 0 1105.4 2116.5Z" fill="#e4b795" stroke="#fffaf5" stroke-width="1.4" stroke-linejoin="round"/>
<path d="M1105.7 2129.3L1149.9 2129.7A272.0 272.0 0 0 1 1149.0 2148.7L1105.0 2145.3A227.8 227.8 0 0 0 1105.7 2129.3Z" fill="#e4b795" stroke="#fffaf5" stroke-width="1.4" stroke-linejoin="round"/>
<path d="M1013.7 2145.3L1062.0 2151.6A185.7 185.7 0 0 1 969.1 2289.2L945.2 2246.8A137.0 137.0 0 0 0 1013.7 2145.3Z" fill="#add583" stroke="#fffaf5" stroke-width="1.4" stroke-linejoin="round"/>
<path d="M945.2 2246.8L968.3 2287.9A184.2 184.2 0 0 1 940.3 2300.7L924.3 2256.3A137.0 137.0 0 0 0 945.2 2246.8Z" fill="#93cb7c" stroke="#fffaf5" stroke-width="1.4" stroke-linejoin="round"/>
<path d="M1062.1 2151.0L1102.4 2156.2A226.3 226.3 0 0 1 1081.3 2226.6L1044.8 2208.8A185.7 185.7 0 0 0 1062.1 2151.0Z" fill="#b5d98f" stroke="#fffaf5" stroke-width="1.4" stroke-linejoin="round"/>
<path d="M1044.8 2208.8L1082.2 2227.0A227.3 227.3 0 0 1 1052.0 2273.5L1020.2 2246.8A185.7 185.7 0 0 0 1044.8 2208.8Z" fill="#b0d68c" stroke="#fffaf5" stroke-width="1.4" stroke-linejoin="round"/>
<path d="M1020.2 2246.8L1051.3 2272.9A226.3 226.3 0 0 1 1018.5 2304.7L993.2 2272.9A185.7 185.7 0 0 0 1020.2 2246.8Z" fill="#b5d98f" stroke="#fffaf5" stroke-width="1.4" stroke-linejoin="round"/>
<path d="M993.2 2272.9L1018.5 2304.7A226.3 226.3 0 0 1 989.0 2324.6L969.1 2289.2A185.7 185.7 0 0 0 993.2 2272.9Z" fill="#b0d68c" stroke="#fffaf5" stroke-width="1.4" stroke-linejoin="round"/>
<path d="M968.3 2287.9L989.0 2324.6A226.3 226.3 0 0 1 964.9 2336.3L948.7 2297.5A184.2 184.2 0 0 0 968.3 2287.9Z" fill="#a3d28c" stroke="#fffaf5" stroke-width="1.4" stroke-linejoin="round"/>
<path d="M1104.0 2155.2L1146.3 2160.4A270.4 270.4 0 0 1 1138.0 2201.5L1097.0 2189.8A227.8 227.8 0 0 0 1104.0 2155.2Z" fill="#bfdd9f" stroke="#fffaf5" stroke-width="1.4" stroke-linejoin="round"/>
<path d="M1097.0 2189.8L1138.0 2201.5A270.4 270.4 0 0 1 1132.5 2218.6L1092.4 2204.2A227.8 227.8 0 0 0 1097.0 2189.8Z" fill="#bfdd9f" stroke="#fffaf5" stroke-width="1.4" stroke-linejoin="round"/>
<path d="M1092.4 2204.2L1132.5 2218.6A270.4 270.4 0 0 1 1127.2 2232.2L1087.9 2215.7A227.8 227.8 0 0 0 1092.4 2204.2Z" fill="#bfdd9f" stroke="#fffaf5" stroke-width="1.4" stroke-linejoin="round"/>
<path d="M1087.9 2215.7L1127.2 2232.2A270.4 270.4 0 0 1 1121.0 2245.9L1082.6 2227.3A227.8 227.8 0 0 0 1087.9 2215.7Z" fill="#bfdd9f" stroke="#fffaf5" stroke-width="1.4" stroke-linejoin="round"/>
<path d="M1082.6 2227.3L1120.0 2245.5A269.3 269.3 0 0 1 1105.5 2271.3L1070.5 2249.1A227.8 227.8 0 0 0 1082.6 2227.3Z" fill="#c5e0a7" stroke="#fffaf5" stroke-width="1.4" stroke-linejoin="round"/>
<path d="M1070.5 2249.1L1105.5 2271.3A269.3 269.3 0 0 1 1089.5 2293.9L1056.9 2268.3A227.8 227.8 0 0 0 1070.5 2249.1Z" fill="#c5e0a7" stroke="#fffaf5" stroke-width="1.4" stroke-linejoin="round"/>
<path d="M1050.6 2275.9L1081.5 2302.5A268.6 268.6 0 0 1 1061.8 2323.2L1033.8 2293.5A227.8 227.8 0 0 0 1050.6 2275.9Z" fill="#bfdd9f" stroke="#fffaf5" stroke-width="1.4" stroke-linejoin="round"/>
<path d="M1017.2 2307.6L1041.8 2339.5A268.0 268.0 0 0 1 1031.6 2346.9L1008.6 2314.0A227.8 227.8 0 0 0 1017.2 2307.6Z" fill="#c5e0a7" stroke="#fffaf5" stroke-width="1.4" stroke-linejoin="round"/>
<path d="M1008.6 2314.0L1031.6 2346.9A268.0 268.0 0 0 1 1021.1 2353.9L999.6 2320.0A227.8 227.8 0 0 0 1008.6 2314.0Z" fill="#c5e0a7" stroke="#fffaf5" stroke-width="1.4" stroke-linejoin="round"/>
<path d="M988.7 2326.4L1008.1 2361.3A267.7 267.7 0 0 1 995.4 2367.9L977.9 2332.1A227.8 227.8 0 0 0 988.7 2326.4Z" fill="#b3d9a0" stroke="#fffaf5" stroke-width="1.4" stroke-linejoin="round"/>
<path d="M977.9 2332.1L995.4 2367.9A267.7 267.7 0 0 1 982.5 2373.8L966.9 2337.1A227.8 227.8 0 0 0 977.9 2332.1Z" fill="#b3d9a0" stroke="#fffaf5" stroke-width="1.4" stroke-linejoin="round"/>
<path d="M906.6 2262.4L916.5 2309.0A185.7 185.7 0 0 1 793.6 2292.9L815.2 2250.4A138.0 138.0 0 0 0 906.6 2262.4Z" fill="#86d0d4" stroke="#fffaf5" stroke-width="1.4" stroke-linejoin="round"/>
<path d="M916.5 2309.0L925.0 2348.8A226.3 226.3 0 0 1 854.2 2352.5L858.5 2312.1A185.7 185.7 0 0 0 916.5 2309.0Z" fill="#90d3d8" stroke="#fffaf5" stroke-width="1.4" stroke-linejoin="round"/>
<path d="M858.5 2312.1L854.2 2352.5A226.3 226.3 0 0 1 821.2 2346.5L831.4 2307.2A185.7 185.7 0 0 0 858.5 2312.1Z" fill="#8cc4da" stroke="#fffaf5" stroke-width="1.4" stroke-linejoin="round"/>
<path d="M831.4 2307.2L821.2 2346.5A226.3 226.3 0 0 1 792.4 2336.9L807.7 2299.3A185.7 185.7 0 0 0 831.4 2307.2Z" fill="#88bddb" stroke="#fffaf5" stroke-width="1.4" stroke-linejoin="round"/>
<path d="M925.3 2350.2L933.5 2388.8A267.2 267.2 0 0 1 902.1 2393.5L898.5 2354.3A227.8 227.8 0 0 0 925.3 2350.2Z" fill="#a5dadf" stroke="#fffaf5" stroke-width="1.4" stroke-linejoin="round"/>
<path d="M898.5 2354.3L902.1 2393.5A267.2 267.2 0 0 1 882.1 2394.6L881.5 2355.2A227.8 227.8 0 0 0 898.5 2354.3Z" fill="#a5dadf" stroke="#fffaf5" stroke-width="1.4" stroke-linejoin="round"/>
<path d="M881.5 2355.2L882.1 2394.6A267.2 267.2 0 0 1 863.4 2394.2L865.6 2354.9A227.8 227.8 0 0 0 881.5 2355.2Z" fill="#a5dadf" stroke="#fffaf5" stroke-width="1.4" stroke-linejoin="round"/>
<path d="M865.6 2354.9L863.4 2394.2A267.2 267.2 0 0 1 850.4 2393.2L854.5 2354.0A227.8 227.8 0 0 0 865.6 2354.9Z" fill="#a5dadf" stroke="#fffaf5" stroke-width="1.4" stroke-linejoin="round"/>
<path d="M854.5 2354.0L850.4 2393.2A267.2 267.2 0 0 1 836.1 2391.3L842.3 2352.4A227.8 227.8 0 0 0 854.5 2354.0Z" fill="#a0cce3" stroke="#fffaf5" stroke-width="1.4" stroke-linejoin="round"/>
<path d="M820.9 2347.9L811.0 2386.3A267.4 267.4 0 0 1 798.4 2382.7L810.2 2344.9A227.8 227.8 0 0 0 820.9 2347.9Z" fill="#9ec8e4" stroke="#fffaf5" stroke-width="1.4" stroke-linejoin="round"/>
<path d="M789.1 2231.7L757.5 2268.8A185.7 185.7 0 0 1 695.7 2163.2L743.5 2153.8A137.0 137.0 0 0 0 789.1 2231.7Z" fill="#aa82c0" stroke="#fffaf5" stroke-width="1.4" stroke-linejoin="round"/>
<path d="M757.5 2268.8L731.2 2299.7A226.3 226.3 0 0 1 669.9 2216.5L707.2 2200.6A185.7 185.7 0 0 0 757.5 2268.8Z" fill="#b38fc7" stroke="#fffaf5" stroke-width="1.4" stroke-linejoin="round"/>
<path d="M730.3 2300.9L703.5 2332.3A269.0 269.0 0 0 1 677.0 2306.4L707.8 2278.9A227.8 227.8 0 0 0 730.3 2300.9Z" fill="#c4a3d2" stroke="#fffaf5" stroke-width="1.4" stroke-linejoin="round"/>
<path d="M707.8 2278.9L677.0 2306.4A269.0 269.0 0 0 1 654.3 2277.1L688.6 2254.1A227.8 227.8 0 0 0 707.8 2278.9Z" fill="#c4a3d2" stroke="#fffaf5" stroke-width="1.4" stroke-linejoin="round"/>
<path d="M688.6 2254.1L654.3 2277.1A269.0 269.0 0 0 1 640.4 2253.7L676.8 2234.3A227.8 227.8 0 0 0 688.6 2254.1Z" fill="#c4a3d2" stroke="#fffaf5" stroke-width="1.4" stroke-linejoin="round"/>
<path d="M676.8 2234.3L640.4 2253.7A269.0 269.0 0 0 1 630.6 2233.4L668.5 2217.1A227.8 227.8 0 0 0 676.8 2234.3Z" fill="#c4a3d2" stroke="#fffaf5" stroke-width="1.4" stroke-linejoin="round"/>
<g font-weight="bold" text-anchor="middle" fill="#000" stroke="#000" stroke-width="1.0" stroke-linejoin="round">
<text transform="translate(884.2 2027.2) rotate(3.6)" y="11.3" font-size="31.5">A</text>
<text transform="translate(952.1 2196.6) rotate(133.0)" y="11.3" font-size="31.5">G</text>
<text transform="translate(854.3 2228.0) rotate(193.2)" y="11.3" font-size="31.5">C</text>
<text transform="translate(784.3 2173.7) rotate(243.7)" y="11.3" font-size="31.5">U</text>
<text transform="translate(775.3 2002.9) rotate(-39.5)" y="10.6" font-size="29.5">A</text>
<text transform="translate(954.9 1985.6) rotate(28.5)" y="10.6" font-size="29.5">G</text>
<text transform="translate(1021.4 2053.6) rotate(62.8)" y="10.6" font-size="29.5">U</text>
<text transform="translate(1039.1 2121.2) rotate(87.8)" y="10.6" font-size="29.5">C</text>
<text transform="translate(681.7 2064.6) rotate(-72.2)" y="10.2" font-size="28.5">A</text>
<text transform="translate(738.7 1975.5) rotate(-42.5)" y="10.2" font-size="28.5">U</text>
<text transform="translate(815.3 1931.2) rotate(-17.7)" y="10.2" font-size="28.5">C</text>
<text transform="translate(888.7 1921.7) rotate(3.0)" y="10.2" font-size="28.5">G</text>
<text transform="translate(948.9 1934.0) rotate(20.2)" y="10.2" font-size="28.5">A</text>
<text transform="translate(1054.7 2021.6) rotate(59.1)" y="10.2" font-size="28.5">A</text>
<text transform="translate(1083.7 2117.7) rotate(87.3)" y="10.2" font-size="28.5">A</text>
<text transform="translate(628.7 2096.4) rotate(-82.9)" y="9.8" font-size="27.5">C</text>
<text transform="translate(639.7 2047.9) rotate(-71.5)" y="9.8" font-size="27.5">U</text>
<text transform="translate(653.0 2016.5) rotate(-63.8)" y="9.5" font-size="26.5">A</text>
<text transform="translate(667.3 1992.5) rotate(-57.4)" y="8.8" font-size="24.5">G</text>
<text transform="translate(683.7 1968.7) rotate(-50.8)" y="9.5" font-size="26.5">A</text>
<text transform="translate(704.9 1946.3) rotate(-43.7)" y="9.1" font-size="25.5">C</text>
<text transform="translate(726.5 1927.9) rotate(-37.2)" y="9.1" font-size="25.5">U</text>
<text transform="translate(748.0 1913.3) rotate(-31.2)" y="9.1" font-size="25.5">G</text>
<text transform="translate(773.6 1899.0) rotate(-24.5)" y="9.8" font-size="27.5">A</text>
<text transform="translate(802.8 1887.7) rotate(-17.4)" y="9.8" font-size="27.5">U</text>
<text transform="translate(827.6 1882.4) rotate(-11.6)" y="8.8" font-size="24.5">G</text>
<text transform="translate(848.6 1880.2) rotate(-6.7)" y="7.7" font-size="21.4">C</text>
<text transform="translate(871.3 1876.3) rotate(-1.5)" y="9.8" font-size="27.5">C</text>
<text transform="translate(894.6 1879.0) rotate(3.8)" y="7.7" font-size="21.4">U</text>
<text transform="translate(910.6 1882.0) rotate(7.6)" y="6.3" font-size="17.6">A</text>
<text transform="translate(939.0 1883.4) rotate(14.0)" y="10.2" font-size="28.6">U</text>
<text transform="translate(967.6 1894.4) rotate(21.0)" y="8.4" font-size="23.5">C</text>
<text transform="translate(987.8 1904.0) rotate(26.2)" y="7.7" font-size="21.4">G</text>
<text transform="translate(1073.2 1970.1) rotate(51.2)" y="9.5" font-size="26.5">U</text>
<text transform="translate(1090.4 1996.9) rotate(58.5)" y="8.0" font-size="22.4">C</text>
<text transform="translate(1102.6 2019.3) rotate(64.3)" y="8.0" font-size="22.4">G</text>
<text transform="translate(1110.9 2038.7) rotate(69.2)" y="8.0" font-size="22.4">A</text>
<text transform="translate(1124.2 2088.7) rotate(81.1)" y="8.0" font-size="22.4">U</text>
<text transform="translate(1125.5 2107.2) rotate(85.3)" y="7.1" font-size="19.8">G</text>
<text transform="translate(1125.8 2122.5) rotate(88.9)" y="6.7" font-size="18.7">C</text>
<text transform="translate(1124.9 2138.1) rotate(92.5)" y="5.9" font-size="16.5">A</text>
<text transform="translate(1009.1 2221.3) rotate(125.6)" y="10.6" font-size="29.5">A</text>
<text transform="translate(944.8 2273.4) rotate(155.4)" y="10.6" font-size="29.5">G</text>
<text transform="translate(1075.3 2186.4) rotate(106.7)" y="10.2" font-size="28.5">C</text>
<text transform="translate(1052.4 2237.7) rotate(122.3)" y="10.2" font-size="28.5">A</text>
<text transform="translate(1021.5 2275.1) rotate(135.8)" y="10.2" font-size="28.5">U</text>
<text transform="translate(992.8 2298.4) rotate(146.1)" y="10.2" font-size="28.5">G</text>
<text transform="translate(967.9 2311.9) rotate(154.0)" y="10.2" font-size="28.5">A</text>
<text transform="translate(1123.7 2177.2) rotate(101.4)" y="9.5" font-size="26.5">A</text>
<text transform="translate(1114.0 2203.2) rotate(107.8)" y="6.7" font-size="18.7">C</text>
<text transform="translate(1108.3 2217.0) rotate(111.2)" y="5.9" font-size="16.5">G</text>
<text transform="translate(1102.7 2229.4) rotate(114.4)" y="5.5" font-size="15.4">U</text>
<text transform="translate(1096.6 2249.4) rotate(119.1)" y="9.1" font-size="25.5">C</text>
<text transform="translate(1082.4 2271.9) rotate(125.2)" y="9.1" font-size="25.5">U</text>
<text transform="translate(1058.5 2300.3) rotate(133.8)" y="8.8" font-size="24.5">C</text>
<text transform="translate(1024.2 2326.2) rotate(143.7)" y="5.5" font-size="15.4">C</text>
<text transform="translate(1014.7 2332.9) rotate(146.3)" y="5.5" font-size="15.4">A</text>
<text transform="translate(992.3 2346.5) rotate(152.4)" y="5.9" font-size="16.5">U</text>
<text transform="translate(980.5 2352.3) rotate(155.5)" y="5.9" font-size="16.5">C</text>
<text transform="translate(857.6 2288.0) rotate(187.2)" y="10.6" font-size="29.5">A</text>
<text transform="translate(884.0 2333.3) rotate(178.3)" y="10.2" font-size="28.5">A</text>
<text transform="translate(840.4 2330.0) rotate(190.5)" y="10.2" font-size="28.5">G</text>
<text transform="translate(811.2 2322.3) rotate(198.9)" y="10.2" font-size="28.5">U</text>
<text transform="translate(915.5 2375.7) rotate(171.4)" y="9.8" font-size="27.5">A</text>
<text transform="translate(891.2 2377.5) rotate(177.0)" y="9.1" font-size="25.5">U</text>
<text transform="translate(873.1 2376.3) rotate(181.1)" y="7.7" font-size="21.4">G</text>
<text transform="translate(858.6 2373.1) rotate(184.5)" y="5.1" font-size="14.3">C</text>
<text transform="translate(845.9 2372.1) rotate(187.4)" y="5.5" font-size="15.4">U</text>
<text transform="translate(810.4 2364.4) rotate(195.9)" y="5.1" font-size="14.3">G</text>
<text transform="translate(738.7 2209.0) rotate(239.6)" y="10.6" font-size="29.5">A</text>
<text transform="translate(712.1 2249.6) rotate(233.6)" y="10.2" font-size="28.5">A</text>
<text transform="translate(702.3 2307.0) rotate(224.4)" y="9.8" font-size="27.5">C</text>
<text transform="translate(679.3 2281.2) rotate(232.2)" y="9.8" font-size="27.5">U</text>
<text transform="translate(663.0 2256.0) rotate(239.1)" y="9.1" font-size="25.5">A</text>
<text transform="translate(653.1 2235.1) rotate(244.4)" y="8.0" font-size="22.4">G</text>
</g>
<path d="M588.2 2117.3A289.9 289.9 0 0 1 921.8 1840.8" fill="none" stroke="#000" stroke-width="3.9"/>
<path d="M929.9 1841.4A290.7 290.7 0 0 1 1015.7 1871.4" fill="none" stroke="#000" stroke-width="3.9"/>
<path d="M1088.7 1930.1A288.7 288.7 0 0 1 1151.2 2034.4" fill="none" stroke="#000" stroke-width="3.9"/>
<path d="M1159.0 2071.7A286.6 286.6 0 0 1 1163.4 2152.4" fill="none" stroke="#000" stroke-width="3.9"/>
<path d="M1160.1 2167.1A285.0 285.0 0 0 1 1135.8 2248.7" fill="none" stroke="#000" stroke-width="3.9"/>
<path d="M1131.4 2254.9A283.8 283.8 0 0 1 1100.0 2304.1" fill="none" stroke="#000" stroke-width="3.9"/>
<path d="M1094.4 2309.8A283.1 283.1 0 0 1 1070.2 2335.1" fill="none" stroke="#000" stroke-width="3.9"/>
<path d="M1051.8 2350.0A282.5 282.5 0 0 1 1028.0 2366.7" fill="none" stroke="#000" stroke-width="3.9"/>
<path d="M1014.7 2374.1A282.1 282.1 0 0 1 987.2 2387.5" fill="none" stroke="#000" stroke-width="3.9"/>
<path d="M937.4 2402.6A281.6 281.6 0 0 1 850.4 2407.7" fill="none" stroke="#000" stroke-width="3.9"/>
<path d="M846.0 2407.2A281.6 281.6 0 0 1 834.8 2405.7" fill="none" stroke="#000" stroke-width="3.9"/>
<path d="M807.8 2400.3A281.8 281.8 0 0 1 795.0 2396.7" fill="none" stroke="#000" stroke-width="3.9"/>
<path d="M694.9 2343.9A283.5 283.5 0 0 1 617.1 2238.6" fill="none" stroke="#000" stroke-width="3.9"/>
<text transform="translate(690.9 1891.5) rotate(-38.4)" font-size="28" font-weight="bold" text-anchor="middle" stroke-width="0.45"><tspan fill="#a7a9ac" stroke="#a7a9ac" stroke-width="0.9">N</tspan><tspan fill="#a7a9ac" stroke="#a7a9ac" stroke-width="0.9">N</tspan><tspan fill="#be1e2d" stroke="#be1e2d">AAG</tspan></text>
<text transform="translate(975.2 1844.7) rotate(19.0)" font-size="28" font-weight="bold" text-anchor="middle" stroke-width="0.45"><tspan fill="#808285" stroke="#808285" stroke-width="0.9">V</tspan><tspan fill="#be1e2d" stroke="#be1e2d">AGAG</tspan></text>
<text transform="translate(1136.8 1979.8) rotate(60.3)" font-size="28" font-weight="bold" text-anchor="middle" stroke-width="0.45"><tspan fill="#a7a9ac" stroke="#a7a9ac" stroke-width="0.9">N</tspan><tspan fill="#be1e2d" stroke="#be1e2d">AUAG</tspan></text>
<text transform="translate(1177.6 2114.3) rotate(87.5)" font-size="28" font-weight="bold" text-anchor="middle" stroke-width="0.45"><tspan fill="#a7a9ac" stroke="#a7a9ac" stroke-width="0.9">N</tspan><tspan fill="#be1e2d" stroke="#be1e2d">ACAG</tspan></text>
<text transform="translate(634.6 2297.8) rotate(235.0)" font-size="28" font-weight="bold" text-anchor="middle" stroke-width="0.45"><tspan fill="#a7a9ac" stroke="#a7a9ac" stroke-width="0.9">N</tspan><tspan fill="#7f3f98" stroke="#7f3f98">AAUG</tspan></text>
<text transform="translate(1163.1 2217.3) rotate(377.5)" y="8.7" font-size="24.2" font-weight="bold" text-anchor="start" stroke-width="0.45"><tspan fill="#a7a9ac" stroke="#a7a9ac" stroke-width="0.9">N</tspan><tspan fill="#0b9444" stroke="#0b9444">CAGG</tspan></text>
<text transform="translate(1128.4 2287.0) rotate(392.5)" y="8.7" font-size="24.2" font-weight="bold" text-anchor="start" stroke-width="0.45"><tspan fill="#808285" stroke="#808285" stroke-width="0.9">Y</tspan><tspan fill="#0b9444" stroke="#0b9444">AAGG</tspan></text>
<text transform="translate(1092.6 2332.6) rotate(403.7)" y="8.7" font-size="24.2" font-weight="bold" text-anchor="start" stroke-width="0.45"><tspan fill="#0b9444" stroke="#0b9444">CUAGG</tspan></text>
<text transform="translate(1047.7 2369.9) rotate(415.0)" y="8.7" font-size="24.2" font-weight="bold" text-anchor="start" stroke-width="0.45"><tspan fill="#808285" stroke="#808285" stroke-width="0.9">M</tspan><tspan fill="#0b9444" stroke="#0b9444">GAGG</tspan></text>
<text transform="translate(1007.2 2393.7) rotate(424.1)" y="8.7" font-size="24.2" font-weight="bold" text-anchor="start" stroke-width="0.45"><tspan fill="#808285" stroke="#808285" stroke-width="0.9">Y</tspan><tspan fill="#0b9444" stroke="#0b9444">AGGG</tspan></text>
<text transform="translate(885.8 2427.3) rotate(268.5)" y="8.7" font-size="24.2" font-weight="bold" text-anchor="end" stroke-width="0.45"><tspan fill="#a7a9ac" stroke="#a7a9ac" stroke-width="0.9">N</tspan><tspan fill="#1b75bc" stroke="#1b75bc">AACG</tspan></text>
<text transform="translate(838.2 2424.8) rotate(277.6)" y="8.7" font-size="24.2" font-weight="bold" text-anchor="end" stroke-width="0.45"><tspan fill="#1b75bc" stroke="#1b75bc">UGACG</tspan></text>
<text transform="translate(796.2 2416.1) rotate(285.8)" y="8.7" font-size="24.2" font-weight="bold" text-anchor="end" stroke-width="0.45"><tspan fill="#1b75bc" stroke="#1b75bc">GUACG</tspan></text>
<ellipse cx="769.4" cy="2121.1" rx="12.6" ry="9" fill="#fff"/>
<text x="768.9" y="2122.8" font-size="14" text-anchor="middle" fill="#000">-2</text>
<ellipse cx="716.4" cy="2121.1" rx="12.6" ry="9" fill="#fff"/>
<text x="715.9" y="2122.8" font-size="14" text-anchor="middle" fill="#000">-3</text>
<ellipse cx="673.6" cy="2121.1" rx="12.6" ry="9" fill="#fff"/>
<text x="673.1" y="2122.8" font-size="14" text-anchor="middle" fill="#000">-4</text>
<ellipse cx="627.6" cy="2121.1" rx="12.6" ry="9" fill="#fff"/>
<text x="627.1" y="2122.8" font-size="14" text-anchor="middle" fill="#000">-5</text>
<path d="M802.6 2127.4H560.0" stroke="#000" stroke-width="4" fill="none"/>
<path d="M546.0 2127.4l23 -10.5l-6 10.5l6 10.5z" fill="#000"/>
<circle cx="877.9" cy="2127.4" r="75.3" fill="#fff" stroke="#000" stroke-width="5.8"/>
<text x="877.4" y="2137.0" font-size="31.5" font-weight="bold" text-anchor="middle" fill="#000" stroke="#000" stroke-width="1.0">G</text>
<text x="861.4" y="2112.6" font-size="13" text-anchor="middle" fill="#000">-1</text>
</g>
</svg>
</body></html>
